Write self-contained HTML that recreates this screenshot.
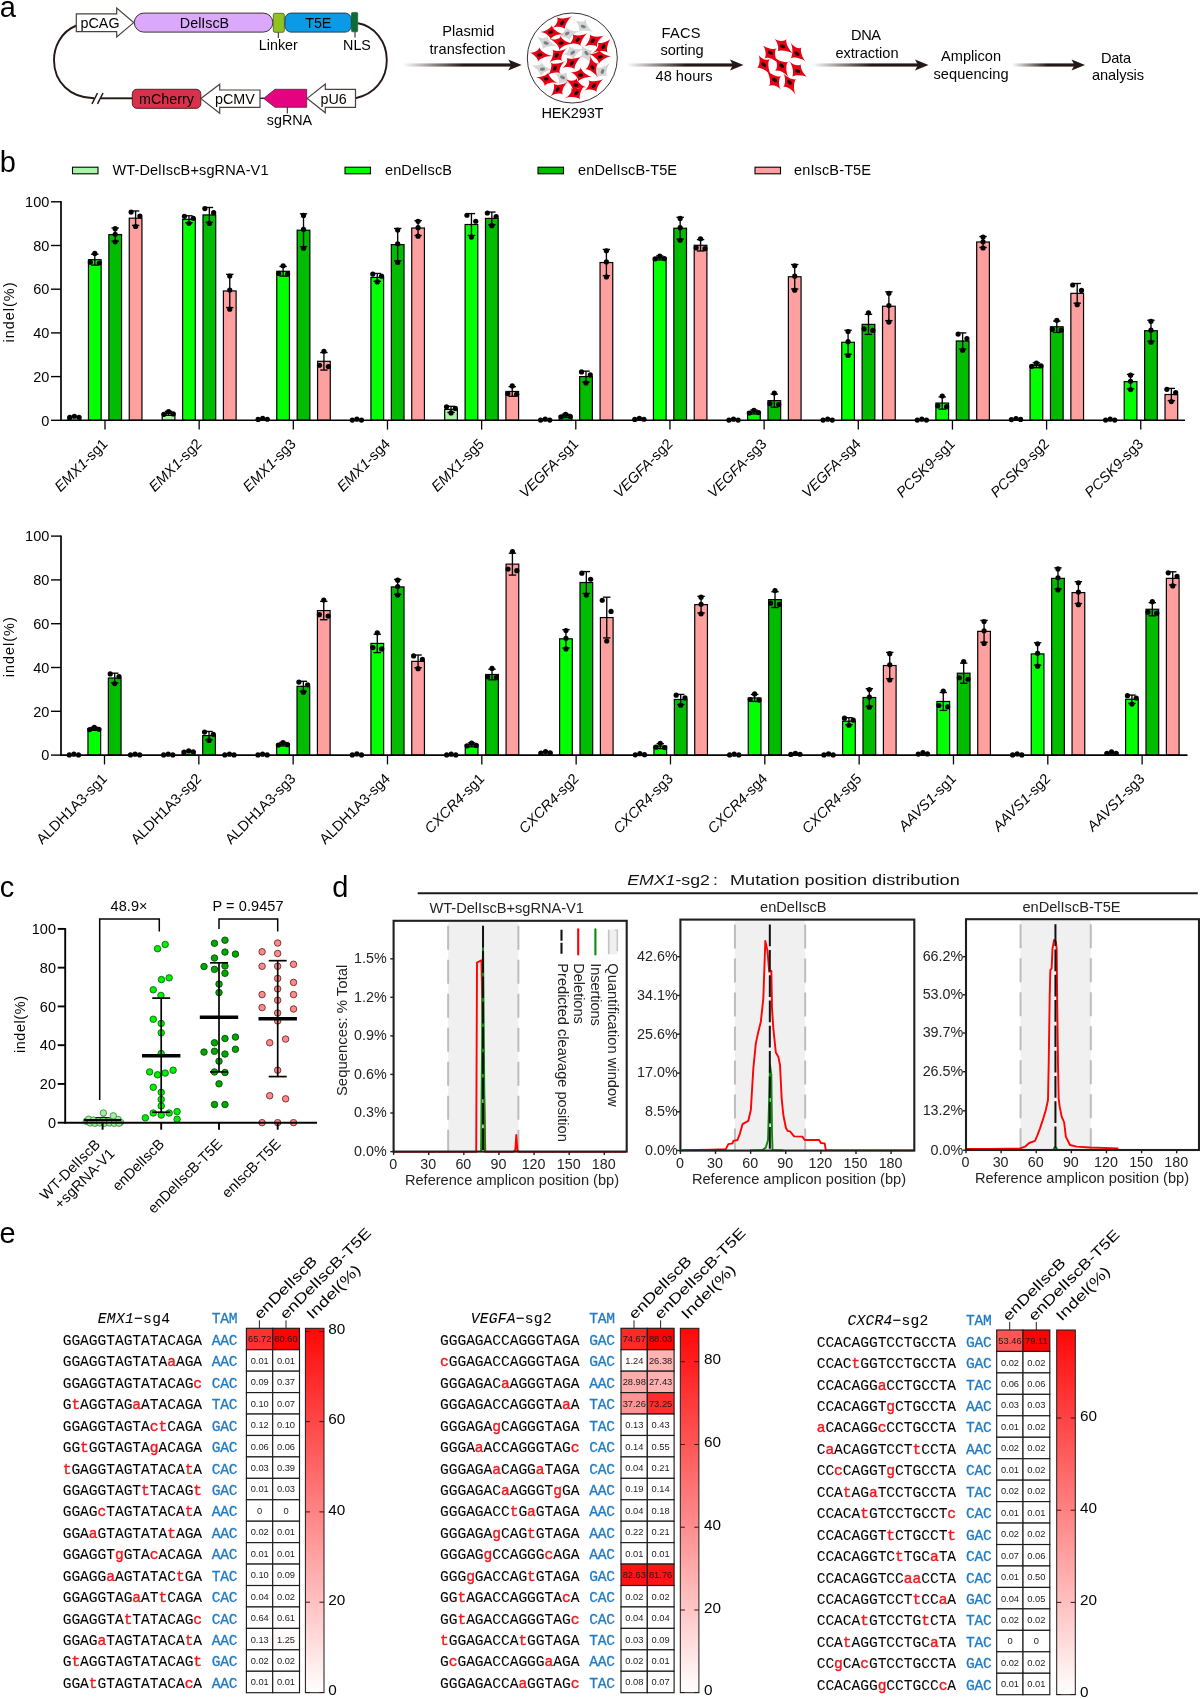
<!DOCTYPE html>
<html><head><meta charset="utf-8"><title>Figure</title>
<style>
html,body{margin:0;padding:0;background:#fff;}
svg{display:block;font-family:"Liberation Sans", sans-serif;}
</style></head><body>
<svg width="1200" height="1699" viewBox="0 0 1200 1699">
<defs>
<linearGradient id="ag" x1="0" y1="0" x2="1" y2="0"><stop offset="0" stop-color="#fff"/><stop offset="0.55" stop-color="#231815"/><stop offset="1" stop-color="#231815"/></linearGradient>
<linearGradient id="cb" x1="0" y1="0" x2="0" y2="1"><stop offset="0" stop-color="#ff0606"/><stop offset="1" stop-color="#ffffff"/></linearGradient>
</defs>
<rect x="0" y="0" width="1200" height="1699" fill="#fff"/>
<g opacity="0.996">
<text x="-0.20" y="16.80" font-size="29">a</text>
<path d="M76.5,25.5 C60,32 54,48 54,60 C54,82 70,98 94,98.3" fill="none" stroke="#231815" stroke-width="1.9" />
<path d="M358,23.3 C374,26 386.8,41 386.8,60 C386.8,80 374,94.5 355.5,98.2" fill="none" stroke="#231815" stroke-width="1.9" />
<line x1="101.00" y1="98.30" x2="132.50" y2="98.30" stroke="#231815" stroke-width="1.9" />
<line x1="92.00" y1="103.80" x2="97.50" y2="93.00" stroke="#231815" stroke-width="1.5" />
<line x1="97.50" y1="103.80" x2="103.00" y2="93.00" stroke="#231815" stroke-width="1.5" />
<line x1="260.00" y1="98.30" x2="264.00" y2="98.30" stroke="#231815" stroke-width="1.4" />
<path d="M76.3,13.8 L116.7,13.8 L116.7,8 L133.7,22.6 L116.7,37 L116.7,31.6 L76.3,31.6 Z" fill="#fff" stroke="#4a3f3c" stroke-width="1.2" />
<text x="80.60" y="27.80" font-size="14.3">pCAG</text>
<rect x="134.30" y="13.10" width="138.50" height="19.00" fill="#dca8fb" stroke="#3a2f2c" stroke-width="1" rx="9.5" />
<text x="204.50" y="27.90" font-size="14.3" text-anchor="middle">DelIscB</text>
<rect x="273.30" y="13.30" width="11.00" height="19.00" fill="#8fc31f" stroke="#4a5a1c" stroke-width="0.8" rx="1.5" />
<rect x="285.00" y="13.10" width="66.30" height="19.00" fill="#0a9be6" stroke="#1c3f5c" stroke-width="1" rx="6" />
<text x="318.30" y="27.90" font-size="14.3" text-anchor="middle">T5E</text>
<rect x="351.50" y="12.40" width="6.20" height="19.40" fill="#0b6a35" stroke="#0b4f29" stroke-width="0.6" rx="1" />
<line x1="278.30" y1="32.40" x2="278.30" y2="38.00" stroke="#231815" stroke-width="1" />
<text x="278.30" y="50.00" font-size="14.3" text-anchor="middle">Linker</text>
<line x1="355.00" y1="31.80" x2="355.00" y2="37.50" stroke="#231815" stroke-width="1" />
<text x="357.00" y="50.00" font-size="14.3" text-anchor="middle">NLS</text>
<rect x="132.30" y="89.30" width="68.50" height="19.00" fill="#d9304a" stroke="#5a1c24" stroke-width="1" rx="4.5" />
<text x="166.50" y="103.50" font-size="14.3" text-anchor="middle">mCherry</text>
<path d="M200.9,98.6 L219.7,84.2 L219.7,90 L260,90 L260,107.3 L219.7,107.3 L219.7,113.2 Z" fill="#fff" stroke="#4a3f3c" stroke-width="1.2" />
<text x="215.00" y="103.50" font-size="14.3">pCMV</text>
<path d="M263.6,98.4 L275,89.3 L306.7,89.3 L306.7,107.3 L275,107.3 Z" fill="#e4007f" stroke="#5a1c3c" stroke-width="0.8" />
<line x1="287.30" y1="107.30" x2="287.30" y2="113.50" stroke="#231815" stroke-width="1" />
<text x="289.50" y="124.80" font-size="14.3" text-anchor="middle">sgRNA</text>
<path d="M307.2,98.4 L325.3,84 L325.3,89.3 L355.5,89.3 L355.5,107.3 L325.3,107.3 L325.3,112.8 Z" fill="#fff" stroke="#4a3f3c" stroke-width="1.2" />
<text x="320.60" y="103.50" font-size="14.3">pU6</text>
<rect x="403" y="63.4" width="109.70000000000005" height="3.2" fill="url(#ag)"/>
<path d="M521.7,65 L508.20000000000005,59.4 L511.20000000000005,65 L508.20000000000005,70.6 Z" fill="#231815" stroke="none" stroke-width="0" />
<rect x="627" y="63.4" width="107.5" height="3.2" fill="url(#ag)"/>
<path d="M743.5,65 L730.0,59.4 L733.0,65 L730.0,70.6 Z" fill="#231815" stroke="none" stroke-width="0" />
<rect x="812" y="63.4" width="107.5" height="3.2" fill="url(#ag)"/>
<path d="M928.5,65 L915.0,59.4 L918.0,65 L915.0,70.6 Z" fill="#231815" stroke="none" stroke-width="0" />
<rect x="1012" y="63.4" width="64" height="3.2" fill="url(#ag)"/>
<path d="M1085,65 L1071.5,59.4 L1074.5,65 L1071.5,70.6 Z" fill="#231815" stroke="none" stroke-width="0" />
<text x="468.30" y="36.10" font-size="14.6" text-anchor="middle" textLength="52.0" lengthAdjust="spacing">Plasmid</text>
<text x="467.50" y="54.20" font-size="14.6" text-anchor="middle" textLength="76.0" lengthAdjust="spacing">transfection</text>
<text x="681.00" y="38.00" font-size="14.6" text-anchor="middle" textLength="39.0" lengthAdjust="spacing">FACS</text>
<text x="682.00" y="54.60" font-size="14.6" text-anchor="middle" textLength="43.0" lengthAdjust="spacing">sorting</text>
<text x="684.00" y="81.30" font-size="14.6" text-anchor="middle" textLength="57.0" lengthAdjust="spacing">48 hours</text>
<text x="866.00" y="39.50" font-size="14.6" text-anchor="middle" textLength="30.0" lengthAdjust="spacing">DNA</text>
<text x="867.00" y="57.50" font-size="14.6" text-anchor="middle" textLength="63.0" lengthAdjust="spacing">extraction</text>
<text x="971.00" y="61.30" font-size="14.6" text-anchor="middle" textLength="60.0" lengthAdjust="spacing">Amplicon</text>
<text x="971.00" y="78.60" font-size="14.6" text-anchor="middle" textLength="75.0" lengthAdjust="spacing">sequencing</text>
<text x="1116.00" y="63.00" font-size="14.6" text-anchor="middle" textLength="30.0" lengthAdjust="spacing">Data</text>
<text x="1118.00" y="80.30" font-size="14.6" text-anchor="middle" textLength="52.0" lengthAdjust="spacing">analysis</text>
<text x="572.50" y="117.50" font-size="14.6" text-anchor="middle" textLength="62.0" lengthAdjust="spacing">HEK293T</text>
<circle cx="572.30" cy="58.00" r="45" fill="#fff" stroke="#3a2f2c" stroke-width="1"/>
<g transform="translate(583.25 26.54) rotate(30)"><path d="M12.48,0.00 C7.24,0.00 -0.71,4.04 -1.23,6.96 C-0.71,4.04 -6.27,-0.88 -10.81,-1.52 C-6.27,-0.88 -0.64,-4.54 -1.10,-7.83 C-0.64,-4.54 7.24,0.00 12.48,0.00 Z" fill="#d3d5d6"/><ellipse cx="0" cy="0" rx="2.60" ry="1.61" fill="#7d7d7d" transform="rotate(-15)"/></g>
<g transform="translate(567.21 33.42) rotate(-15)"><path d="M12.95,1.13 C7.51,0.66 0.39,4.51 0.68,7.77 C0.39,4.51 -6.01,0.53 -10.36,0.91 C-6.01,0.53 0.36,-4.09 0.62,-7.05 C0.36,-4.09 7.51,0.66 12.95,1.13 Z" fill="#d3d5d6"/><ellipse cx="0" cy="0" rx="2.60" ry="1.61" fill="#7d7d7d" transform="rotate(-15)"/></g>
<g transform="translate(546.13 43.04) rotate(25)"><path d="M11.33,-1.59 C6.57,-0.92 -0.38,4.33 -0.65,7.46 C-0.38,4.33 -7.13,-1.26 -12.29,-2.17 C-7.13,-1.26 -1.09,-4.08 -1.88,-7.03 C-1.09,-4.08 6.57,-0.92 11.33,-1.59 Z" fill="#d3d5d6"/><ellipse cx="0" cy="0" rx="2.60" ry="1.61" fill="#7d7d7d" transform="rotate(-15)"/></g>
<g transform="translate(572.71 52.67) rotate(-20)"><path d="M12.48,0.00 C7.24,0.00 -0.71,4.04 -1.23,6.96 C-0.71,4.04 -6.27,-0.88 -10.81,-1.52 C-6.27,-0.88 -0.64,-4.54 -1.10,-7.83 C-0.64,-4.54 7.24,0.00 12.48,0.00 Z" fill="#d3d5d6"/><ellipse cx="0" cy="0" rx="2.60" ry="1.61" fill="#7d7d7d" transform="rotate(-15)"/></g>
<g transform="translate(586.46 53.13) rotate(60)"><path d="M12.95,1.13 C7.51,0.66 0.39,4.51 0.68,7.77 C0.39,4.51 -6.01,0.53 -10.36,0.91 C-6.01,0.53 0.36,-4.09 0.62,-7.05 C0.36,-4.09 7.51,0.66 12.95,1.13 Z" fill="#d3d5d6"/><ellipse cx="0" cy="0" rx="2.60" ry="1.61" fill="#7d7d7d" transform="rotate(-15)"/></g>
<g transform="translate(542.46 69.17) rotate(10)"><path d="M11.33,-1.59 C6.57,-0.92 -0.38,4.33 -0.65,7.46 C-0.38,4.33 -7.13,-1.26 -12.29,-2.17 C-7.13,-1.26 -1.09,-4.08 -1.88,-7.03 C-1.09,-4.08 6.57,-0.92 11.33,-1.59 Z" fill="#d3d5d6"/><ellipse cx="0" cy="0" rx="2.60" ry="1.61" fill="#7d7d7d" transform="rotate(-15)"/></g>
<g transform="translate(602.50 71.46) rotate(-50)"><path d="M12.48,0.00 C7.24,0.00 -0.71,4.04 -1.23,6.96 C-0.71,4.04 -6.27,-0.88 -10.81,-1.52 C-6.27,-0.88 -0.64,-4.54 -1.10,-7.83 C-0.64,-4.54 7.24,0.00 12.48,0.00 Z" fill="#d3d5d6"/><ellipse cx="0" cy="0" rx="2.60" ry="1.61" fill="#7d7d7d" transform="rotate(-15)"/></g>
<g transform="translate(562.63 77.42) rotate(35)"><path d="M12.95,1.13 C7.51,0.66 0.39,4.51 0.68,7.77 C0.39,4.51 -6.01,0.53 -10.36,0.91 C-6.01,0.53 0.36,-4.09 0.62,-7.05 C0.36,-4.09 7.51,0.66 12.95,1.13 Z" fill="#d3d5d6"/><ellipse cx="0" cy="0" rx="2.60" ry="1.61" fill="#7d7d7d" transform="rotate(-15)"/></g>
<g transform="translate(562.17 22.88) rotate(-35)"><path d="M12.48,0.00 C7.24,0.00 -0.71,4.04 -1.23,6.96 C-0.71,4.04 -6.27,-0.88 -10.81,-1.52 C-6.27,-0.88 -0.64,-4.54 -1.10,-7.83 C-0.64,-4.54 7.24,0.00 12.48,0.00 Z" fill="#e60012"/><ellipse cx="0" cy="0" rx="2.60" ry="1.61" fill="#1a0a0a" transform="rotate(-15)"/></g>
<g transform="translate(550.71 32.04) rotate(5)"><path d="M12.95,1.13 C7.51,0.66 0.39,4.51 0.68,7.77 C0.39,4.51 -6.01,0.53 -10.36,0.91 C-6.01,0.53 0.36,-4.09 0.62,-7.05 C0.36,-4.09 7.51,0.66 12.95,1.13 Z" fill="#e60012"/><ellipse cx="0" cy="0" rx="2.60" ry="1.61" fill="#1a0a0a" transform="rotate(-15)"/></g>
<g transform="translate(561.25 43.04) rotate(10)"><path d="M11.33,-1.59 C6.57,-0.92 -0.38,4.33 -0.65,7.46 C-0.38,4.33 -7.13,-1.26 -12.29,-2.17 C-7.13,-1.26 -1.09,-4.08 -1.88,-7.03 C-1.09,-4.08 6.57,-0.92 11.33,-1.59 Z" fill="#e60012"/><ellipse cx="0" cy="0" rx="2.60" ry="1.61" fill="#1a0a0a" transform="rotate(-15)"/></g>
<g transform="translate(577.75 39.83) rotate(-35)"><path d="M12.48,0.00 C7.24,0.00 -0.71,4.04 -1.23,6.96 C-0.71,4.04 -6.27,-0.88 -10.81,-1.52 C-6.27,-0.88 -0.64,-4.54 -1.10,-7.83 C-0.64,-4.54 7.24,0.00 12.48,0.00 Z" fill="#e60012"/><ellipse cx="0" cy="0" rx="2.60" ry="1.61" fill="#1a0a0a" transform="rotate(-15)"/></g>
<g transform="translate(592.88 40.75) rotate(-30)"><path d="M12.95,1.13 C7.51,0.66 0.39,4.51 0.68,7.77 C0.39,4.51 -6.01,0.53 -10.36,0.91 C-6.01,0.53 0.36,-4.09 0.62,-7.05 C0.36,-4.09 7.51,0.66 12.95,1.13 Z" fill="#e60012"/><ellipse cx="0" cy="0" rx="2.60" ry="1.61" fill="#1a0a0a" transform="rotate(-15)"/></g>
<g transform="translate(603.42 46.71) rotate(-40)"><path d="M11.33,-1.59 C6.57,-0.92 -0.38,4.33 -0.65,7.46 C-0.38,4.33 -7.13,-1.26 -12.29,-2.17 C-7.13,-1.26 -1.09,-4.08 -1.88,-7.03 C-1.09,-4.08 6.57,-0.92 11.33,-1.59 Z" fill="#e60012"/><ellipse cx="0" cy="0" rx="2.60" ry="1.61" fill="#1a0a0a" transform="rotate(-15)"/></g>
<g transform="translate(539.71 54.96) rotate(5)"><path d="M12.48,0.00 C7.24,0.00 -0.71,4.04 -1.23,6.96 C-0.71,4.04 -6.27,-0.88 -10.81,-1.52 C-6.27,-0.88 -0.64,-4.54 -1.10,-7.83 C-0.64,-4.54 7.24,0.00 12.48,0.00 Z" fill="#e60012"/><ellipse cx="0" cy="0" rx="2.60" ry="1.61" fill="#1a0a0a" transform="rotate(-15)"/></g>
<g transform="translate(556.67 55.42) rotate(-40)"><path d="M12.95,1.13 C7.51,0.66 0.39,4.51 0.68,7.77 C0.39,4.51 -6.01,0.53 -10.36,0.91 C-6.01,0.53 0.36,-4.09 0.62,-7.05 C0.36,-4.09 7.51,0.66 12.95,1.13 Z" fill="#e60012"/><ellipse cx="0" cy="0" rx="2.60" ry="1.61" fill="#1a0a0a" transform="rotate(-15)"/></g>
<g transform="translate(600.21 56.79) rotate(5)"><path d="M11.33,-1.59 C6.57,-0.92 -0.38,4.33 -0.65,7.46 C-0.38,4.33 -7.13,-1.26 -12.29,-2.17 C-7.13,-1.26 -1.09,-4.08 -1.88,-7.03 C-1.09,-4.08 6.57,-0.92 11.33,-1.59 Z" fill="#e60012"/><ellipse cx="0" cy="0" rx="2.60" ry="1.61" fill="#1a0a0a" transform="rotate(-15)"/></g>
<g transform="translate(571.79 63.21) rotate(-35)"><path d="M12.48,0.00 C7.24,0.00 -0.71,4.04 -1.23,6.96 C-0.71,4.04 -6.27,-0.88 -10.81,-1.52 C-6.27,-0.88 -0.64,-4.54 -1.10,-7.83 C-0.64,-4.54 7.24,0.00 12.48,0.00 Z" fill="#e60012"/><ellipse cx="0" cy="0" rx="2.60" ry="1.61" fill="#1a0a0a" transform="rotate(-15)"/></g>
<g transform="translate(554.83 68.25) rotate(-40)"><path d="M12.95,1.13 C7.51,0.66 0.39,4.51 0.68,7.77 C0.39,4.51 -6.01,0.53 -10.36,0.91 C-6.01,0.53 0.36,-4.09 0.62,-7.05 C0.36,-4.09 7.51,0.66 12.95,1.13 Z" fill="#e60012"/><ellipse cx="0" cy="0" rx="2.60" ry="1.61" fill="#1a0a0a" transform="rotate(-15)"/></g>
<g transform="translate(592.42 67.33) rotate(70)"><path d="M11.33,-1.59 C6.57,-0.92 -0.38,4.33 -0.65,7.46 C-0.38,4.33 -7.13,-1.26 -12.29,-2.17 C-7.13,-1.26 -1.09,-4.08 -1.88,-7.03 C-1.09,-4.08 6.57,-0.92 11.33,-1.59 Z" fill="#e60012"/><ellipse cx="0" cy="0" rx="2.60" ry="1.61" fill="#1a0a0a" transform="rotate(-15)"/></g>
<g transform="translate(580.50 75.13) rotate(10)"><path d="M12.48,0.00 C7.24,0.00 -0.71,4.04 -1.23,6.96 C-0.71,4.04 -6.27,-0.88 -10.81,-1.52 C-6.27,-0.88 -0.64,-4.54 -1.10,-7.83 C-0.64,-4.54 7.24,0.00 12.48,0.00 Z" fill="#e60012"/><ellipse cx="0" cy="0" rx="2.60" ry="1.61" fill="#1a0a0a" transform="rotate(-15)"/></g>
<g transform="translate(546.13 78.79) rotate(15)"><path d="M12.95,1.13 C7.51,0.66 0.39,4.51 0.68,7.77 C0.39,4.51 -6.01,0.53 -10.36,0.91 C-6.01,0.53 0.36,-4.09 0.62,-7.05 C0.36,-4.09 7.51,0.66 12.95,1.13 Z" fill="#e60012"/><ellipse cx="0" cy="0" rx="2.60" ry="1.61" fill="#1a0a0a" transform="rotate(-15)"/></g>
<g transform="translate(575.92 85.21) rotate(20)"><path d="M11.33,-1.59 C6.57,-0.92 -0.38,4.33 -0.65,7.46 C-0.38,4.33 -7.13,-1.26 -12.29,-2.17 C-7.13,-1.26 -1.09,-4.08 -1.88,-7.03 C-1.09,-4.08 6.57,-0.92 11.33,-1.59 Z" fill="#e60012"/><ellipse cx="0" cy="0" rx="2.60" ry="1.61" fill="#1a0a0a" transform="rotate(-15)"/></g>
<g transform="translate(593.79 85.67) rotate(-35)"><path d="M12.48,0.00 C7.24,0.00 -0.71,4.04 -1.23,6.96 C-0.71,4.04 -6.27,-0.88 -10.81,-1.52 C-6.27,-0.88 -0.64,-4.54 -1.10,-7.83 C-0.64,-4.54 7.24,0.00 12.48,0.00 Z" fill="#e60012"/><ellipse cx="0" cy="0" rx="2.60" ry="1.61" fill="#1a0a0a" transform="rotate(-15)"/></g>
<g transform="translate(557.58 89.33) rotate(-40)"><path d="M12.95,1.13 C7.51,0.66 0.39,4.51 0.68,7.77 C0.39,4.51 -6.01,0.53 -10.36,0.91 C-6.01,0.53 0.36,-4.09 0.62,-7.05 C0.36,-4.09 7.51,0.66 12.95,1.13 Z" fill="#e60012"/><ellipse cx="0" cy="0" rx="2.60" ry="1.61" fill="#1a0a0a" transform="rotate(-15)"/></g>
<g transform="translate(576.38 93.00) rotate(-35)"><path d="M11.33,-1.59 C6.57,-0.92 -0.38,4.33 -0.65,7.46 C-0.38,4.33 -7.13,-1.26 -12.29,-2.17 C-7.13,-1.26 -1.09,-4.08 -1.88,-7.03 C-1.09,-4.08 6.57,-0.92 11.33,-1.59 Z" fill="#e60012"/><ellipse cx="0" cy="0" rx="2.60" ry="1.61" fill="#1a0a0a" transform="rotate(-15)"/></g>
<g transform="translate(782.67 46.33) rotate(35)"><path d="M13.44,0.00 C7.80,0.00 -0.77,4.35 -1.32,7.50 C-0.77,4.35 -6.75,-0.95 -11.65,-1.64 C-6.75,-0.95 -0.69,-4.89 -1.18,-8.43 C-0.69,-4.89 7.80,0.00 13.44,0.00 Z" fill="#e60012"/><ellipse cx="0" cy="0" rx="2.80" ry="1.74" fill="#1a0a0a" transform="rotate(-15)"/></g>
<g transform="translate(770.33 52.67) rotate(50)"><path d="M13.95,1.22 C8.09,0.71 0.42,4.85 0.73,8.37 C0.42,4.85 -6.47,0.57 -11.16,0.98 C-6.47,0.57 0.38,-4.40 0.66,-7.59 C0.38,-4.40 8.09,0.71 13.95,1.22 Z" fill="#e60012"/><ellipse cx="0" cy="0" rx="2.80" ry="1.74" fill="#1a0a0a" transform="rotate(-15)"/></g>
<g transform="translate(797.00 53.67) rotate(50)"><path d="M12.20,-1.71 C7.08,-0.99 -0.41,4.66 -0.70,8.03 C-0.41,4.66 -7.68,-1.35 -13.24,-2.33 C-7.68,-1.35 -1.18,-4.39 -2.03,-7.57 C-1.18,-4.39 7.08,-0.99 12.20,-1.71 Z" fill="#e60012"/><ellipse cx="0" cy="0" rx="2.80" ry="1.74" fill="#1a0a0a" transform="rotate(-15)"/></g>
<g transform="translate(763.67 64.67) rotate(55)"><path d="M13.44,0.00 C7.80,0.00 -0.77,4.35 -1.32,7.50 C-0.77,4.35 -6.75,-0.95 -11.65,-1.64 C-6.75,-0.95 -0.69,-4.89 -1.18,-8.43 C-0.69,-4.89 7.80,0.00 13.44,0.00 Z" fill="#e60012"/><ellipse cx="0" cy="0" rx="2.80" ry="1.74" fill="#1a0a0a" transform="rotate(-15)"/></g>
<g transform="translate(781.67 65.67) rotate(55)"><path d="M13.95,1.22 C8.09,0.71 0.42,4.85 0.73,8.37 C0.42,4.85 -6.47,0.57 -11.16,0.98 C-6.47,0.57 0.38,-4.40 0.66,-7.59 C0.38,-4.40 8.09,0.71 13.95,1.22 Z" fill="#e60012"/><ellipse cx="0" cy="0" rx="2.80" ry="1.74" fill="#1a0a0a" transform="rotate(-15)"/></g>
<g transform="translate(797.67 71.00) rotate(40)"><path d="M12.20,-1.71 C7.08,-0.99 -0.41,4.66 -0.70,8.03 C-0.41,4.66 -7.68,-1.35 -13.24,-2.33 C-7.68,-1.35 -1.18,-4.39 -2.03,-7.57 C-1.18,-4.39 7.08,-0.99 12.20,-1.71 Z" fill="#e60012"/><ellipse cx="0" cy="0" rx="2.80" ry="1.74" fill="#1a0a0a" transform="rotate(-15)"/></g>
<g transform="translate(774.67 80.00) rotate(230)"><path d="M13.44,0.00 C7.80,0.00 -0.77,4.35 -1.32,7.50 C-0.77,4.35 -6.75,-0.95 -11.65,-1.64 C-6.75,-0.95 -0.69,-4.89 -1.18,-8.43 C-0.69,-4.89 7.80,0.00 13.44,0.00 Z" fill="#e60012"/><ellipse cx="0" cy="0" rx="2.80" ry="1.74" fill="#1a0a0a" transform="rotate(-15)"/></g>
<g transform="translate(789.67 82.33) rotate(60)"><path d="M13.95,1.22 C8.09,0.71 0.42,4.85 0.73,8.37 C0.42,4.85 -6.47,0.57 -11.16,0.98 C-6.47,0.57 0.38,-4.40 0.66,-7.59 C0.38,-4.40 8.09,0.71 13.95,1.22 Z" fill="#e60012"/><ellipse cx="0" cy="0" rx="2.80" ry="1.74" fill="#1a0a0a" transform="rotate(-15)"/></g>
<text x="-0.20" y="171.50" font-size="29">b</text>
<rect x="72.50" y="167.20" width="25.50" height="6.60" fill="#a8f5a8" stroke="#000" stroke-width="1.1" />
<text x="112.50" y="175.30" font-size="14.5" textLength="156.0" lengthAdjust="spacing">WT-DelIscB+sgRNA-V1</text>
<rect x="345.00" y="167.20" width="25.50" height="6.60" fill="#00ff00" stroke="#000" stroke-width="1.1" />
<text x="385.00" y="175.30" font-size="14.5" textLength="67.0" lengthAdjust="spacing">enDelIscB</text>
<rect x="538.00" y="167.20" width="25.50" height="6.60" fill="#00bc00" stroke="#000" stroke-width="1.1" />
<text x="578.00" y="175.30" font-size="14.5" textLength="99.0" lengthAdjust="spacing">enDelIscB-T5E</text>
<rect x="755.00" y="167.20" width="25.50" height="6.60" fill="#ffa0a0" stroke="#000" stroke-width="1.1" />
<text x="794.00" y="175.30" font-size="14.5" textLength="77.0" lengthAdjust="spacing">enIscB-T5E</text>
<rect x="68.05" y="417.02" width="12.70" height="3.28" fill="#a8f5a8" stroke="#000" stroke-width="1.2" />
<circle cx="69.80" cy="417.46" r="2.6" fill="#000" stroke="none" stroke-width="1"/>
<circle cx="74.40" cy="416.24" r="2.6" fill="#000" stroke="none" stroke-width="1"/>
<circle cx="79.00" cy="417.28" r="2.6" fill="#000" stroke="none" stroke-width="1"/>
<rect x="88.45" y="259.70" width="12.70" height="160.60" fill="#00ff00" stroke="#000" stroke-width="1.2" />
<line x1="94.80" y1="254.24" x2="94.80" y2="265.16" stroke="#000" stroke-width="1.35" />
<line x1="91.10" y1="254.24" x2="98.50" y2="254.24" stroke="#000" stroke-width="1.35" />
<line x1="91.10" y1="265.16" x2="98.50" y2="265.16" stroke="#000" stroke-width="1.35" />
<circle cx="94.80" cy="253.42" r="2.6" fill="#000" stroke="none" stroke-width="1"/>
<circle cx="90.40" cy="262.16" r="2.6" fill="#000" stroke="none" stroke-width="1"/>
<circle cx="99.20" cy="262.98" r="2.6" fill="#000" stroke="none" stroke-width="1"/>
<rect x="108.85" y="234.58" width="12.70" height="185.72" fill="#00bc00" stroke="#000" stroke-width="1.2" />
<line x1="115.20" y1="228.02" x2="115.20" y2="241.13" stroke="#000" stroke-width="1.35" />
<line x1="111.50" y1="228.02" x2="118.90" y2="228.02" stroke="#000" stroke-width="1.35" />
<line x1="111.50" y1="241.13" x2="118.90" y2="241.13" stroke="#000" stroke-width="1.35" />
<circle cx="115.20" cy="228.68" r="2.6" fill="#000" stroke="none" stroke-width="1"/>
<circle cx="115.20" cy="234.25" r="2.6" fill="#000" stroke="none" stroke-width="1"/>
<circle cx="115.20" cy="241.79" r="2.6" fill="#000" stroke="none" stroke-width="1"/>
<rect x="129.25" y="218.19" width="12.70" height="202.11" fill="#ffa0a0" stroke="#000" stroke-width="1.2" />
<line x1="135.60" y1="210.98" x2="135.60" y2="225.40" stroke="#000" stroke-width="1.35" />
<line x1="131.90" y1="210.98" x2="139.30" y2="210.98" stroke="#000" stroke-width="1.35" />
<line x1="131.90" y1="225.40" x2="139.30" y2="225.40" stroke="#000" stroke-width="1.35" />
<circle cx="131.10" cy="212.06" r="2.6" fill="#000" stroke="none" stroke-width="1"/>
<circle cx="139.90" cy="216.02" r="2.6" fill="#000" stroke="none" stroke-width="1"/>
<circle cx="135.60" cy="226.48" r="2.6" fill="#000" stroke="none" stroke-width="1"/>
<rect x="162.21" y="413.31" width="12.70" height="6.99" fill="#a8f5a8" stroke="#000" stroke-width="1.2" />
<line x1="168.56" y1="411.34" x2="168.56" y2="415.27" stroke="#000" stroke-width="1.35" />
<line x1="164.86" y1="411.34" x2="172.26" y2="411.34" stroke="#000" stroke-width="1.35" />
<line x1="164.86" y1="415.27" x2="172.26" y2="415.27" stroke="#000" stroke-width="1.35" />
<circle cx="163.96" cy="414.29" r="2.6" fill="#000" stroke="none" stroke-width="1"/>
<circle cx="168.56" cy="411.54" r="2.6" fill="#000" stroke="none" stroke-width="1"/>
<circle cx="173.16" cy="413.90" r="2.6" fill="#000" stroke="none" stroke-width="1"/>
<rect x="182.61" y="219.28" width="12.70" height="201.02" fill="#00ff00" stroke="#000" stroke-width="1.2" />
<line x1="188.96" y1="215.78" x2="188.96" y2="222.78" stroke="#000" stroke-width="1.35" />
<line x1="185.26" y1="215.78" x2="192.66" y2="215.78" stroke="#000" stroke-width="1.35" />
<line x1="185.26" y1="222.78" x2="192.66" y2="222.78" stroke="#000" stroke-width="1.35" />
<circle cx="184.46" cy="216.31" r="2.6" fill="#000" stroke="none" stroke-width="1"/>
<circle cx="193.26" cy="218.23" r="2.6" fill="#000" stroke="none" stroke-width="1"/>
<circle cx="188.96" cy="223.30" r="2.6" fill="#000" stroke="none" stroke-width="1"/>
<rect x="203.01" y="214.91" width="12.70" height="205.39" fill="#00bc00" stroke="#000" stroke-width="1.2" />
<line x1="209.36" y1="207.48" x2="209.36" y2="222.34" stroke="#000" stroke-width="1.35" />
<line x1="205.66" y1="207.48" x2="213.06" y2="207.48" stroke="#000" stroke-width="1.35" />
<line x1="205.66" y1="222.34" x2="213.06" y2="222.34" stroke="#000" stroke-width="1.35" />
<circle cx="204.86" cy="208.60" r="2.6" fill="#000" stroke="none" stroke-width="1"/>
<circle cx="213.66" cy="212.68" r="2.6" fill="#000" stroke="none" stroke-width="1"/>
<circle cx="209.36" cy="223.45" r="2.6" fill="#000" stroke="none" stroke-width="1"/>
<rect x="223.41" y="290.95" width="12.70" height="129.35" fill="#ffa0a0" stroke="#000" stroke-width="1.2" />
<line x1="229.76" y1="274.34" x2="229.76" y2="307.55" stroke="#000" stroke-width="1.35" />
<line x1="226.06" y1="274.34" x2="233.46" y2="274.34" stroke="#000" stroke-width="1.35" />
<line x1="226.06" y1="307.55" x2="233.46" y2="307.55" stroke="#000" stroke-width="1.35" />
<circle cx="229.76" cy="276.00" r="2.6" fill="#000" stroke="none" stroke-width="1"/>
<circle cx="229.76" cy="290.12" r="2.6" fill="#000" stroke="none" stroke-width="1"/>
<circle cx="229.76" cy="309.21" r="2.6" fill="#000" stroke="none" stroke-width="1"/>
<circle cx="258.12" cy="419.39" r="2.6" fill="#000" stroke="none" stroke-width="1"/>
<circle cx="262.72" cy="418.27" r="2.6" fill="#000" stroke="none" stroke-width="1"/>
<circle cx="267.32" cy="419.23" r="2.6" fill="#000" stroke="none" stroke-width="1"/>
<rect x="276.77" y="271.28" width="12.70" height="149.02" fill="#00ff00" stroke="#000" stroke-width="1.2" />
<line x1="283.12" y1="266.48" x2="283.12" y2="276.09" stroke="#000" stroke-width="1.35" />
<line x1="279.42" y1="266.48" x2="286.82" y2="266.48" stroke="#000" stroke-width="1.35" />
<line x1="279.42" y1="276.09" x2="286.82" y2="276.09" stroke="#000" stroke-width="1.35" />
<circle cx="283.12" cy="265.75" r="2.6" fill="#000" stroke="none" stroke-width="1"/>
<circle cx="278.72" cy="273.45" r="2.6" fill="#000" stroke="none" stroke-width="1"/>
<circle cx="287.52" cy="274.17" r="2.6" fill="#000" stroke="none" stroke-width="1"/>
<rect x="297.17" y="230.21" width="12.70" height="190.09" fill="#00bc00" stroke="#000" stroke-width="1.2" />
<line x1="303.52" y1="213.82" x2="303.52" y2="246.59" stroke="#000" stroke-width="1.35" />
<line x1="299.82" y1="213.82" x2="307.22" y2="213.82" stroke="#000" stroke-width="1.35" />
<line x1="299.82" y1="246.59" x2="307.22" y2="246.59" stroke="#000" stroke-width="1.35" />
<circle cx="303.52" cy="215.46" r="2.6" fill="#000" stroke="none" stroke-width="1"/>
<circle cx="303.52" cy="229.39" r="2.6" fill="#000" stroke="none" stroke-width="1"/>
<circle cx="303.52" cy="248.23" r="2.6" fill="#000" stroke="none" stroke-width="1"/>
<rect x="317.57" y="361.31" width="12.70" height="59.00" fill="#ffa0a0" stroke="#000" stroke-width="1.2" />
<line x1="323.92" y1="352.56" x2="323.92" y2="370.05" stroke="#000" stroke-width="1.35" />
<line x1="320.22" y1="352.56" x2="327.62" y2="352.56" stroke="#000" stroke-width="1.35" />
<line x1="320.22" y1="370.05" x2="327.62" y2="370.05" stroke="#000" stroke-width="1.35" />
<circle cx="323.92" cy="351.25" r="2.6" fill="#000" stroke="none" stroke-width="1"/>
<circle cx="319.52" cy="365.24" r="2.6" fill="#000" stroke="none" stroke-width="1"/>
<circle cx="328.32" cy="366.55" r="2.6" fill="#000" stroke="none" stroke-width="1"/>
<circle cx="352.28" cy="420.10" r="2.6" fill="#000" stroke="none" stroke-width="1"/>
<circle cx="356.88" cy="419.14" r="2.6" fill="#000" stroke="none" stroke-width="1"/>
<circle cx="361.48" cy="420.10" r="2.6" fill="#000" stroke="none" stroke-width="1"/>
<rect x="370.93" y="277.40" width="12.70" height="142.90" fill="#00ff00" stroke="#000" stroke-width="1.2" />
<line x1="377.28" y1="273.47" x2="377.28" y2="281.33" stroke="#000" stroke-width="1.35" />
<line x1="373.58" y1="273.47" x2="380.98" y2="273.47" stroke="#000" stroke-width="1.35" />
<line x1="373.58" y1="281.33" x2="380.98" y2="281.33" stroke="#000" stroke-width="1.35" />
<circle cx="372.78" cy="274.06" r="2.6" fill="#000" stroke="none" stroke-width="1"/>
<circle cx="381.58" cy="276.22" r="2.6" fill="#000" stroke="none" stroke-width="1"/>
<circle cx="377.28" cy="281.92" r="2.6" fill="#000" stroke="none" stroke-width="1"/>
<rect x="391.33" y="244.63" width="12.70" height="175.67" fill="#00bc00" stroke="#000" stroke-width="1.2" />
<line x1="397.68" y1="228.46" x2="397.68" y2="260.80" stroke="#000" stroke-width="1.35" />
<line x1="393.98" y1="228.46" x2="401.38" y2="228.46" stroke="#000" stroke-width="1.35" />
<line x1="393.98" y1="260.80" x2="401.38" y2="260.80" stroke="#000" stroke-width="1.35" />
<circle cx="397.68" cy="230.07" r="2.6" fill="#000" stroke="none" stroke-width="1"/>
<circle cx="397.68" cy="243.82" r="2.6" fill="#000" stroke="none" stroke-width="1"/>
<circle cx="397.68" cy="262.41" r="2.6" fill="#000" stroke="none" stroke-width="1"/>
<rect x="411.73" y="228.02" width="12.70" height="192.28" fill="#ffa0a0" stroke="#000" stroke-width="1.2" />
<line x1="418.08" y1="220.59" x2="418.08" y2="235.45" stroke="#000" stroke-width="1.35" />
<line x1="414.38" y1="220.59" x2="421.78" y2="220.59" stroke="#000" stroke-width="1.35" />
<line x1="414.38" y1="235.45" x2="421.78" y2="235.45" stroke="#000" stroke-width="1.35" />
<circle cx="418.08" cy="221.33" r="2.6" fill="#000" stroke="none" stroke-width="1"/>
<circle cx="418.08" cy="227.65" r="2.6" fill="#000" stroke="none" stroke-width="1"/>
<circle cx="418.08" cy="236.19" r="2.6" fill="#000" stroke="none" stroke-width="1"/>
<rect x="444.69" y="409.38" width="12.70" height="10.93" fill="#a8f5a8" stroke="#000" stroke-width="1.2" />
<line x1="451.04" y1="406.32" x2="451.04" y2="412.43" stroke="#000" stroke-width="1.35" />
<line x1="447.34" y1="406.32" x2="454.74" y2="406.32" stroke="#000" stroke-width="1.35" />
<line x1="447.34" y1="412.43" x2="454.74" y2="412.43" stroke="#000" stroke-width="1.35" />
<circle cx="446.54" cy="406.77" r="2.6" fill="#000" stroke="none" stroke-width="1"/>
<circle cx="455.34" cy="408.46" r="2.6" fill="#000" stroke="none" stroke-width="1"/>
<circle cx="451.04" cy="412.89" r="2.6" fill="#000" stroke="none" stroke-width="1"/>
<rect x="465.09" y="224.52" width="12.70" height="195.78" fill="#00ff00" stroke="#000" stroke-width="1.2" />
<line x1="471.44" y1="213.60" x2="471.44" y2="235.45" stroke="#000" stroke-width="1.35" />
<line x1="467.74" y1="213.60" x2="475.14" y2="213.60" stroke="#000" stroke-width="1.35" />
<line x1="467.74" y1="235.45" x2="475.14" y2="235.45" stroke="#000" stroke-width="1.35" />
<circle cx="466.94" cy="215.24" r="2.6" fill="#000" stroke="none" stroke-width="1"/>
<circle cx="475.74" cy="221.25" r="2.6" fill="#000" stroke="none" stroke-width="1"/>
<circle cx="471.44" cy="237.09" r="2.6" fill="#000" stroke="none" stroke-width="1"/>
<rect x="485.49" y="218.41" width="12.70" height="201.89" fill="#00bc00" stroke="#000" stroke-width="1.2" />
<line x1="491.84" y1="212.07" x2="491.84" y2="224.74" stroke="#000" stroke-width="1.35" />
<line x1="488.14" y1="212.07" x2="495.54" y2="212.07" stroke="#000" stroke-width="1.35" />
<line x1="488.14" y1="224.74" x2="495.54" y2="224.74" stroke="#000" stroke-width="1.35" />
<circle cx="487.34" cy="213.02" r="2.6" fill="#000" stroke="none" stroke-width="1"/>
<circle cx="496.14" cy="216.51" r="2.6" fill="#000" stroke="none" stroke-width="1"/>
<circle cx="491.84" cy="225.69" r="2.6" fill="#000" stroke="none" stroke-width="1"/>
<rect x="505.89" y="391.46" width="12.70" height="28.84" fill="#ffa0a0" stroke="#000" stroke-width="1.2" />
<line x1="512.24" y1="386.65" x2="512.24" y2="396.27" stroke="#000" stroke-width="1.35" />
<line x1="508.54" y1="386.65" x2="515.94" y2="386.65" stroke="#000" stroke-width="1.35" />
<line x1="508.54" y1="396.27" x2="515.94" y2="396.27" stroke="#000" stroke-width="1.35" />
<circle cx="512.24" cy="385.93" r="2.6" fill="#000" stroke="none" stroke-width="1"/>
<circle cx="507.84" cy="393.62" r="2.6" fill="#000" stroke="none" stroke-width="1"/>
<circle cx="516.64" cy="394.34" r="2.6" fill="#000" stroke="none" stroke-width="1"/>
<circle cx="540.60" cy="420.10" r="2.6" fill="#000" stroke="none" stroke-width="1"/>
<circle cx="545.20" cy="419.14" r="2.6" fill="#000" stroke="none" stroke-width="1"/>
<circle cx="549.80" cy="420.10" r="2.6" fill="#000" stroke="none" stroke-width="1"/>
<rect x="559.25" y="415.93" width="12.70" height="4.37" fill="#00ff00" stroke="#000" stroke-width="1.2" />
<line x1="565.60" y1="414.18" x2="565.60" y2="417.68" stroke="#000" stroke-width="1.35" />
<line x1="561.90" y1="414.18" x2="569.30" y2="414.18" stroke="#000" stroke-width="1.35" />
<line x1="561.90" y1="417.68" x2="569.30" y2="417.68" stroke="#000" stroke-width="1.35" />
<circle cx="561.00" cy="416.80" r="2.6" fill="#000" stroke="none" stroke-width="1"/>
<circle cx="565.60" cy="414.36" r="2.6" fill="#000" stroke="none" stroke-width="1"/>
<circle cx="570.20" cy="416.45" r="2.6" fill="#000" stroke="none" stroke-width="1"/>
<rect x="579.65" y="376.60" width="12.70" height="43.70" fill="#00bc00" stroke="#000" stroke-width="1.2" />
<line x1="586.00" y1="371.14" x2="586.00" y2="382.06" stroke="#000" stroke-width="1.35" />
<line x1="582.30" y1="371.14" x2="589.70" y2="371.14" stroke="#000" stroke-width="1.35" />
<line x1="582.30" y1="382.06" x2="589.70" y2="382.06" stroke="#000" stroke-width="1.35" />
<circle cx="581.50" cy="371.96" r="2.6" fill="#000" stroke="none" stroke-width="1"/>
<circle cx="590.30" cy="374.96" r="2.6" fill="#000" stroke="none" stroke-width="1"/>
<circle cx="586.00" cy="382.88" r="2.6" fill="#000" stroke="none" stroke-width="1"/>
<rect x="600.05" y="262.54" width="12.70" height="157.76" fill="#ffa0a0" stroke="#000" stroke-width="1.2" />
<line x1="606.40" y1="249.43" x2="606.40" y2="275.65" stroke="#000" stroke-width="1.35" />
<line x1="602.70" y1="249.43" x2="610.10" y2="249.43" stroke="#000" stroke-width="1.35" />
<line x1="602.70" y1="275.65" x2="610.10" y2="275.65" stroke="#000" stroke-width="1.35" />
<circle cx="606.40" cy="250.74" r="2.6" fill="#000" stroke="none" stroke-width="1"/>
<circle cx="606.40" cy="261.89" r="2.6" fill="#000" stroke="none" stroke-width="1"/>
<circle cx="606.40" cy="276.96" r="2.6" fill="#000" stroke="none" stroke-width="1"/>
<circle cx="634.76" cy="419.39" r="2.6" fill="#000" stroke="none" stroke-width="1"/>
<circle cx="639.36" cy="418.27" r="2.6" fill="#000" stroke="none" stroke-width="1"/>
<circle cx="643.96" cy="419.23" r="2.6" fill="#000" stroke="none" stroke-width="1"/>
<rect x="653.41" y="257.95" width="12.70" height="162.35" fill="#00ff00" stroke="#000" stroke-width="1.2" />
<line x1="659.76" y1="255.99" x2="659.76" y2="259.92" stroke="#000" stroke-width="1.35" />
<line x1="656.06" y1="255.99" x2="663.46" y2="255.99" stroke="#000" stroke-width="1.35" />
<line x1="656.06" y1="259.92" x2="663.46" y2="259.92" stroke="#000" stroke-width="1.35" />
<circle cx="655.16" cy="258.94" r="2.6" fill="#000" stroke="none" stroke-width="1"/>
<circle cx="659.76" cy="256.18" r="2.6" fill="#000" stroke="none" stroke-width="1"/>
<circle cx="664.36" cy="258.54" r="2.6" fill="#000" stroke="none" stroke-width="1"/>
<rect x="673.81" y="228.24" width="12.70" height="192.06" fill="#00bc00" stroke="#000" stroke-width="1.2" />
<line x1="680.16" y1="217.31" x2="680.16" y2="239.16" stroke="#000" stroke-width="1.35" />
<line x1="676.46" y1="217.31" x2="683.86" y2="217.31" stroke="#000" stroke-width="1.35" />
<line x1="676.46" y1="239.16" x2="683.86" y2="239.16" stroke="#000" stroke-width="1.35" />
<circle cx="680.16" cy="218.41" r="2.6" fill="#000" stroke="none" stroke-width="1"/>
<circle cx="680.16" cy="227.69" r="2.6" fill="#000" stroke="none" stroke-width="1"/>
<circle cx="680.16" cy="240.26" r="2.6" fill="#000" stroke="none" stroke-width="1"/>
<rect x="694.21" y="245.28" width="12.70" height="175.02" fill="#ffa0a0" stroke="#000" stroke-width="1.2" />
<line x1="700.56" y1="239.60" x2="700.56" y2="250.96" stroke="#000" stroke-width="1.35" />
<line x1="696.86" y1="239.60" x2="704.26" y2="239.60" stroke="#000" stroke-width="1.35" />
<line x1="696.86" y1="250.96" x2="704.26" y2="250.96" stroke="#000" stroke-width="1.35" />
<circle cx="700.56" cy="238.75" r="2.6" fill="#000" stroke="none" stroke-width="1"/>
<circle cx="696.16" cy="247.84" r="2.6" fill="#000" stroke="none" stroke-width="1"/>
<circle cx="704.96" cy="248.69" r="2.6" fill="#000" stroke="none" stroke-width="1"/>
<circle cx="728.92" cy="420.10" r="2.6" fill="#000" stroke="none" stroke-width="1"/>
<circle cx="733.52" cy="419.14" r="2.6" fill="#000" stroke="none" stroke-width="1"/>
<circle cx="738.12" cy="420.10" r="2.6" fill="#000" stroke="none" stroke-width="1"/>
<rect x="747.57" y="412.00" width="12.70" height="8.30" fill="#00ff00" stroke="#000" stroke-width="1.2" />
<line x1="753.92" y1="410.03" x2="753.92" y2="413.96" stroke="#000" stroke-width="1.35" />
<line x1="750.22" y1="410.03" x2="757.62" y2="410.03" stroke="#000" stroke-width="1.35" />
<line x1="750.22" y1="413.96" x2="757.62" y2="413.96" stroke="#000" stroke-width="1.35" />
<circle cx="749.32" cy="412.98" r="2.6" fill="#000" stroke="none" stroke-width="1"/>
<circle cx="753.92" cy="410.23" r="2.6" fill="#000" stroke="none" stroke-width="1"/>
<circle cx="758.52" cy="412.59" r="2.6" fill="#000" stroke="none" stroke-width="1"/>
<rect x="767.97" y="400.63" width="12.70" height="19.66" fill="#00bc00" stroke="#000" stroke-width="1.2" />
<line x1="774.32" y1="394.08" x2="774.32" y2="407.19" stroke="#000" stroke-width="1.35" />
<line x1="770.62" y1="394.08" x2="778.02" y2="394.08" stroke="#000" stroke-width="1.35" />
<line x1="770.62" y1="407.19" x2="778.02" y2="407.19" stroke="#000" stroke-width="1.35" />
<circle cx="774.32" cy="393.10" r="2.6" fill="#000" stroke="none" stroke-width="1"/>
<circle cx="769.92" cy="403.58" r="2.6" fill="#000" stroke="none" stroke-width="1"/>
<circle cx="778.72" cy="404.57" r="2.6" fill="#000" stroke="none" stroke-width="1"/>
<rect x="788.37" y="276.75" width="12.70" height="143.55" fill="#ffa0a0" stroke="#000" stroke-width="1.2" />
<line x1="794.72" y1="264.51" x2="794.72" y2="288.98" stroke="#000" stroke-width="1.35" />
<line x1="791.02" y1="264.51" x2="798.42" y2="264.51" stroke="#000" stroke-width="1.35" />
<line x1="791.02" y1="288.98" x2="798.42" y2="288.98" stroke="#000" stroke-width="1.35" />
<circle cx="794.72" cy="265.73" r="2.6" fill="#000" stroke="none" stroke-width="1"/>
<circle cx="794.72" cy="276.13" r="2.6" fill="#000" stroke="none" stroke-width="1"/>
<circle cx="794.72" cy="290.21" r="2.6" fill="#000" stroke="none" stroke-width="1"/>
<circle cx="823.08" cy="420.10" r="2.6" fill="#000" stroke="none" stroke-width="1"/>
<circle cx="827.68" cy="419.14" r="2.6" fill="#000" stroke="none" stroke-width="1"/>
<circle cx="832.28" cy="420.10" r="2.6" fill="#000" stroke="none" stroke-width="1"/>
<rect x="841.73" y="342.30" width="12.70" height="78.00" fill="#00ff00" stroke="#000" stroke-width="1.2" />
<line x1="848.08" y1="330.28" x2="848.08" y2="354.31" stroke="#000" stroke-width="1.35" />
<line x1="844.38" y1="330.28" x2="851.78" y2="330.28" stroke="#000" stroke-width="1.35" />
<line x1="844.38" y1="354.31" x2="851.78" y2="354.31" stroke="#000" stroke-width="1.35" />
<circle cx="848.08" cy="331.48" r="2.6" fill="#000" stroke="none" stroke-width="1"/>
<circle cx="848.08" cy="341.69" r="2.6" fill="#000" stroke="none" stroke-width="1"/>
<circle cx="848.08" cy="355.51" r="2.6" fill="#000" stroke="none" stroke-width="1"/>
<rect x="862.13" y="324.38" width="12.70" height="95.92" fill="#00bc00" stroke="#000" stroke-width="1.2" />
<line x1="868.48" y1="314.33" x2="868.48" y2="334.43" stroke="#000" stroke-width="1.35" />
<line x1="864.78" y1="314.33" x2="872.18" y2="314.33" stroke="#000" stroke-width="1.35" />
<line x1="864.78" y1="334.43" x2="872.18" y2="334.43" stroke="#000" stroke-width="1.35" />
<circle cx="868.48" cy="312.82" r="2.6" fill="#000" stroke="none" stroke-width="1"/>
<circle cx="864.08" cy="328.90" r="2.6" fill="#000" stroke="none" stroke-width="1"/>
<circle cx="872.88" cy="330.41" r="2.6" fill="#000" stroke="none" stroke-width="1"/>
<rect x="882.53" y="306.24" width="12.70" height="114.06" fill="#ffa0a0" stroke="#000" stroke-width="1.2" />
<line x1="888.88" y1="291.82" x2="888.88" y2="320.66" stroke="#000" stroke-width="1.35" />
<line x1="885.18" y1="291.82" x2="892.58" y2="291.82" stroke="#000" stroke-width="1.35" />
<line x1="885.18" y1="320.66" x2="892.58" y2="320.66" stroke="#000" stroke-width="1.35" />
<circle cx="888.88" cy="293.26" r="2.6" fill="#000" stroke="none" stroke-width="1"/>
<circle cx="888.88" cy="305.52" r="2.6" fill="#000" stroke="none" stroke-width="1"/>
<circle cx="888.88" cy="322.11" r="2.6" fill="#000" stroke="none" stroke-width="1"/>
<circle cx="917.24" cy="420.10" r="2.6" fill="#000" stroke="none" stroke-width="1"/>
<circle cx="921.84" cy="419.14" r="2.6" fill="#000" stroke="none" stroke-width="1"/>
<circle cx="926.44" cy="420.10" r="2.6" fill="#000" stroke="none" stroke-width="1"/>
<rect x="935.89" y="403.04" width="12.70" height="17.26" fill="#00ff00" stroke="#000" stroke-width="1.2" />
<line x1="942.24" y1="396.92" x2="942.24" y2="409.16" stroke="#000" stroke-width="1.35" />
<line x1="938.54" y1="396.92" x2="945.94" y2="396.92" stroke="#000" stroke-width="1.35" />
<line x1="938.54" y1="409.16" x2="945.94" y2="409.16" stroke="#000" stroke-width="1.35" />
<circle cx="942.24" cy="396.00" r="2.6" fill="#000" stroke="none" stroke-width="1"/>
<circle cx="937.84" cy="405.79" r="2.6" fill="#000" stroke="none" stroke-width="1"/>
<circle cx="946.64" cy="406.71" r="2.6" fill="#000" stroke="none" stroke-width="1"/>
<rect x="956.29" y="340.98" width="12.70" height="79.32" fill="#00bc00" stroke="#000" stroke-width="1.2" />
<line x1="962.64" y1="332.90" x2="962.64" y2="349.07" stroke="#000" stroke-width="1.35" />
<line x1="958.94" y1="332.90" x2="966.34" y2="332.90" stroke="#000" stroke-width="1.35" />
<line x1="958.94" y1="349.07" x2="966.34" y2="349.07" stroke="#000" stroke-width="1.35" />
<circle cx="958.14" cy="334.11" r="2.6" fill="#000" stroke="none" stroke-width="1"/>
<circle cx="966.94" cy="338.56" r="2.6" fill="#000" stroke="none" stroke-width="1"/>
<circle cx="962.64" cy="350.28" r="2.6" fill="#000" stroke="none" stroke-width="1"/>
<rect x="976.69" y="242.00" width="12.70" height="178.30" fill="#ffa0a0" stroke="#000" stroke-width="1.2" />
<line x1="983.04" y1="236.54" x2="983.04" y2="247.47" stroke="#000" stroke-width="1.35" />
<line x1="979.34" y1="236.54" x2="986.74" y2="236.54" stroke="#000" stroke-width="1.35" />
<line x1="979.34" y1="247.47" x2="986.74" y2="247.47" stroke="#000" stroke-width="1.35" />
<circle cx="983.04" cy="237.09" r="2.6" fill="#000" stroke="none" stroke-width="1"/>
<circle cx="983.04" cy="241.73" r="2.6" fill="#000" stroke="none" stroke-width="1"/>
<circle cx="983.04" cy="248.01" r="2.6" fill="#000" stroke="none" stroke-width="1"/>
<circle cx="1011.40" cy="419.61" r="2.6" fill="#000" stroke="none" stroke-width="1"/>
<circle cx="1016.00" cy="418.49" r="2.6" fill="#000" stroke="none" stroke-width="1"/>
<circle cx="1020.60" cy="419.45" r="2.6" fill="#000" stroke="none" stroke-width="1"/>
<rect x="1030.05" y="365.24" width="12.70" height="55.06" fill="#00ff00" stroke="#000" stroke-width="1.2" />
<line x1="1036.40" y1="362.83" x2="1036.40" y2="367.64" stroke="#000" stroke-width="1.35" />
<line x1="1032.70" y1="362.83" x2="1040.10" y2="362.83" stroke="#000" stroke-width="1.35" />
<line x1="1032.70" y1="367.64" x2="1040.10" y2="367.64" stroke="#000" stroke-width="1.35" />
<circle cx="1031.80" cy="366.44" r="2.6" fill="#000" stroke="none" stroke-width="1"/>
<circle cx="1036.40" cy="363.07" r="2.6" fill="#000" stroke="none" stroke-width="1"/>
<circle cx="1041.00" cy="365.96" r="2.6" fill="#000" stroke="none" stroke-width="1"/>
<rect x="1050.45" y="326.78" width="12.70" height="93.52" fill="#00bc00" stroke="#000" stroke-width="1.2" />
<line x1="1056.80" y1="321.10" x2="1056.80" y2="332.46" stroke="#000" stroke-width="1.35" />
<line x1="1053.10" y1="321.10" x2="1060.50" y2="321.10" stroke="#000" stroke-width="1.35" />
<line x1="1053.10" y1="332.46" x2="1060.50" y2="332.46" stroke="#000" stroke-width="1.35" />
<circle cx="1056.80" cy="320.25" r="2.6" fill="#000" stroke="none" stroke-width="1"/>
<circle cx="1052.40" cy="329.34" r="2.6" fill="#000" stroke="none" stroke-width="1"/>
<circle cx="1061.20" cy="330.19" r="2.6" fill="#000" stroke="none" stroke-width="1"/>
<rect x="1070.85" y="293.35" width="12.70" height="126.95" fill="#ffa0a0" stroke="#000" stroke-width="1.2" />
<line x1="1077.20" y1="283.52" x2="1077.20" y2="303.18" stroke="#000" stroke-width="1.35" />
<line x1="1073.50" y1="283.52" x2="1080.90" y2="283.52" stroke="#000" stroke-width="1.35" />
<line x1="1073.50" y1="303.18" x2="1080.90" y2="303.18" stroke="#000" stroke-width="1.35" />
<circle cx="1072.70" cy="284.99" r="2.6" fill="#000" stroke="none" stroke-width="1"/>
<circle cx="1081.50" cy="290.40" r="2.6" fill="#000" stroke="none" stroke-width="1"/>
<circle cx="1077.20" cy="304.66" r="2.6" fill="#000" stroke="none" stroke-width="1"/>
<circle cx="1105.56" cy="420.10" r="2.6" fill="#000" stroke="none" stroke-width="1"/>
<circle cx="1110.16" cy="419.14" r="2.6" fill="#000" stroke="none" stroke-width="1"/>
<circle cx="1114.76" cy="420.10" r="2.6" fill="#000" stroke="none" stroke-width="1"/>
<rect x="1124.21" y="381.63" width="12.70" height="38.67" fill="#00ff00" stroke="#000" stroke-width="1.2" />
<line x1="1130.56" y1="374.41" x2="1130.56" y2="388.84" stroke="#000" stroke-width="1.35" />
<line x1="1126.86" y1="374.41" x2="1134.26" y2="374.41" stroke="#000" stroke-width="1.35" />
<line x1="1126.86" y1="388.84" x2="1134.26" y2="388.84" stroke="#000" stroke-width="1.35" />
<circle cx="1130.56" cy="375.14" r="2.6" fill="#000" stroke="none" stroke-width="1"/>
<circle cx="1130.56" cy="381.26" r="2.6" fill="#000" stroke="none" stroke-width="1"/>
<circle cx="1130.56" cy="389.56" r="2.6" fill="#000" stroke="none" stroke-width="1"/>
<rect x="1144.61" y="330.72" width="12.70" height="89.59" fill="#00bc00" stroke="#000" stroke-width="1.2" />
<line x1="1150.96" y1="320.23" x2="1150.96" y2="341.20" stroke="#000" stroke-width="1.35" />
<line x1="1147.26" y1="320.23" x2="1154.66" y2="320.23" stroke="#000" stroke-width="1.35" />
<line x1="1147.26" y1="341.20" x2="1154.66" y2="341.20" stroke="#000" stroke-width="1.35" />
<circle cx="1150.96" cy="321.28" r="2.6" fill="#000" stroke="none" stroke-width="1"/>
<circle cx="1150.96" cy="330.19" r="2.6" fill="#000" stroke="none" stroke-width="1"/>
<circle cx="1150.96" cy="342.25" r="2.6" fill="#000" stroke="none" stroke-width="1"/>
<rect x="1165.01" y="394.52" width="12.70" height="25.78" fill="#ffa0a0" stroke="#000" stroke-width="1.2" />
<line x1="1171.36" y1="388.40" x2="1171.36" y2="400.63" stroke="#000" stroke-width="1.35" />
<line x1="1167.66" y1="388.40" x2="1175.06" y2="388.40" stroke="#000" stroke-width="1.35" />
<line x1="1167.66" y1="400.63" x2="1175.06" y2="400.63" stroke="#000" stroke-width="1.35" />
<circle cx="1166.86" cy="389.32" r="2.6" fill="#000" stroke="none" stroke-width="1"/>
<circle cx="1175.66" cy="392.68" r="2.6" fill="#000" stroke="none" stroke-width="1"/>
<circle cx="1171.36" cy="401.55" r="2.6" fill="#000" stroke="none" stroke-width="1"/>
<line x1="61.00" y1="201.10" x2="61.00" y2="421.10" stroke="#000" stroke-width="1.7" />
<line x1="60.20" y1="420.30" x2="1185.00" y2="420.30" stroke="#000" stroke-width="1.6" />
<line x1="51.00" y1="420.30" x2="61.00" y2="420.30" stroke="#000" stroke-width="1.4" />
<text x="49.30" y="425.50" font-size="14.5" text-anchor="end">0</text>
<line x1="51.00" y1="376.60" x2="61.00" y2="376.60" stroke="#000" stroke-width="1.4" />
<text x="49.30" y="381.80" font-size="14.5" text-anchor="end">20</text>
<line x1="51.00" y1="332.90" x2="61.00" y2="332.90" stroke="#000" stroke-width="1.4" />
<text x="49.30" y="338.10" font-size="14.5" text-anchor="end">40</text>
<line x1="51.00" y1="289.20" x2="61.00" y2="289.20" stroke="#000" stroke-width="1.4" />
<text x="49.30" y="294.40" font-size="14.5" text-anchor="end">60</text>
<line x1="51.00" y1="245.50" x2="61.00" y2="245.50" stroke="#000" stroke-width="1.4" />
<text x="49.30" y="250.70" font-size="14.5" text-anchor="end">80</text>
<line x1="51.00" y1="201.80" x2="61.00" y2="201.80" stroke="#000" stroke-width="1.4" />
<text x="49.30" y="207.00" font-size="14.5" text-anchor="end">100</text>
<line x1="105.00" y1="420.30" x2="105.00" y2="429.60" stroke="#000" stroke-width="1.3" />
<text x="108.40" y="444.70" font-size="14.5" text-anchor="end" transform="rotate(-45 108.40 444.70)"><tspan font-style="italic">EMX1</tspan>-sg1</text>
<line x1="199.16" y1="420.30" x2="199.16" y2="429.60" stroke="#000" stroke-width="1.3" />
<text x="202.56" y="444.70" font-size="14.5" text-anchor="end" transform="rotate(-45 202.56 444.70)"><tspan font-style="italic">EMX1</tspan>-sg2</text>
<line x1="293.32" y1="420.30" x2="293.32" y2="429.60" stroke="#000" stroke-width="1.3" />
<text x="296.72" y="444.70" font-size="14.5" text-anchor="end" transform="rotate(-45 296.72 444.70)"><tspan font-style="italic">EMX1</tspan>-sg3</text>
<line x1="387.48" y1="420.30" x2="387.48" y2="429.60" stroke="#000" stroke-width="1.3" />
<text x="390.88" y="444.70" font-size="14.5" text-anchor="end" transform="rotate(-45 390.88 444.70)"><tspan font-style="italic">EMX1</tspan>-sg4</text>
<line x1="481.64" y1="420.30" x2="481.64" y2="429.60" stroke="#000" stroke-width="1.3" />
<text x="485.04" y="444.70" font-size="14.5" text-anchor="end" transform="rotate(-45 485.04 444.70)"><tspan font-style="italic">EMX1</tspan>-sg5</text>
<line x1="575.80" y1="420.30" x2="575.80" y2="429.60" stroke="#000" stroke-width="1.3" />
<text x="579.20" y="444.70" font-size="14.5" text-anchor="end" transform="rotate(-45 579.20 444.70)"><tspan font-style="italic">VEGFA</tspan>-sg1</text>
<line x1="669.96" y1="420.30" x2="669.96" y2="429.60" stroke="#000" stroke-width="1.3" />
<text x="673.36" y="444.70" font-size="14.5" text-anchor="end" transform="rotate(-45 673.36 444.70)"><tspan font-style="italic">VEGFA</tspan>-sg2</text>
<line x1="764.12" y1="420.30" x2="764.12" y2="429.60" stroke="#000" stroke-width="1.3" />
<text x="767.52" y="444.70" font-size="14.5" text-anchor="end" transform="rotate(-45 767.52 444.70)"><tspan font-style="italic">VEGFA</tspan>-sg3</text>
<line x1="858.28" y1="420.30" x2="858.28" y2="429.60" stroke="#000" stroke-width="1.3" />
<text x="861.68" y="444.70" font-size="14.5" text-anchor="end" transform="rotate(-45 861.68 444.70)"><tspan font-style="italic">VEGFA</tspan>-sg4</text>
<line x1="952.44" y1="420.30" x2="952.44" y2="429.60" stroke="#000" stroke-width="1.3" />
<text x="955.84" y="444.70" font-size="14.5" text-anchor="end" transform="rotate(-45 955.84 444.70)"><tspan font-style="italic">PCSK9</tspan>-sg1</text>
<line x1="1046.60" y1="420.30" x2="1046.60" y2="429.60" stroke="#000" stroke-width="1.3" />
<text x="1050.00" y="444.70" font-size="14.5" text-anchor="end" transform="rotate(-45 1050.00 444.70)"><tspan font-style="italic">PCSK9</tspan>-sg2</text>
<line x1="1140.76" y1="420.30" x2="1140.76" y2="429.60" stroke="#000" stroke-width="1.3" />
<text x="1144.16" y="444.70" font-size="14.5" text-anchor="end" transform="rotate(-45 1144.16 444.70)"><tspan font-style="italic">PCSK9</tspan>-sg3</text>
<text x="14.30" y="312.50" font-size="14.5" text-anchor="middle" transform="rotate(-90 14.30 312.50)" textLength="60.0" lengthAdjust="spacing">indel(%)</text>
<circle cx="69.30" cy="754.90" r="2.6" fill="#000" stroke="none" stroke-width="1"/>
<circle cx="73.90" cy="754.16" r="2.6" fill="#000" stroke="none" stroke-width="1"/>
<circle cx="78.50" cy="754.90" r="2.6" fill="#000" stroke="none" stroke-width="1"/>
<rect x="87.95" y="728.82" width="12.70" height="26.28" fill="#00ff00" stroke="#000" stroke-width="1.2" />
<line x1="94.30" y1="727.29" x2="94.30" y2="730.35" stroke="#000" stroke-width="1.35" />
<line x1="90.60" y1="727.29" x2="98.00" y2="727.29" stroke="#000" stroke-width="1.35" />
<line x1="90.60" y1="730.35" x2="98.00" y2="730.35" stroke="#000" stroke-width="1.35" />
<circle cx="89.70" cy="729.59" r="2.6" fill="#000" stroke="none" stroke-width="1"/>
<circle cx="94.30" cy="727.44" r="2.6" fill="#000" stroke="none" stroke-width="1"/>
<circle cx="98.90" cy="729.28" r="2.6" fill="#000" stroke="none" stroke-width="1"/>
<rect x="108.35" y="678.01" width="12.70" height="77.09" fill="#00bc00" stroke="#000" stroke-width="1.2" />
<line x1="114.70" y1="673.19" x2="114.70" y2="682.83" stroke="#000" stroke-width="1.35" />
<line x1="111.00" y1="673.19" x2="118.40" y2="673.19" stroke="#000" stroke-width="1.35" />
<line x1="111.00" y1="682.83" x2="118.40" y2="682.83" stroke="#000" stroke-width="1.35" />
<circle cx="110.20" cy="673.92" r="2.6" fill="#000" stroke="none" stroke-width="1"/>
<circle cx="119.00" cy="676.57" r="2.6" fill="#000" stroke="none" stroke-width="1"/>
<circle cx="114.70" cy="683.55" r="2.6" fill="#000" stroke="none" stroke-width="1"/>
<circle cx="130.50" cy="754.90" r="2.6" fill="#000" stroke="none" stroke-width="1"/>
<circle cx="135.10" cy="754.16" r="2.6" fill="#000" stroke="none" stroke-width="1"/>
<circle cx="139.70" cy="754.90" r="2.6" fill="#000" stroke="none" stroke-width="1"/>
<circle cx="163.63" cy="754.90" r="2.6" fill="#000" stroke="none" stroke-width="1"/>
<circle cx="168.23" cy="754.16" r="2.6" fill="#000" stroke="none" stroke-width="1"/>
<circle cx="172.83" cy="754.90" r="2.6" fill="#000" stroke="none" stroke-width="1"/>
<rect x="182.28" y="751.60" width="12.70" height="3.50" fill="#00ff00" stroke="#000" stroke-width="1.2" />
<circle cx="184.03" cy="752.03" r="2.6" fill="#000" stroke="none" stroke-width="1"/>
<circle cx="188.63" cy="750.81" r="2.6" fill="#000" stroke="none" stroke-width="1"/>
<circle cx="193.23" cy="751.86" r="2.6" fill="#000" stroke="none" stroke-width="1"/>
<rect x="202.68" y="735.61" width="12.70" height="19.49" fill="#00bc00" stroke="#000" stroke-width="1.2" />
<line x1="209.03" y1="731.45" x2="209.03" y2="739.77" stroke="#000" stroke-width="1.35" />
<line x1="205.33" y1="731.45" x2="212.73" y2="731.45" stroke="#000" stroke-width="1.35" />
<line x1="205.33" y1="739.77" x2="212.73" y2="739.77" stroke="#000" stroke-width="1.35" />
<circle cx="204.53" cy="732.07" r="2.6" fill="#000" stroke="none" stroke-width="1"/>
<circle cx="213.33" cy="734.36" r="2.6" fill="#000" stroke="none" stroke-width="1"/>
<circle cx="209.03" cy="740.39" r="2.6" fill="#000" stroke="none" stroke-width="1"/>
<circle cx="224.83" cy="754.90" r="2.6" fill="#000" stroke="none" stroke-width="1"/>
<circle cx="229.43" cy="754.16" r="2.6" fill="#000" stroke="none" stroke-width="1"/>
<circle cx="234.03" cy="754.90" r="2.6" fill="#000" stroke="none" stroke-width="1"/>
<circle cx="257.96" cy="754.90" r="2.6" fill="#000" stroke="none" stroke-width="1"/>
<circle cx="262.56" cy="754.16" r="2.6" fill="#000" stroke="none" stroke-width="1"/>
<circle cx="267.16" cy="754.90" r="2.6" fill="#000" stroke="none" stroke-width="1"/>
<rect x="276.61" y="744.15" width="12.70" height="10.95" fill="#00ff00" stroke="#000" stroke-width="1.2" />
<line x1="282.96" y1="742.40" x2="282.96" y2="745.90" stroke="#000" stroke-width="1.35" />
<line x1="279.26" y1="742.40" x2="286.66" y2="742.40" stroke="#000" stroke-width="1.35" />
<line x1="279.26" y1="745.90" x2="286.66" y2="745.90" stroke="#000" stroke-width="1.35" />
<circle cx="278.36" cy="745.03" r="2.6" fill="#000" stroke="none" stroke-width="1"/>
<circle cx="282.96" cy="742.57" r="2.6" fill="#000" stroke="none" stroke-width="1"/>
<circle cx="287.56" cy="744.68" r="2.6" fill="#000" stroke="none" stroke-width="1"/>
<rect x="297.01" y="686.33" width="12.70" height="68.77" fill="#00bc00" stroke="#000" stroke-width="1.2" />
<line x1="303.36" y1="681.30" x2="303.36" y2="691.37" stroke="#000" stroke-width="1.35" />
<line x1="299.66" y1="681.30" x2="307.06" y2="681.30" stroke="#000" stroke-width="1.35" />
<line x1="299.66" y1="691.37" x2="307.06" y2="691.37" stroke="#000" stroke-width="1.35" />
<circle cx="298.86" cy="682.05" r="2.6" fill="#000" stroke="none" stroke-width="1"/>
<circle cx="307.66" cy="684.82" r="2.6" fill="#000" stroke="none" stroke-width="1"/>
<circle cx="303.36" cy="692.13" r="2.6" fill="#000" stroke="none" stroke-width="1"/>
<rect x="317.41" y="610.56" width="12.70" height="144.54" fill="#ffa0a0" stroke="#000" stroke-width="1.2" />
<line x1="323.76" y1="601.36" x2="323.76" y2="619.76" stroke="#000" stroke-width="1.35" />
<line x1="320.06" y1="601.36" x2="327.46" y2="601.36" stroke="#000" stroke-width="1.35" />
<line x1="320.06" y1="619.76" x2="327.46" y2="619.76" stroke="#000" stroke-width="1.35" />
<circle cx="323.76" cy="599.98" r="2.6" fill="#000" stroke="none" stroke-width="1"/>
<circle cx="319.36" cy="614.70" r="2.6" fill="#000" stroke="none" stroke-width="1"/>
<circle cx="328.16" cy="616.08" r="2.6" fill="#000" stroke="none" stroke-width="1"/>
<circle cx="352.29" cy="754.90" r="2.6" fill="#000" stroke="none" stroke-width="1"/>
<circle cx="356.89" cy="753.94" r="2.6" fill="#000" stroke="none" stroke-width="1"/>
<circle cx="361.49" cy="754.90" r="2.6" fill="#000" stroke="none" stroke-width="1"/>
<rect x="370.94" y="643.41" width="12.70" height="111.69" fill="#00ff00" stroke="#000" stroke-width="1.2" />
<line x1="377.29" y1="634.21" x2="377.29" y2="652.61" stroke="#000" stroke-width="1.35" />
<line x1="373.59" y1="634.21" x2="380.99" y2="634.21" stroke="#000" stroke-width="1.35" />
<line x1="373.59" y1="652.61" x2="380.99" y2="652.61" stroke="#000" stroke-width="1.35" />
<circle cx="377.29" cy="632.83" r="2.6" fill="#000" stroke="none" stroke-width="1"/>
<circle cx="372.89" cy="647.55" r="2.6" fill="#000" stroke="none" stroke-width="1"/>
<circle cx="381.69" cy="648.93" r="2.6" fill="#000" stroke="none" stroke-width="1"/>
<rect x="391.34" y="586.91" width="12.70" height="168.19" fill="#00bc00" stroke="#000" stroke-width="1.2" />
<line x1="397.69" y1="579.46" x2="397.69" y2="594.35" stroke="#000" stroke-width="1.35" />
<line x1="393.99" y1="579.46" x2="401.39" y2="579.46" stroke="#000" stroke-width="1.35" />
<line x1="393.99" y1="594.35" x2="401.39" y2="594.35" stroke="#000" stroke-width="1.35" />
<circle cx="397.69" cy="580.21" r="2.6" fill="#000" stroke="none" stroke-width="1"/>
<circle cx="397.69" cy="586.54" r="2.6" fill="#000" stroke="none" stroke-width="1"/>
<circle cx="397.69" cy="595.10" r="2.6" fill="#000" stroke="none" stroke-width="1"/>
<rect x="411.74" y="661.37" width="12.70" height="93.73" fill="#ffa0a0" stroke="#000" stroke-width="1.2" />
<line x1="418.09" y1="655.02" x2="418.09" y2="667.72" stroke="#000" stroke-width="1.35" />
<line x1="414.39" y1="655.02" x2="421.79" y2="655.02" stroke="#000" stroke-width="1.35" />
<line x1="414.39" y1="667.72" x2="421.79" y2="667.72" stroke="#000" stroke-width="1.35" />
<circle cx="413.59" cy="655.97" r="2.6" fill="#000" stroke="none" stroke-width="1"/>
<circle cx="422.39" cy="659.46" r="2.6" fill="#000" stroke="none" stroke-width="1"/>
<circle cx="418.09" cy="668.67" r="2.6" fill="#000" stroke="none" stroke-width="1"/>
<circle cx="446.62" cy="754.90" r="2.6" fill="#000" stroke="none" stroke-width="1"/>
<circle cx="451.22" cy="754.16" r="2.6" fill="#000" stroke="none" stroke-width="1"/>
<circle cx="455.82" cy="754.90" r="2.6" fill="#000" stroke="none" stroke-width="1"/>
<rect x="465.27" y="744.81" width="12.70" height="10.29" fill="#00ff00" stroke="#000" stroke-width="1.2" />
<line x1="471.62" y1="742.84" x2="471.62" y2="746.78" stroke="#000" stroke-width="1.35" />
<line x1="467.92" y1="742.84" x2="475.32" y2="742.84" stroke="#000" stroke-width="1.35" />
<line x1="467.92" y1="746.78" x2="475.32" y2="746.78" stroke="#000" stroke-width="1.35" />
<circle cx="467.02" cy="745.79" r="2.6" fill="#000" stroke="none" stroke-width="1"/>
<circle cx="471.62" cy="743.03" r="2.6" fill="#000" stroke="none" stroke-width="1"/>
<circle cx="476.22" cy="745.40" r="2.6" fill="#000" stroke="none" stroke-width="1"/>
<rect x="485.67" y="674.51" width="12.70" height="80.59" fill="#00bc00" stroke="#000" stroke-width="1.2" />
<line x1="492.02" y1="669.25" x2="492.02" y2="679.76" stroke="#000" stroke-width="1.35" />
<line x1="488.32" y1="669.25" x2="495.72" y2="669.25" stroke="#000" stroke-width="1.35" />
<line x1="488.32" y1="679.76" x2="495.72" y2="679.76" stroke="#000" stroke-width="1.35" />
<circle cx="492.02" cy="668.46" r="2.6" fill="#000" stroke="none" stroke-width="1"/>
<circle cx="487.62" cy="676.87" r="2.6" fill="#000" stroke="none" stroke-width="1"/>
<circle cx="496.42" cy="677.66" r="2.6" fill="#000" stroke="none" stroke-width="1"/>
<rect x="506.07" y="564.13" width="12.70" height="190.97" fill="#ffa0a0" stroke="#000" stroke-width="1.2" />
<line x1="512.42" y1="553.18" x2="512.42" y2="575.08" stroke="#000" stroke-width="1.35" />
<line x1="508.72" y1="553.18" x2="516.12" y2="553.18" stroke="#000" stroke-width="1.35" />
<line x1="508.72" y1="575.08" x2="516.12" y2="575.08" stroke="#000" stroke-width="1.35" />
<circle cx="512.42" cy="551.54" r="2.6" fill="#000" stroke="none" stroke-width="1"/>
<circle cx="508.02" cy="569.06" r="2.6" fill="#000" stroke="none" stroke-width="1"/>
<circle cx="516.82" cy="570.70" r="2.6" fill="#000" stroke="none" stroke-width="1"/>
<rect x="539.20" y="752.47" width="12.70" height="2.63" fill="#a8f5a8" stroke="#000" stroke-width="1.2" />
<circle cx="540.95" cy="753.02" r="2.6" fill="#000" stroke="none" stroke-width="1"/>
<circle cx="545.55" cy="751.49" r="2.6" fill="#000" stroke="none" stroke-width="1"/>
<circle cx="550.15" cy="752.80" r="2.6" fill="#000" stroke="none" stroke-width="1"/>
<rect x="559.60" y="638.81" width="12.70" height="116.29" fill="#00ff00" stroke="#000" stroke-width="1.2" />
<line x1="565.95" y1="629.61" x2="565.95" y2="648.01" stroke="#000" stroke-width="1.35" />
<line x1="562.25" y1="629.61" x2="569.65" y2="629.61" stroke="#000" stroke-width="1.35" />
<line x1="562.25" y1="648.01" x2="569.65" y2="648.01" stroke="#000" stroke-width="1.35" />
<circle cx="565.95" cy="630.53" r="2.6" fill="#000" stroke="none" stroke-width="1"/>
<circle cx="565.95" cy="638.35" r="2.6" fill="#000" stroke="none" stroke-width="1"/>
<circle cx="565.95" cy="648.93" r="2.6" fill="#000" stroke="none" stroke-width="1"/>
<rect x="580.00" y="582.53" width="12.70" height="172.57" fill="#00bc00" stroke="#000" stroke-width="1.2" />
<line x1="586.35" y1="571.58" x2="586.35" y2="593.48" stroke="#000" stroke-width="1.35" />
<line x1="582.65" y1="571.58" x2="590.05" y2="571.58" stroke="#000" stroke-width="1.35" />
<line x1="582.65" y1="593.48" x2="590.05" y2="593.48" stroke="#000" stroke-width="1.35" />
<circle cx="581.85" cy="573.22" r="2.6" fill="#000" stroke="none" stroke-width="1"/>
<circle cx="590.65" cy="579.24" r="2.6" fill="#000" stroke="none" stroke-width="1"/>
<circle cx="586.35" cy="595.12" r="2.6" fill="#000" stroke="none" stroke-width="1"/>
<rect x="600.40" y="617.57" width="12.70" height="137.53" fill="#ffa0a0" stroke="#000" stroke-width="1.2" />
<line x1="606.75" y1="597.20" x2="606.75" y2="637.93" stroke="#000" stroke-width="1.35" />
<line x1="603.05" y1="597.20" x2="610.45" y2="597.20" stroke="#000" stroke-width="1.35" />
<line x1="603.05" y1="637.93" x2="610.45" y2="637.93" stroke="#000" stroke-width="1.35" />
<circle cx="602.25" cy="600.26" r="2.6" fill="#000" stroke="none" stroke-width="1"/>
<circle cx="611.05" cy="611.46" r="2.6" fill="#000" stroke="none" stroke-width="1"/>
<circle cx="606.75" cy="640.99" r="2.6" fill="#000" stroke="none" stroke-width="1"/>
<circle cx="635.28" cy="754.84" r="2.6" fill="#000" stroke="none" stroke-width="1"/>
<circle cx="639.88" cy="753.72" r="2.6" fill="#000" stroke="none" stroke-width="1"/>
<circle cx="644.48" cy="754.68" r="2.6" fill="#000" stroke="none" stroke-width="1"/>
<rect x="653.93" y="746.12" width="12.70" height="8.98" fill="#00ff00" stroke="#000" stroke-width="1.2" />
<line x1="660.28" y1="743.71" x2="660.28" y2="748.53" stroke="#000" stroke-width="1.35" />
<line x1="656.58" y1="743.71" x2="663.98" y2="743.71" stroke="#000" stroke-width="1.35" />
<line x1="656.58" y1="748.53" x2="663.98" y2="748.53" stroke="#000" stroke-width="1.35" />
<circle cx="660.28" cy="743.35" r="2.6" fill="#000" stroke="none" stroke-width="1"/>
<circle cx="655.88" cy="747.21" r="2.6" fill="#000" stroke="none" stroke-width="1"/>
<circle cx="664.68" cy="747.57" r="2.6" fill="#000" stroke="none" stroke-width="1"/>
<rect x="674.33" y="699.47" width="12.70" height="55.63" fill="#00bc00" stroke="#000" stroke-width="1.2" />
<line x1="680.68" y1="694.44" x2="680.68" y2="704.51" stroke="#000" stroke-width="1.35" />
<line x1="676.98" y1="694.44" x2="684.38" y2="694.44" stroke="#000" stroke-width="1.35" />
<line x1="676.98" y1="704.51" x2="684.38" y2="704.51" stroke="#000" stroke-width="1.35" />
<circle cx="676.18" cy="695.19" r="2.6" fill="#000" stroke="none" stroke-width="1"/>
<circle cx="684.98" cy="697.96" r="2.6" fill="#000" stroke="none" stroke-width="1"/>
<circle cx="680.68" cy="705.27" r="2.6" fill="#000" stroke="none" stroke-width="1"/>
<rect x="694.73" y="604.65" width="12.70" height="150.45" fill="#ffa0a0" stroke="#000" stroke-width="1.2" />
<line x1="701.08" y1="596.33" x2="701.08" y2="612.97" stroke="#000" stroke-width="1.35" />
<line x1="697.38" y1="596.33" x2="704.78" y2="596.33" stroke="#000" stroke-width="1.35" />
<line x1="697.38" y1="612.97" x2="704.78" y2="612.97" stroke="#000" stroke-width="1.35" />
<circle cx="701.08" cy="597.16" r="2.6" fill="#000" stroke="none" stroke-width="1"/>
<circle cx="701.08" cy="604.23" r="2.6" fill="#000" stroke="none" stroke-width="1"/>
<circle cx="701.08" cy="613.80" r="2.6" fill="#000" stroke="none" stroke-width="1"/>
<circle cx="729.61" cy="754.90" r="2.6" fill="#000" stroke="none" stroke-width="1"/>
<circle cx="734.21" cy="754.16" r="2.6" fill="#000" stroke="none" stroke-width="1"/>
<circle cx="738.81" cy="754.90" r="2.6" fill="#000" stroke="none" stroke-width="1"/>
<rect x="748.26" y="697.94" width="12.70" height="57.16" fill="#00ff00" stroke="#000" stroke-width="1.2" />
<line x1="754.61" y1="694.44" x2="754.61" y2="701.45" stroke="#000" stroke-width="1.35" />
<line x1="750.91" y1="694.44" x2="758.31" y2="694.44" stroke="#000" stroke-width="1.35" />
<line x1="750.91" y1="701.45" x2="758.31" y2="701.45" stroke="#000" stroke-width="1.35" />
<circle cx="754.61" cy="693.91" r="2.6" fill="#000" stroke="none" stroke-width="1"/>
<circle cx="750.21" cy="699.52" r="2.6" fill="#000" stroke="none" stroke-width="1"/>
<circle cx="759.01" cy="700.04" r="2.6" fill="#000" stroke="none" stroke-width="1"/>
<rect x="768.66" y="599.61" width="12.70" height="155.49" fill="#00bc00" stroke="#000" stroke-width="1.2" />
<line x1="775.01" y1="591.73" x2="775.01" y2="607.49" stroke="#000" stroke-width="1.35" />
<line x1="771.31" y1="591.73" x2="778.71" y2="591.73" stroke="#000" stroke-width="1.35" />
<line x1="771.31" y1="607.49" x2="778.71" y2="607.49" stroke="#000" stroke-width="1.35" />
<circle cx="775.01" cy="590.54" r="2.6" fill="#000" stroke="none" stroke-width="1"/>
<circle cx="770.61" cy="603.16" r="2.6" fill="#000" stroke="none" stroke-width="1"/>
<circle cx="779.41" cy="604.34" r="2.6" fill="#000" stroke="none" stroke-width="1"/>
<circle cx="790.81" cy="754.40" r="2.6" fill="#000" stroke="none" stroke-width="1"/>
<circle cx="795.41" cy="753.28" r="2.6" fill="#000" stroke="none" stroke-width="1"/>
<circle cx="800.01" cy="754.25" r="2.6" fill="#000" stroke="none" stroke-width="1"/>
<circle cx="823.94" cy="754.90" r="2.6" fill="#000" stroke="none" stroke-width="1"/>
<circle cx="828.54" cy="753.94" r="2.6" fill="#000" stroke="none" stroke-width="1"/>
<circle cx="833.14" cy="754.90" r="2.6" fill="#000" stroke="none" stroke-width="1"/>
<rect x="842.59" y="721.15" width="12.70" height="33.95" fill="#00ff00" stroke="#000" stroke-width="1.2" />
<line x1="848.94" y1="717.65" x2="848.94" y2="724.66" stroke="#000" stroke-width="1.35" />
<line x1="845.24" y1="717.65" x2="852.64" y2="717.65" stroke="#000" stroke-width="1.35" />
<line x1="845.24" y1="724.66" x2="852.64" y2="724.66" stroke="#000" stroke-width="1.35" />
<circle cx="844.44" cy="718.18" r="2.6" fill="#000" stroke="none" stroke-width="1"/>
<circle cx="853.24" cy="720.10" r="2.6" fill="#000" stroke="none" stroke-width="1"/>
<circle cx="848.94" cy="725.18" r="2.6" fill="#000" stroke="none" stroke-width="1"/>
<rect x="862.99" y="697.50" width="12.70" height="57.60" fill="#00bc00" stroke="#000" stroke-width="1.2" />
<line x1="869.34" y1="688.74" x2="869.34" y2="706.26" stroke="#000" stroke-width="1.35" />
<line x1="865.64" y1="688.74" x2="873.04" y2="688.74" stroke="#000" stroke-width="1.35" />
<line x1="865.64" y1="706.26" x2="873.04" y2="706.26" stroke="#000" stroke-width="1.35" />
<circle cx="869.34" cy="689.62" r="2.6" fill="#000" stroke="none" stroke-width="1"/>
<circle cx="869.34" cy="697.07" r="2.6" fill="#000" stroke="none" stroke-width="1"/>
<circle cx="869.34" cy="707.14" r="2.6" fill="#000" stroke="none" stroke-width="1"/>
<rect x="883.39" y="665.53" width="12.70" height="89.57" fill="#ffa0a0" stroke="#000" stroke-width="1.2" />
<line x1="889.74" y1="652.39" x2="889.74" y2="678.67" stroke="#000" stroke-width="1.35" />
<line x1="886.04" y1="652.39" x2="893.44" y2="652.39" stroke="#000" stroke-width="1.35" />
<line x1="886.04" y1="678.67" x2="893.44" y2="678.67" stroke="#000" stroke-width="1.35" />
<circle cx="889.74" cy="653.70" r="2.6" fill="#000" stroke="none" stroke-width="1"/>
<circle cx="889.74" cy="664.87" r="2.6" fill="#000" stroke="none" stroke-width="1"/>
<circle cx="889.74" cy="679.98" r="2.6" fill="#000" stroke="none" stroke-width="1"/>
<circle cx="918.27" cy="754.11" r="2.6" fill="#000" stroke="none" stroke-width="1"/>
<circle cx="922.87" cy="752.58" r="2.6" fill="#000" stroke="none" stroke-width="1"/>
<circle cx="927.47" cy="753.90" r="2.6" fill="#000" stroke="none" stroke-width="1"/>
<rect x="936.92" y="701.45" width="12.70" height="53.66" fill="#00ff00" stroke="#000" stroke-width="1.2" />
<line x1="943.27" y1="692.47" x2="943.27" y2="710.42" stroke="#000" stroke-width="1.35" />
<line x1="939.57" y1="692.47" x2="946.97" y2="692.47" stroke="#000" stroke-width="1.35" />
<line x1="939.57" y1="710.42" x2="946.97" y2="710.42" stroke="#000" stroke-width="1.35" />
<circle cx="943.27" cy="691.12" r="2.6" fill="#000" stroke="none" stroke-width="1"/>
<circle cx="938.87" cy="705.49" r="2.6" fill="#000" stroke="none" stroke-width="1"/>
<circle cx="947.67" cy="706.83" r="2.6" fill="#000" stroke="none" stroke-width="1"/>
<rect x="957.32" y="673.19" width="12.70" height="81.91" fill="#00bc00" stroke="#000" stroke-width="1.2" />
<line x1="963.67" y1="663.12" x2="963.67" y2="683.27" stroke="#000" stroke-width="1.35" />
<line x1="959.97" y1="663.12" x2="967.37" y2="663.12" stroke="#000" stroke-width="1.35" />
<line x1="959.97" y1="683.27" x2="967.37" y2="683.27" stroke="#000" stroke-width="1.35" />
<circle cx="963.67" cy="661.61" r="2.6" fill="#000" stroke="none" stroke-width="1"/>
<circle cx="959.27" cy="677.73" r="2.6" fill="#000" stroke="none" stroke-width="1"/>
<circle cx="968.07" cy="679.24" r="2.6" fill="#000" stroke="none" stroke-width="1"/>
<rect x="977.72" y="631.37" width="12.70" height="123.73" fill="#ffa0a0" stroke="#000" stroke-width="1.2" />
<line x1="984.07" y1="620.41" x2="984.07" y2="642.32" stroke="#000" stroke-width="1.35" />
<line x1="980.37" y1="620.41" x2="987.77" y2="620.41" stroke="#000" stroke-width="1.35" />
<line x1="980.37" y1="642.32" x2="987.77" y2="642.32" stroke="#000" stroke-width="1.35" />
<circle cx="984.07" cy="621.51" r="2.6" fill="#000" stroke="none" stroke-width="1"/>
<circle cx="984.07" cy="630.82" r="2.6" fill="#000" stroke="none" stroke-width="1"/>
<circle cx="984.07" cy="643.41" r="2.6" fill="#000" stroke="none" stroke-width="1"/>
<circle cx="1012.60" cy="754.90" r="2.6" fill="#000" stroke="none" stroke-width="1"/>
<circle cx="1017.20" cy="753.94" r="2.6" fill="#000" stroke="none" stroke-width="1"/>
<circle cx="1021.80" cy="754.90" r="2.6" fill="#000" stroke="none" stroke-width="1"/>
<rect x="1031.25" y="653.92" width="12.70" height="101.18" fill="#00ff00" stroke="#000" stroke-width="1.2" />
<line x1="1037.60" y1="642.75" x2="1037.60" y2="665.09" stroke="#000" stroke-width="1.35" />
<line x1="1033.90" y1="642.75" x2="1041.30" y2="642.75" stroke="#000" stroke-width="1.35" />
<line x1="1033.90" y1="665.09" x2="1041.30" y2="665.09" stroke="#000" stroke-width="1.35" />
<circle cx="1037.60" cy="643.87" r="2.6" fill="#000" stroke="none" stroke-width="1"/>
<circle cx="1037.60" cy="653.36" r="2.6" fill="#000" stroke="none" stroke-width="1"/>
<circle cx="1037.60" cy="666.21" r="2.6" fill="#000" stroke="none" stroke-width="1"/>
<rect x="1051.65" y="578.37" width="12.70" height="176.73" fill="#00bc00" stroke="#000" stroke-width="1.2" />
<line x1="1058.00" y1="567.86" x2="1058.00" y2="588.88" stroke="#000" stroke-width="1.35" />
<line x1="1054.30" y1="567.86" x2="1061.70" y2="567.86" stroke="#000" stroke-width="1.35" />
<line x1="1054.30" y1="588.88" x2="1061.70" y2="588.88" stroke="#000" stroke-width="1.35" />
<circle cx="1058.00" cy="568.91" r="2.6" fill="#000" stroke="none" stroke-width="1"/>
<circle cx="1058.00" cy="577.84" r="2.6" fill="#000" stroke="none" stroke-width="1"/>
<circle cx="1058.00" cy="589.93" r="2.6" fill="#000" stroke="none" stroke-width="1"/>
<rect x="1072.05" y="592.60" width="12.70" height="162.50" fill="#ffa0a0" stroke="#000" stroke-width="1.2" />
<line x1="1078.40" y1="581.65" x2="1078.40" y2="603.55" stroke="#000" stroke-width="1.35" />
<line x1="1074.70" y1="581.65" x2="1082.10" y2="581.65" stroke="#000" stroke-width="1.35" />
<line x1="1074.70" y1="603.55" x2="1082.10" y2="603.55" stroke="#000" stroke-width="1.35" />
<circle cx="1078.40" cy="582.75" r="2.6" fill="#000" stroke="none" stroke-width="1"/>
<circle cx="1078.40" cy="592.05" r="2.6" fill="#000" stroke="none" stroke-width="1"/>
<circle cx="1078.40" cy="604.65" r="2.6" fill="#000" stroke="none" stroke-width="1"/>
<rect x="1105.18" y="752.91" width="12.70" height="2.19" fill="#a8f5a8" stroke="#000" stroke-width="1.2" />
<circle cx="1106.93" cy="753.46" r="2.6" fill="#000" stroke="none" stroke-width="1"/>
<circle cx="1111.53" cy="751.92" r="2.6" fill="#000" stroke="none" stroke-width="1"/>
<circle cx="1116.13" cy="753.24" r="2.6" fill="#000" stroke="none" stroke-width="1"/>
<rect x="1125.58" y="699.25" width="12.70" height="55.84" fill="#00ff00" stroke="#000" stroke-width="1.2" />
<line x1="1131.93" y1="695.09" x2="1131.93" y2="703.42" stroke="#000" stroke-width="1.35" />
<line x1="1128.23" y1="695.09" x2="1135.63" y2="695.09" stroke="#000" stroke-width="1.35" />
<line x1="1128.23" y1="703.42" x2="1135.63" y2="703.42" stroke="#000" stroke-width="1.35" />
<circle cx="1127.43" cy="695.72" r="2.6" fill="#000" stroke="none" stroke-width="1"/>
<circle cx="1136.23" cy="698.01" r="2.6" fill="#000" stroke="none" stroke-width="1"/>
<circle cx="1131.93" cy="704.04" r="2.6" fill="#000" stroke="none" stroke-width="1"/>
<rect x="1145.98" y="609.25" width="12.70" height="145.85" fill="#00bc00" stroke="#000" stroke-width="1.2" />
<line x1="1152.33" y1="602.68" x2="1152.33" y2="615.82" stroke="#000" stroke-width="1.35" />
<line x1="1148.63" y1="602.68" x2="1156.03" y2="602.68" stroke="#000" stroke-width="1.35" />
<line x1="1148.63" y1="615.82" x2="1156.03" y2="615.82" stroke="#000" stroke-width="1.35" />
<circle cx="1152.33" cy="601.69" r="2.6" fill="#000" stroke="none" stroke-width="1"/>
<circle cx="1147.93" cy="612.20" r="2.6" fill="#000" stroke="none" stroke-width="1"/>
<circle cx="1156.73" cy="613.19" r="2.6" fill="#000" stroke="none" stroke-width="1"/>
<rect x="1166.38" y="578.37" width="12.70" height="176.73" fill="#ffa0a0" stroke="#000" stroke-width="1.2" />
<line x1="1172.73" y1="571.80" x2="1172.73" y2="584.94" stroke="#000" stroke-width="1.35" />
<line x1="1169.03" y1="571.80" x2="1176.43" y2="571.80" stroke="#000" stroke-width="1.35" />
<line x1="1169.03" y1="584.94" x2="1176.43" y2="584.94" stroke="#000" stroke-width="1.35" />
<circle cx="1168.23" cy="572.78" r="2.6" fill="#000" stroke="none" stroke-width="1"/>
<circle cx="1177.03" cy="576.40" r="2.6" fill="#000" stroke="none" stroke-width="1"/>
<circle cx="1172.73" cy="585.92" r="2.6" fill="#000" stroke="none" stroke-width="1"/>
<line x1="61.00" y1="535.40" x2="61.00" y2="755.90" stroke="#000" stroke-width="1.7" />
<line x1="60.20" y1="755.10" x2="1187.50" y2="755.10" stroke="#000" stroke-width="1.6" />
<line x1="51.00" y1="755.10" x2="61.00" y2="755.10" stroke="#000" stroke-width="1.4" />
<text x="49.30" y="760.30" font-size="14.5" text-anchor="end">0</text>
<line x1="51.00" y1="711.30" x2="61.00" y2="711.30" stroke="#000" stroke-width="1.4" />
<text x="49.30" y="716.50" font-size="14.5" text-anchor="end">20</text>
<line x1="51.00" y1="667.50" x2="61.00" y2="667.50" stroke="#000" stroke-width="1.4" />
<text x="49.30" y="672.70" font-size="14.5" text-anchor="end">40</text>
<line x1="51.00" y1="623.70" x2="61.00" y2="623.70" stroke="#000" stroke-width="1.4" />
<text x="49.30" y="628.90" font-size="14.5" text-anchor="end">60</text>
<line x1="51.00" y1="579.90" x2="61.00" y2="579.90" stroke="#000" stroke-width="1.4" />
<text x="49.30" y="585.10" font-size="14.5" text-anchor="end">80</text>
<line x1="51.00" y1="536.10" x2="61.00" y2="536.10" stroke="#000" stroke-width="1.4" />
<text x="49.30" y="541.30" font-size="14.5" text-anchor="end">100</text>
<line x1="104.50" y1="755.10" x2="104.50" y2="764.40" stroke="#000" stroke-width="1.3" />
<text x="107.90" y="779.50" font-size="14.5" text-anchor="end" transform="rotate(-45 107.90 779.50)">ALDH1A3-sg1</text>
<line x1="198.83" y1="755.10" x2="198.83" y2="764.40" stroke="#000" stroke-width="1.3" />
<text x="202.23" y="779.50" font-size="14.5" text-anchor="end" transform="rotate(-45 202.23 779.50)">ALDH1A3-sg2</text>
<line x1="293.16" y1="755.10" x2="293.16" y2="764.40" stroke="#000" stroke-width="1.3" />
<text x="296.56" y="779.50" font-size="14.5" text-anchor="end" transform="rotate(-45 296.56 779.50)">ALDH1A3-sg3</text>
<line x1="387.49" y1="755.10" x2="387.49" y2="764.40" stroke="#000" stroke-width="1.3" />
<text x="390.89" y="779.50" font-size="14.5" text-anchor="end" transform="rotate(-45 390.89 779.50)">ALDH1A3-sg4</text>
<line x1="481.82" y1="755.10" x2="481.82" y2="764.40" stroke="#000" stroke-width="1.3" />
<text x="485.22" y="779.50" font-size="14.5" text-anchor="end" transform="rotate(-45 485.22 779.50)"><tspan font-style="italic">CXCR4</tspan>-sg1</text>
<line x1="576.15" y1="755.10" x2="576.15" y2="764.40" stroke="#000" stroke-width="1.3" />
<text x="579.55" y="779.50" font-size="14.5" text-anchor="end" transform="rotate(-45 579.55 779.50)"><tspan font-style="italic">CXCR4</tspan>-sg2</text>
<line x1="670.48" y1="755.10" x2="670.48" y2="764.40" stroke="#000" stroke-width="1.3" />
<text x="673.88" y="779.50" font-size="14.5" text-anchor="end" transform="rotate(-45 673.88 779.50)"><tspan font-style="italic">CXCR4</tspan>-sg3</text>
<line x1="764.81" y1="755.10" x2="764.81" y2="764.40" stroke="#000" stroke-width="1.3" />
<text x="768.21" y="779.50" font-size="14.5" text-anchor="end" transform="rotate(-45 768.21 779.50)"><tspan font-style="italic">CXCR4</tspan>-sg4</text>
<line x1="859.14" y1="755.10" x2="859.14" y2="764.40" stroke="#000" stroke-width="1.3" />
<text x="862.54" y="779.50" font-size="14.5" text-anchor="end" transform="rotate(-45 862.54 779.50)"><tspan font-style="italic">CXCR4</tspan>-sg5</text>
<line x1="953.47" y1="755.10" x2="953.47" y2="764.40" stroke="#000" stroke-width="1.3" />
<text x="956.87" y="779.50" font-size="14.5" text-anchor="end" transform="rotate(-45 956.87 779.50)"><tspan font-style="italic">AAVS1</tspan>-sg1</text>
<line x1="1047.80" y1="755.10" x2="1047.80" y2="764.40" stroke="#000" stroke-width="1.3" />
<text x="1051.20" y="779.50" font-size="14.5" text-anchor="end" transform="rotate(-45 1051.20 779.50)"><tspan font-style="italic">AAVS1</tspan>-sg2</text>
<line x1="1142.13" y1="755.10" x2="1142.13" y2="764.40" stroke="#000" stroke-width="1.3" />
<text x="1145.53" y="779.50" font-size="14.5" text-anchor="end" transform="rotate(-45 1145.53 779.50)"><tspan font-style="italic">AAVS1</tspan>-sg3</text>
<text x="14.30" y="647.20" font-size="14.5" text-anchor="middle" transform="rotate(-90 14.30 647.20)" textLength="60.0" lengthAdjust="spacing">indel(%)</text>
<text x="-0.20" y="897.20" font-size="29">c</text>
<path d="M99.7,1100 L99.7,919 L159.3,919 L159.3,931.5" fill="none" stroke="#000" stroke-width="1.5" />
<path d="M219,929 L219,919 L277.7,919 L277.7,931.5" fill="none" stroke="#000" stroke-width="1.5" />
<text x="129.00" y="910.60" font-size="14.5" text-anchor="middle" textLength="37.0" lengthAdjust="spacing">48.9×</text>
<text x="248.00" y="910.60" font-size="14.5" text-anchor="middle" textLength="71.0" lengthAdjust="spacing">P = 0.9457</text>
<circle cx="86.42" cy="1121.23" r="3.25" fill="#a0f0a0" stroke="#3c8c3c" stroke-width="0.9"/>
<circle cx="88.68" cy="1119.25" r="3.25" fill="#a0f0a0" stroke="#3c8c3c" stroke-width="0.9"/>
<circle cx="91.23" cy="1122.37" r="3.25" fill="#a0f0a0" stroke="#3c8c3c" stroke-width="0.9"/>
<circle cx="93.50" cy="1120.10" r="3.25" fill="#a0f0a0" stroke="#3c8c3c" stroke-width="0.9"/>
<circle cx="96.05" cy="1122.65" r="3.25" fill="#a0f0a0" stroke="#3c8c3c" stroke-width="0.9"/>
<circle cx="98.32" cy="1120.67" r="3.25" fill="#a0f0a0" stroke="#3c8c3c" stroke-width="0.9"/>
<circle cx="100.87" cy="1122.08" r="3.25" fill="#a0f0a0" stroke="#3c8c3c" stroke-width="0.9"/>
<circle cx="103.42" cy="1119.82" r="3.25" fill="#a0f0a0" stroke="#3c8c3c" stroke-width="0.9"/>
<circle cx="105.68" cy="1122.37" r="3.25" fill="#a0f0a0" stroke="#3c8c3c" stroke-width="0.9"/>
<circle cx="108.23" cy="1120.95" r="3.25" fill="#a0f0a0" stroke="#3c8c3c" stroke-width="0.9"/>
<circle cx="110.78" cy="1122.65" r="3.25" fill="#a0f0a0" stroke="#3c8c3c" stroke-width="0.9"/>
<circle cx="113.05" cy="1120.38" r="3.25" fill="#a0f0a0" stroke="#3c8c3c" stroke-width="0.9"/>
<circle cx="115.60" cy="1122.08" r="3.25" fill="#a0f0a0" stroke="#3c8c3c" stroke-width="0.9"/>
<circle cx="118.15" cy="1119.53" r="3.25" fill="#a0f0a0" stroke="#3c8c3c" stroke-width="0.9"/>
<circle cx="120.42" cy="1122.37" r="3.25" fill="#a0f0a0" stroke="#3c8c3c" stroke-width="0.9"/>
<circle cx="90.10" cy="1122.93" r="3.25" fill="#a0f0a0" stroke="#3c8c3c" stroke-width="0.9"/>
<circle cx="94.92" cy="1123.22" r="3.25" fill="#a0f0a0" stroke="#3c8c3c" stroke-width="0.9"/>
<circle cx="99.73" cy="1122.93" r="3.25" fill="#a0f0a0" stroke="#3c8c3c" stroke-width="0.9"/>
<circle cx="104.55" cy="1123.22" r="3.25" fill="#a0f0a0" stroke="#3c8c3c" stroke-width="0.9"/>
<circle cx="109.37" cy="1122.93" r="3.25" fill="#a0f0a0" stroke="#3c8c3c" stroke-width="0.9"/>
<circle cx="114.18" cy="1123.22" r="3.25" fill="#a0f0a0" stroke="#3c8c3c" stroke-width="0.9"/>
<circle cx="119.00" cy="1123.22" r="3.25" fill="#a0f0a0" stroke="#3c8c3c" stroke-width="0.9"/>
<circle cx="103.42" cy="1113.02" r="3.25" fill="#a0f0a0" stroke="#3c8c3c" stroke-width="0.9"/>
<circle cx="113.33" cy="1115.85" r="3.25" fill="#a0f0a0" stroke="#3c8c3c" stroke-width="0.9"/>
<circle cx="165.18" cy="944.43" r="3.25" fill="#00f000" stroke="#0a6a0a" stroke-width="0.9"/>
<circle cx="157.53" cy="948.68" r="3.25" fill="#00f000" stroke="#0a6a0a" stroke-width="0.9"/>
<circle cx="169.15" cy="977.87" r="3.25" fill="#00f000" stroke="#0a6a0a" stroke-width="0.9"/>
<circle cx="161.50" cy="979.57" r="3.25" fill="#00f000" stroke="#0a6a0a" stroke-width="0.9"/>
<circle cx="153.28" cy="989.77" r="3.25" fill="#00f000" stroke="#0a6a0a" stroke-width="0.9"/>
<circle cx="160.93" cy="995.43" r="3.25" fill="#00f000" stroke="#0a6a0a" stroke-width="0.9"/>
<circle cx="153.28" cy="1019.23" r="3.25" fill="#00f000" stroke="#0a6a0a" stroke-width="0.9"/>
<circle cx="161.22" cy="1023.48" r="3.25" fill="#00f000" stroke="#0a6a0a" stroke-width="0.9"/>
<circle cx="161.22" cy="1032.83" r="3.25" fill="#00f000" stroke="#0a6a0a" stroke-width="0.9"/>
<circle cx="161.22" cy="1053.52" r="3.25" fill="#00f000" stroke="#0a6a0a" stroke-width="0.9"/>
<circle cx="149.60" cy="1071.93" r="3.25" fill="#00f000" stroke="#0a6a0a" stroke-width="0.9"/>
<circle cx="157.53" cy="1074.77" r="3.25" fill="#00f000" stroke="#0a6a0a" stroke-width="0.9"/>
<circle cx="165.18" cy="1073.07" r="3.25" fill="#00f000" stroke="#0a6a0a" stroke-width="0.9"/>
<circle cx="173.12" cy="1070.23" r="3.25" fill="#00f000" stroke="#0a6a0a" stroke-width="0.9"/>
<circle cx="153.28" cy="1087.23" r="3.25" fill="#00f000" stroke="#0a6a0a" stroke-width="0.9"/>
<circle cx="161.22" cy="1092.33" r="3.25" fill="#00f000" stroke="#0a6a0a" stroke-width="0.9"/>
<circle cx="161.22" cy="1099.42" r="3.25" fill="#00f000" stroke="#0a6a0a" stroke-width="0.9"/>
<circle cx="161.22" cy="1105.93" r="3.25" fill="#00f000" stroke="#0a6a0a" stroke-width="0.9"/>
<circle cx="145.35" cy="1117.83" r="3.25" fill="#00f000" stroke="#0a6a0a" stroke-width="0.9"/>
<circle cx="153.28" cy="1113.02" r="3.25" fill="#00f000" stroke="#0a6a0a" stroke-width="0.9"/>
<circle cx="161.22" cy="1115.00" r="3.25" fill="#00f000" stroke="#0a6a0a" stroke-width="0.9"/>
<circle cx="169.15" cy="1113.02" r="3.25" fill="#00f000" stroke="#0a6a0a" stroke-width="0.9"/>
<circle cx="177.08" cy="1111.60" r="3.25" fill="#00f000" stroke="#0a6a0a" stroke-width="0.9"/>
<circle cx="177.08" cy="1119.25" r="3.25" fill="#00f000" stroke="#0a6a0a" stroke-width="0.9"/>
<circle cx="224.97" cy="940.18" r="3.25" fill="#00a800" stroke="#064a06" stroke-width="0.9"/>
<circle cx="214.48" cy="943.30" r="3.25" fill="#00a800" stroke="#064a06" stroke-width="0.9"/>
<circle cx="224.97" cy="952.08" r="3.25" fill="#00a800" stroke="#064a06" stroke-width="0.9"/>
<circle cx="235.45" cy="954.07" r="3.25" fill="#00a800" stroke="#064a06" stroke-width="0.9"/>
<circle cx="214.48" cy="958.03" r="3.25" fill="#00a800" stroke="#064a06" stroke-width="0.9"/>
<circle cx="204.00" cy="966.53" r="3.25" fill="#00a800" stroke="#064a06" stroke-width="0.9"/>
<circle cx="214.48" cy="969.37" r="3.25" fill="#00a800" stroke="#064a06" stroke-width="0.9"/>
<circle cx="224.97" cy="965.97" r="3.25" fill="#00a800" stroke="#064a06" stroke-width="0.9"/>
<circle cx="224.97" cy="973.33" r="3.25" fill="#00a800" stroke="#064a06" stroke-width="0.9"/>
<circle cx="219.02" cy="984.10" r="3.25" fill="#00a800" stroke="#064a06" stroke-width="0.9"/>
<circle cx="219.02" cy="992.60" r="3.25" fill="#00a800" stroke="#064a06" stroke-width="0.9"/>
<circle cx="224.97" cy="1038.50" r="3.25" fill="#00a800" stroke="#064a06" stroke-width="0.9"/>
<circle cx="235.45" cy="1037.08" r="3.25" fill="#00a800" stroke="#064a06" stroke-width="0.9"/>
<circle cx="214.48" cy="1042.75" r="3.25" fill="#00a800" stroke="#064a06" stroke-width="0.9"/>
<circle cx="235.45" cy="1049.27" r="3.25" fill="#00a800" stroke="#064a06" stroke-width="0.9"/>
<circle cx="204.00" cy="1052.10" r="3.25" fill="#00a800" stroke="#064a06" stroke-width="0.9"/>
<circle cx="214.48" cy="1051.25" r="3.25" fill="#00a800" stroke="#064a06" stroke-width="0.9"/>
<circle cx="224.97" cy="1054.08" r="3.25" fill="#00a800" stroke="#064a06" stroke-width="0.9"/>
<circle cx="219.02" cy="1061.17" r="3.25" fill="#00a800" stroke="#064a06" stroke-width="0.9"/>
<circle cx="214.48" cy="1071.93" r="3.25" fill="#00a800" stroke="#064a06" stroke-width="0.9"/>
<circle cx="224.97" cy="1072.50" r="3.25" fill="#00a800" stroke="#064a06" stroke-width="0.9"/>
<circle cx="219.02" cy="1083.83" r="3.25" fill="#00a800" stroke="#064a06" stroke-width="0.9"/>
<circle cx="214.48" cy="1104.52" r="3.25" fill="#00a800" stroke="#064a06" stroke-width="0.9"/>
<circle cx="224.97" cy="1104.52" r="3.25" fill="#00a800" stroke="#064a06" stroke-width="0.9"/>
<circle cx="277.67" cy="943.02" r="3.25" fill="#ff8a8a" stroke="#6a2a2a" stroke-width="0.9"/>
<circle cx="262.08" cy="951.80" r="3.25" fill="#ff8a8a" stroke="#6a2a2a" stroke-width="0.9"/>
<circle cx="277.67" cy="953.50" r="3.25" fill="#ff8a8a" stroke="#6a2a2a" stroke-width="0.9"/>
<circle cx="262.08" cy="966.25" r="3.25" fill="#ff8a8a" stroke="#6a2a2a" stroke-width="0.9"/>
<circle cx="277.67" cy="966.25" r="3.25" fill="#ff8a8a" stroke="#6a2a2a" stroke-width="0.9"/>
<circle cx="293.53" cy="964.27" r="3.25" fill="#ff8a8a" stroke="#6a2a2a" stroke-width="0.9"/>
<circle cx="277.67" cy="978.43" r="3.25" fill="#ff8a8a" stroke="#6a2a2a" stroke-width="0.9"/>
<circle cx="293.53" cy="982.40" r="3.25" fill="#ff8a8a" stroke="#6a2a2a" stroke-width="0.9"/>
<circle cx="277.67" cy="988.92" r="3.25" fill="#ff8a8a" stroke="#6a2a2a" stroke-width="0.9"/>
<circle cx="262.08" cy="994.58" r="3.25" fill="#ff8a8a" stroke="#6a2a2a" stroke-width="0.9"/>
<circle cx="293.53" cy="994.58" r="3.25" fill="#ff8a8a" stroke="#6a2a2a" stroke-width="0.9"/>
<circle cx="277.67" cy="1000.25" r="3.25" fill="#ff8a8a" stroke="#6a2a2a" stroke-width="0.9"/>
<circle cx="262.08" cy="1007.62" r="3.25" fill="#ff8a8a" stroke="#6a2a2a" stroke-width="0.9"/>
<circle cx="293.53" cy="1009.03" r="3.25" fill="#ff8a8a" stroke="#6a2a2a" stroke-width="0.9"/>
<circle cx="277.67" cy="1013.00" r="3.25" fill="#ff8a8a" stroke="#6a2a2a" stroke-width="0.9"/>
<circle cx="277.67" cy="1020.93" r="3.25" fill="#ff8a8a" stroke="#6a2a2a" stroke-width="0.9"/>
<circle cx="269.73" cy="1042.75" r="3.25" fill="#ff8a8a" stroke="#6a2a2a" stroke-width="0.9"/>
<circle cx="285.60" cy="1039.07" r="3.25" fill="#ff8a8a" stroke="#6a2a2a" stroke-width="0.9"/>
<circle cx="277.67" cy="1070.23" r="3.25" fill="#ff8a8a" stroke="#6a2a2a" stroke-width="0.9"/>
<circle cx="269.73" cy="1095.73" r="3.25" fill="#ff8a8a" stroke="#6a2a2a" stroke-width="0.9"/>
<circle cx="285.60" cy="1098.85" r="3.25" fill="#ff8a8a" stroke="#6a2a2a" stroke-width="0.9"/>
<circle cx="262.08" cy="1122.65" r="3.25" fill="#ff8a8a" stroke="#6a2a2a" stroke-width="0.9"/>
<circle cx="277.67" cy="1122.65" r="3.25" fill="#ff8a8a" stroke="#6a2a2a" stroke-width="0.9"/>
<circle cx="293.53" cy="1122.65" r="3.25" fill="#ff8a8a" stroke="#6a2a2a" stroke-width="0.9"/>
<line x1="84.10" y1="1120.18" x2="121.10" y2="1120.18" stroke="#000" stroke-width="2.2" />
<line x1="95.60" y1="1117.66" x2="109.60" y2="1117.66" stroke="#000" stroke-width="1.0" />
<line x1="161.20" y1="998.09" x2="161.20" y2="1112.23" stroke="#000" stroke-width="1.7" />
<line x1="152.20" y1="998.09" x2="170.20" y2="998.09" stroke="#000" stroke-width="1.7" />
<line x1="152.20" y1="1112.23" x2="170.20" y2="1112.23" stroke="#000" stroke-width="1.7" />
<line x1="142.00" y1="1055.65" x2="180.40" y2="1055.65" stroke="#000" stroke-width="3.5" />
<line x1="219.00" y1="962.82" x2="219.00" y2="1071.92" stroke="#000" stroke-width="1.7" />
<line x1="210.00" y1="962.82" x2="228.00" y2="962.82" stroke="#000" stroke-width="1.7" />
<line x1="210.00" y1="1071.92" x2="228.00" y2="1071.92" stroke="#000" stroke-width="1.7" />
<line x1="199.80" y1="1017.27" x2="238.20" y2="1017.27" stroke="#000" stroke-width="3.5" />
<line x1="277.70" y1="960.68" x2="277.70" y2="1076.58" stroke="#000" stroke-width="1.7" />
<line x1="268.70" y1="960.68" x2="286.70" y2="960.68" stroke="#000" stroke-width="1.7" />
<line x1="268.70" y1="1076.58" x2="286.70" y2="1076.58" stroke="#000" stroke-width="1.7" />
<line x1="258.50" y1="1018.63" x2="296.90" y2="1018.63" stroke="#000" stroke-width="3.5" />
<line x1="65.20" y1="928.10" x2="65.20" y2="1123.50" stroke="#000" stroke-width="1.9" />
<line x1="64.40" y1="1122.70" x2="317.00" y2="1122.70" stroke="#000" stroke-width="1.9" />
<line x1="57.70" y1="1122.70" x2="65.20" y2="1122.70" stroke="#000" stroke-width="1.9" />
<text x="56.00" y="1127.90" font-size="14.5" text-anchor="end">0</text>
<line x1="57.70" y1="1083.94" x2="65.20" y2="1083.94" stroke="#000" stroke-width="1.9" />
<text x="56.00" y="1089.14" font-size="14.5" text-anchor="end">20</text>
<line x1="57.70" y1="1045.18" x2="65.20" y2="1045.18" stroke="#000" stroke-width="1.9" />
<text x="56.00" y="1050.38" font-size="14.5" text-anchor="end">40</text>
<line x1="57.70" y1="1006.42" x2="65.20" y2="1006.42" stroke="#000" stroke-width="1.9" />
<text x="56.00" y="1011.62" font-size="14.5" text-anchor="end">60</text>
<line x1="57.70" y1="967.66" x2="65.20" y2="967.66" stroke="#000" stroke-width="1.9" />
<text x="56.00" y="972.86" font-size="14.5" text-anchor="end">80</text>
<line x1="57.70" y1="928.90" x2="65.20" y2="928.90" stroke="#000" stroke-width="1.9" />
<text x="56.00" y="934.10" font-size="14.5" text-anchor="end">100</text>
<line x1="102.60" y1="1122.70" x2="102.60" y2="1129.70" stroke="#000" stroke-width="1.9" />
<line x1="161.20" y1="1122.70" x2="161.20" y2="1129.70" stroke="#000" stroke-width="1.9" />
<line x1="219.00" y1="1122.70" x2="219.00" y2="1129.70" stroke="#000" stroke-width="1.9" />
<line x1="277.70" y1="1122.70" x2="277.70" y2="1129.70" stroke="#000" stroke-width="1.9" />
<text x="24.50" y="1024.50" font-size="14.5" text-anchor="middle" transform="rotate(-90 24.50 1024.50)" textLength="57.0" lengthAdjust="spacing">indel(%)</text>
<text x="101.00" y="1145.50" font-size="14.5" text-anchor="end" transform="rotate(-45 101.00 1145.50)" textLength="78.0" lengthAdjust="spacing">WT-DelIscB</text>
<text x="115.50" y="1154.50" font-size="14.5" text-anchor="end" transform="rotate(-45 115.50 1154.50)" textLength="78.0" lengthAdjust="spacing">+sgRNA-V1</text>
<text x="165.00" y="1145.00" font-size="14.5" text-anchor="end" transform="rotate(-45 165.00 1145.00)" textLength="66.0" lengthAdjust="spacing">enDelIscB</text>
<text x="223.00" y="1145.00" font-size="14.5" text-anchor="end" transform="rotate(-45 223.00 1145.00)" textLength="98.0" lengthAdjust="spacing">enDelIscB-T5E</text>
<text x="281.50" y="1145.00" font-size="14.5" text-anchor="end" transform="rotate(-45 281.50 1145.00)" textLength="76.0" lengthAdjust="spacing">enIscB-T5E</text>
<text x="332.30" y="897.30" font-size="29">d</text>
<line x1="417.70" y1="893.20" x2="1197.80" y2="893.20" stroke="#1a1a1a" stroke-width="1.9" />
<text transform="translate(627.30 885.00) scale(1.22 1)" font-size="14.5" fill="#111"><tspan font-style="italic">EMX1</tspan>-sg2</text>
<text transform="translate(713.00 885.00) scale(1.22 1)" font-size="14.5" fill="#111">:</text>
<text transform="translate(730.00 885.00) scale(1.252 1)" font-size="14.5" fill="#111">Mutation position distribution</text>
<rect x="448.15" y="921.80" width="70.23" height="229.30" fill="#f0f0f0" stroke="none" stroke-width="1" />
<line x1="448.15" y1="925.80" x2="448.15" y2="1151.60" stroke="#bdbdbd" stroke-width="2" stroke-dasharray="24 10"/>
<line x1="518.38" y1="925.80" x2="518.38" y2="1151.60" stroke="#bdbdbd" stroke-width="2" stroke-dasharray="24 10"/>
<path d="M393.60,1151.90 L476.20,1151.90 L477.00,962.60 L479.00,961.50 L481.40,960.30 L483.20,1050.00 L485.30,1151.90 L513.40,1151.90 L515.30,1150.00 L516.30,1135.00 L517.40,1150.00 L518.60,1151.90 L626.00,1151.90" fill="none" stroke="#ff0000" stroke-width="1.9" stroke-linejoin="round"/>
<path d="M481.10,1151.60 L483.00,942.50 L484.80,1151.60" fill="none" stroke="#0a8a0a" stroke-width="1.9" stroke-linejoin="round"/>
<line x1="483.03" y1="925.80" x2="483.03" y2="1151.60" stroke="#111" stroke-width="2" stroke-dasharray="21.7 3.6"/>
<rect x="393.60" y="920.80" width="233.10" height="230.80" fill="none" stroke="#1e1e1e" stroke-width="2.1" />
<line x1="393.60" y1="1151.60" x2="393.60" y2="1154.90" stroke="#1e1e1e" stroke-width="1.4" />
<text transform="translate(393.10 1168.60) scale(1.0 1)" font-size="14.3" fill="#222" text-anchor="middle">0</text>
<line x1="428.72" y1="1151.60" x2="428.72" y2="1154.90" stroke="#1e1e1e" stroke-width="1.4" />
<text transform="translate(428.22 1168.60) scale(1.0 1)" font-size="14.3" fill="#222" text-anchor="middle">30</text>
<line x1="463.83" y1="1151.60" x2="463.83" y2="1154.90" stroke="#1e1e1e" stroke-width="1.4" />
<text transform="translate(463.33 1168.60) scale(1.0 1)" font-size="14.3" fill="#222" text-anchor="middle">60</text>
<line x1="498.95" y1="1151.60" x2="498.95" y2="1154.90" stroke="#1e1e1e" stroke-width="1.4" />
<text transform="translate(498.45 1168.60) scale(1.0 1)" font-size="14.3" fill="#222" text-anchor="middle">90</text>
<line x1="534.06" y1="1151.60" x2="534.06" y2="1154.90" stroke="#1e1e1e" stroke-width="1.4" />
<text transform="translate(533.56 1168.60) scale(1.0 1)" font-size="14.3" fill="#222" text-anchor="middle">120</text>
<line x1="569.18" y1="1151.60" x2="569.18" y2="1154.90" stroke="#1e1e1e" stroke-width="1.4" />
<text transform="translate(568.68 1168.60) scale(1.0 1)" font-size="14.3" fill="#222" text-anchor="middle">150</text>
<line x1="604.29" y1="1151.60" x2="604.29" y2="1154.90" stroke="#1e1e1e" stroke-width="1.4" />
<text transform="translate(603.79 1168.60) scale(1.0 1)" font-size="14.3" fill="#222" text-anchor="middle">180</text>
<line x1="390.30" y1="1151.60" x2="393.60" y2="1151.60" stroke="#1e1e1e" stroke-width="1.4" />
<text transform="translate(386.60 1155.90) scale(1.0 1)" font-size="14.3" fill="#222" text-anchor="end">0.0%</text>
<line x1="390.30" y1="1113.00" x2="393.60" y2="1113.00" stroke="#1e1e1e" stroke-width="1.4" />
<text transform="translate(386.60 1117.30) scale(1.0 1)" font-size="14.3" fill="#222" text-anchor="end">0.3%</text>
<line x1="390.30" y1="1074.40" x2="393.60" y2="1074.40" stroke="#1e1e1e" stroke-width="1.4" />
<text transform="translate(386.60 1078.70) scale(1.0 1)" font-size="14.3" fill="#222" text-anchor="end">0.6%</text>
<line x1="390.30" y1="1035.90" x2="393.60" y2="1035.90" stroke="#1e1e1e" stroke-width="1.4" />
<text transform="translate(386.60 1040.20) scale(1.0 1)" font-size="14.3" fill="#222" text-anchor="end">0.9%</text>
<line x1="390.30" y1="997.30" x2="393.60" y2="997.30" stroke="#1e1e1e" stroke-width="1.4" />
<text transform="translate(386.60 1001.60) scale(1.0 1)" font-size="14.3" fill="#222" text-anchor="end">1.2%</text>
<line x1="390.30" y1="958.80" x2="393.60" y2="958.80" stroke="#1e1e1e" stroke-width="1.4" />
<text transform="translate(386.60 963.10) scale(1.0 1)" font-size="14.3" fill="#222" text-anchor="end">1.5%</text>
<text transform="translate(512.00 1184.90) scale(1.0 1)" font-size="14.6" fill="#222" text-anchor="middle">Reference amplicon position (bp)</text>
<text transform="translate(506.70 913.40) scale(1.0 1)" font-size="14.6" fill="#222" text-anchor="middle">WT-DelIscB+sgRNA-V1</text>
<text transform="translate(347.3 1030.4) rotate(-90) scale(1 1.04)" font-size="14.9" fill="#222" text-anchor="middle">Sequences: % Total</text>
<rect x="608.30" y="929.60" width="9.40" height="24.60" fill="#f0f0f0" stroke="none" stroke-width="1" />
<line x1="608.70" y1="929.60" x2="608.70" y2="954.20" stroke="#c4c4c4" stroke-width="1.7" />
<line x1="617.30" y1="929.60" x2="617.30" y2="951.00" stroke="#c4c4c4" stroke-width="1.5" />
<line x1="614.50" y1="930.00" x2="618.00" y2="930.00" stroke="#c4c4c4" stroke-width="1" />
<line x1="595.40" y1="929.40" x2="595.40" y2="954.50" stroke="#0a8a0a" stroke-width="2.1" stroke-linecap="round"/>
<line x1="578.20" y1="929.40" x2="578.20" y2="954.50" stroke="#ff0000" stroke-width="2.1" stroke-linecap="round"/>
<line x1="561.50" y1="929.80" x2="561.50" y2="953.80" stroke="#111" stroke-width="2.1" stroke-dasharray="11 1.9"/>
<text transform="translate(607.6 963.3) rotate(90) scale(1 1.03)" font-size="14.6" fill="#222" textLength="143.5" lengthAdjust="spacing">Quantification window</text>
<text transform="translate(590.9 963.3) rotate(90) scale(1 1.03)" font-size="14.6" fill="#222" textLength="62.5" lengthAdjust="spacing">Insertions</text>
<text transform="translate(574.3 963.3) rotate(90) scale(1 1.03)" font-size="14.6" fill="#222" textLength="60.5" lengthAdjust="spacing">Deletions</text>
<text transform="translate(557.6 963.3) rotate(90) scale(1 1.03)" font-size="14.6" fill="#222" textLength="178.5" lengthAdjust="spacing">Predicted cleavage position</text>
<rect x="734.95" y="920.60" width="70.23" height="229.50" fill="#f0f0f0" stroke="none" stroke-width="1" />
<line x1="734.95" y1="924.60" x2="734.95" y2="1150.60" stroke="#bdbdbd" stroke-width="2" stroke-dasharray="24 10"/>
<line x1="805.18" y1="924.60" x2="805.18" y2="1150.60" stroke="#bdbdbd" stroke-width="2" stroke-dasharray="24 10"/>
<path d="M681.67,1150.17 L711.67,1149.67 L725.83,1149.17 L728.33,1144.17 L732.50,1143.33 L733.33,1140.83 L737.50,1140.00 L740.00,1133.33 L742.50,1124.17 L748.33,1120.83 L750.83,1110.00 L753.33,1068.33 L755.83,1043.33 L758.33,1031.67 L760.83,1021.67 L763.33,998.33 L765.33,940.83 L767.50,950.83 L769.17,971.67 L771.33,970.83 L772.00,1008.33 L773.33,1028.33 L775.83,1052.50 L778.33,1056.67 L780.00,1065.00 L781.67,1098.33 L783.33,1115.00 L785.83,1127.50 L787.50,1130.83 L790.00,1131.33 L794.17,1136.33 L802.50,1136.67 L804.67,1140.00 L819.17,1140.00 L820.83,1143.00 L824.67,1143.33 L825.83,1150.17 L913.33,1150.33" fill="none" stroke="#ff0000" stroke-width="1.9" stroke-linejoin="round"/>
<path d="M750.00,1150.33 L762.50,1150.00 L765.83,1147.50 L768.00,1140.00 L769.17,1098.33 L770.00,1065.00 L771.33,1075.00 L772.00,1131.67 L772.50,1150.00 L783.33,1150.33" fill="none" stroke="#0a8a0a" stroke-width="1.9" stroke-linejoin="round"/>
<line x1="769.83" y1="924.60" x2="769.83" y2="1150.60" stroke="#111" stroke-width="2" stroke-dasharray="21.7 3.6"/>
<rect x="680.40" y="919.60" width="233.90" height="231.00" fill="none" stroke="#1e1e1e" stroke-width="2.1" />
<line x1="680.40" y1="1150.60" x2="680.40" y2="1153.90" stroke="#1e1e1e" stroke-width="1.4" />
<text transform="translate(679.90 1167.60) scale(1.0 1)" font-size="14.3" fill="#222" text-anchor="middle">0</text>
<line x1="715.51" y1="1150.60" x2="715.51" y2="1153.90" stroke="#1e1e1e" stroke-width="1.4" />
<text transform="translate(715.01 1167.60) scale(1.0 1)" font-size="14.3" fill="#222" text-anchor="middle">30</text>
<line x1="750.63" y1="1150.60" x2="750.63" y2="1153.90" stroke="#1e1e1e" stroke-width="1.4" />
<text transform="translate(750.13 1167.60) scale(1.0 1)" font-size="14.3" fill="#222" text-anchor="middle">60</text>
<line x1="785.75" y1="1150.60" x2="785.75" y2="1153.90" stroke="#1e1e1e" stroke-width="1.4" />
<text transform="translate(785.25 1167.60) scale(1.0 1)" font-size="14.3" fill="#222" text-anchor="middle">90</text>
<line x1="820.86" y1="1150.60" x2="820.86" y2="1153.90" stroke="#1e1e1e" stroke-width="1.4" />
<text transform="translate(820.36 1167.60) scale(1.0 1)" font-size="14.3" fill="#222" text-anchor="middle">120</text>
<line x1="855.98" y1="1150.60" x2="855.98" y2="1153.90" stroke="#1e1e1e" stroke-width="1.4" />
<text transform="translate(855.48 1167.60) scale(1.0 1)" font-size="14.3" fill="#222" text-anchor="middle">150</text>
<line x1="891.09" y1="1150.60" x2="891.09" y2="1153.90" stroke="#1e1e1e" stroke-width="1.4" />
<text transform="translate(890.59 1167.60) scale(1.0 1)" font-size="14.3" fill="#222" text-anchor="middle">180</text>
<line x1="677.10" y1="1150.50" x2="680.40" y2="1150.50" stroke="#1e1e1e" stroke-width="1.4" />
<text transform="translate(677.60 1154.80) scale(1.0 1)" font-size="14.3" fill="#222" text-anchor="end">0.0%</text>
<line x1="677.10" y1="1111.80" x2="680.40" y2="1111.80" stroke="#1e1e1e" stroke-width="1.4" />
<text transform="translate(677.60 1116.10) scale(1.0 1)" font-size="14.3" fill="#222" text-anchor="end">8.5%</text>
<line x1="677.10" y1="1073.10" x2="680.40" y2="1073.10" stroke="#1e1e1e" stroke-width="1.4" />
<text transform="translate(677.60 1077.40) scale(1.0 1)" font-size="14.3" fill="#222" text-anchor="end">17.0%</text>
<line x1="677.10" y1="1034.20" x2="680.40" y2="1034.20" stroke="#1e1e1e" stroke-width="1.4" />
<text transform="translate(677.60 1038.50) scale(1.0 1)" font-size="14.3" fill="#222" text-anchor="end">25.6%</text>
<line x1="677.10" y1="995.40" x2="680.40" y2="995.40" stroke="#1e1e1e" stroke-width="1.4" />
<text transform="translate(677.60 999.70) scale(1.0 1)" font-size="14.3" fill="#222" text-anchor="end">34.1%</text>
<line x1="677.10" y1="956.70" x2="680.40" y2="956.70" stroke="#1e1e1e" stroke-width="1.4" />
<text transform="translate(677.60 961.00) scale(1.0 1)" font-size="14.3" fill="#222" text-anchor="end">42.6%</text>
<text transform="translate(799.00 1183.90) scale(1.0 1)" font-size="14.6" fill="#222" text-anchor="middle">Reference amplicon position (bp)</text>
<text transform="translate(793.30 912.20) scale(1.0 1)" font-size="14.6" fill="#222" text-anchor="middle">enDelIscB</text>
<rect x="1020.55" y="920.20" width="70.23" height="229.30" fill="#f0f0f0" stroke="none" stroke-width="1" />
<line x1="1020.55" y1="924.20" x2="1020.55" y2="1150.00" stroke="#bdbdbd" stroke-width="2" stroke-dasharray="24 10"/>
<line x1="1090.78" y1="924.20" x2="1090.78" y2="1150.00" stroke="#bdbdbd" stroke-width="2" stroke-dasharray="24 10"/>
<path d="M966.67,1149.00 L990.00,1148.83 L1020.00,1148.33 L1025.00,1146.67 L1029.17,1143.00 L1035.00,1140.83 L1037.50,1135.00 L1040.00,1128.33 L1043.33,1118.33 L1045.83,1110.00 L1048.00,1100.00 L1048.67,1065.00 L1049.67,998.33 L1050.33,970.00 L1051.67,968.33 L1052.50,948.33 L1054.17,940.00 L1055.83,941.67 L1056.67,948.33 L1057.17,998.33 L1058.00,1065.00 L1058.67,1098.33 L1059.67,1106.67 L1061.67,1116.67 L1064.17,1122.50 L1065.83,1136.67 L1070.00,1145.00 L1076.67,1146.67 L1090.00,1147.50 L1118.33,1148.33" fill="none" stroke="#ff0000" stroke-width="1.9" stroke-linejoin="round"/>
<path d="M1053.33,1149.00 L1055.33,1147.00 L1057.33,1149.00" fill="none" stroke="#0a8a0a" stroke-width="1.9" stroke-linejoin="round"/>
<line x1="1055.43" y1="924.20" x2="1055.43" y2="1150.00" stroke="#111" stroke-width="2" stroke-dasharray="21.7 3.6"/>
<rect x="966.00" y="919.20" width="233.00" height="230.80" fill="none" stroke="#1e1e1e" stroke-width="2.1" />
<line x1="966.00" y1="1150.00" x2="966.00" y2="1153.30" stroke="#1e1e1e" stroke-width="1.4" />
<text transform="translate(965.50 1167.00) scale(1.0 1)" font-size="14.3" fill="#222" text-anchor="middle">0</text>
<line x1="1001.12" y1="1150.00" x2="1001.12" y2="1153.30" stroke="#1e1e1e" stroke-width="1.4" />
<text transform="translate(1000.62 1167.00) scale(1.0 1)" font-size="14.3" fill="#222" text-anchor="middle">30</text>
<line x1="1036.23" y1="1150.00" x2="1036.23" y2="1153.30" stroke="#1e1e1e" stroke-width="1.4" />
<text transform="translate(1035.73 1167.00) scale(1.0 1)" font-size="14.3" fill="#222" text-anchor="middle">60</text>
<line x1="1071.35" y1="1150.00" x2="1071.35" y2="1153.30" stroke="#1e1e1e" stroke-width="1.4" />
<text transform="translate(1070.85 1167.00) scale(1.0 1)" font-size="14.3" fill="#222" text-anchor="middle">90</text>
<line x1="1106.46" y1="1150.00" x2="1106.46" y2="1153.30" stroke="#1e1e1e" stroke-width="1.4" />
<text transform="translate(1105.96 1167.00) scale(1.0 1)" font-size="14.3" fill="#222" text-anchor="middle">120</text>
<line x1="1141.58" y1="1150.00" x2="1141.58" y2="1153.30" stroke="#1e1e1e" stroke-width="1.4" />
<text transform="translate(1141.08 1167.00) scale(1.0 1)" font-size="14.3" fill="#222" text-anchor="middle">150</text>
<line x1="1176.69" y1="1150.00" x2="1176.69" y2="1153.30" stroke="#1e1e1e" stroke-width="1.4" />
<text transform="translate(1176.19 1167.00) scale(1.0 1)" font-size="14.3" fill="#222" text-anchor="middle">180</text>
<line x1="962.70" y1="1150.20" x2="966.00" y2="1150.20" stroke="#1e1e1e" stroke-width="1.4" />
<text transform="translate(963.20 1154.50) scale(1.0 1)" font-size="14.3" fill="#222" text-anchor="end">0.0%</text>
<line x1="962.70" y1="1110.80" x2="966.00" y2="1110.80" stroke="#1e1e1e" stroke-width="1.4" />
<text transform="translate(963.20 1115.10) scale(1.0 1)" font-size="14.3" fill="#222" text-anchor="end">13.2%</text>
<line x1="962.70" y1="1071.70" x2="966.00" y2="1071.70" stroke="#1e1e1e" stroke-width="1.4" />
<text transform="translate(963.20 1076.00) scale(1.0 1)" font-size="14.3" fill="#222" text-anchor="end">26.5%</text>
<line x1="962.70" y1="1033.00" x2="966.00" y2="1033.00" stroke="#1e1e1e" stroke-width="1.4" />
<text transform="translate(963.20 1037.30) scale(1.0 1)" font-size="14.3" fill="#222" text-anchor="end">39.7%</text>
<line x1="962.70" y1="994.80" x2="966.00" y2="994.80" stroke="#1e1e1e" stroke-width="1.4" />
<text transform="translate(963.20 999.10) scale(1.0 1)" font-size="14.3" fill="#222" text-anchor="end">53.0%</text>
<line x1="962.70" y1="956.70" x2="966.00" y2="956.70" stroke="#1e1e1e" stroke-width="1.4" />
<text transform="translate(963.20 961.00) scale(1.0 1)" font-size="14.3" fill="#222" text-anchor="end">66.2%</text>
<text transform="translate(1082.00 1183.30) scale(1.0 1)" font-size="14.6" fill="#222" text-anchor="middle">Reference amplicon position (bp)</text>
<text transform="translate(1071.50 911.80) scale(1.0 1)" font-size="14.6" fill="#222" text-anchor="middle">enDelIscB-T5E</text>
<text x="-0.50" y="1243.00" font-size="29">e</text>
<text x="133.90" y="1323.00" font-size="14.6" text-anchor="middle" textLength="72.2" lengthAdjust="spacing" font-family='"Liberation Mono", monospace' stroke="#111" stroke-width="0.08"><tspan font-style="italic">EMX1</tspan>−sg4</text>
<text x="211.70" y="1323.00" font-size="14.6" fill="#1f7ac4" textLength="25.7" lengthAdjust="spacing" font-family='"Liberation Mono", monospace' stroke="#1f7ac4" stroke-width="0.32">TAM</text>
<text x="62.70" y="1344.90" font-size="14.6" textLength="139.4" lengthAdjust="spacing" font-family='"Liberation Mono", monospace' stroke="#111" stroke-width="0.08">GGAGGTAGTATACAGA</text>
<text x="211.70" y="1344.90" font-size="14.6" fill="#1f7ac4" textLength="25.7" lengthAdjust="spacing" font-family='"Liberation Mono", monospace' stroke="#1f7ac4" stroke-width="0.32">AAC</text>
<rect x="246.40" y="1328.30" width="26.30" height="21.44" fill="#ff3131" stroke="#1a1a1a" stroke-width="1.15" />
<text x="259.70" y="1342.42" font-size="9.3" text-anchor="middle" fill="#1a1a1a">65.72</text>
<rect x="272.70" y="1328.30" width="26.80" height="21.44" fill="#ff0202" stroke="#1a1a1a" stroke-width="1.15" />
<text x="286.00" y="1342.42" font-size="9.3" text-anchor="middle" fill="#1a1a1a">80.60</text>
<text x="62.70" y="1366.34" font-size="14.6" textLength="139.4" lengthAdjust="spacing" font-family='"Liberation Mono", monospace' stroke="#111" stroke-width="0.08">GGAGGTAGTATA<tspan fill="#f2161e" stroke="#f2161e" stroke-width="0.4">a</tspan>AGA</text>
<text x="211.70" y="1366.34" font-size="14.6" fill="#1f7ac4" textLength="25.7" lengthAdjust="spacing" font-family='"Liberation Mono", monospace' stroke="#1f7ac4" stroke-width="0.32">AAC</text>
<rect x="246.40" y="1349.74" width="26.30" height="21.44" fill="#ffffff" stroke="#1a1a1a" stroke-width="1.15" />
<text x="259.70" y="1363.85" font-size="9.3" text-anchor="middle" fill="#1a1a1a">0.01</text>
<rect x="272.70" y="1349.74" width="26.80" height="21.44" fill="#ffffff" stroke="#1a1a1a" stroke-width="1.15" />
<text x="286.00" y="1363.85" font-size="9.3" text-anchor="middle" fill="#1a1a1a">0.01</text>
<text x="62.70" y="1387.77" font-size="14.6" textLength="139.4" lengthAdjust="spacing" font-family='"Liberation Mono", monospace' stroke="#111" stroke-width="0.08">GGAGGTAGTATACAG<tspan fill="#f2161e" stroke="#f2161e" stroke-width="0.4">c</tspan></text>
<text x="211.70" y="1387.77" font-size="14.6" fill="#1f7ac4" textLength="25.7" lengthAdjust="spacing" font-family='"Liberation Mono", monospace' stroke="#1f7ac4" stroke-width="0.32">CAC</text>
<rect x="246.40" y="1371.17" width="26.30" height="21.44" fill="#ffffff" stroke="#1a1a1a" stroke-width="1.15" />
<text x="259.70" y="1385.29" font-size="9.3" text-anchor="middle" fill="#1a1a1a">0.09</text>
<rect x="272.70" y="1371.17" width="26.80" height="21.44" fill="#fffefe" stroke="#1a1a1a" stroke-width="1.15" />
<text x="286.00" y="1385.29" font-size="9.3" text-anchor="middle" fill="#1a1a1a">0.37</text>
<text x="62.70" y="1409.21" font-size="14.6" textLength="139.4" lengthAdjust="spacing" font-family='"Liberation Mono", monospace' stroke="#111" stroke-width="0.08">G<tspan fill="#f2161e" stroke="#f2161e" stroke-width="0.4">t</tspan>AGGTAG<tspan fill="#f2161e" stroke="#f2161e" stroke-width="0.4">a</tspan>ATACAGA</text>
<text x="211.70" y="1409.21" font-size="14.6" fill="#1f7ac4" textLength="25.7" lengthAdjust="spacing" font-family='"Liberation Mono", monospace' stroke="#1f7ac4" stroke-width="0.32">TAC</text>
<rect x="246.40" y="1392.61" width="26.30" height="21.44" fill="#ffffff" stroke="#1a1a1a" stroke-width="1.15" />
<text x="259.70" y="1406.72" font-size="9.3" text-anchor="middle" fill="#1a1a1a">0.10</text>
<rect x="272.70" y="1392.61" width="26.80" height="21.44" fill="#ffffff" stroke="#1a1a1a" stroke-width="1.15" />
<text x="286.00" y="1406.72" font-size="9.3" text-anchor="middle" fill="#1a1a1a">0.07</text>
<text x="62.70" y="1430.64" font-size="14.6" textLength="139.4" lengthAdjust="spacing" font-family='"Liberation Mono", monospace' stroke="#111" stroke-width="0.08">GGAGGTAGTA<tspan fill="#f2161e" stroke="#f2161e" stroke-width="0.4">c</tspan><tspan fill="#f2161e" stroke="#f2161e" stroke-width="0.4">t</tspan>CAGA</text>
<text x="211.70" y="1430.64" font-size="14.6" fill="#1f7ac4" textLength="25.7" lengthAdjust="spacing" font-family='"Liberation Mono", monospace' stroke="#1f7ac4" stroke-width="0.32">GAC</text>
<rect x="246.40" y="1414.04" width="26.30" height="21.44" fill="#ffffff" stroke="#1a1a1a" stroke-width="1.15" />
<text x="259.70" y="1428.16" font-size="9.3" text-anchor="middle" fill="#1a1a1a">0.12</text>
<rect x="272.70" y="1414.04" width="26.80" height="21.44" fill="#ffffff" stroke="#1a1a1a" stroke-width="1.15" />
<text x="286.00" y="1428.16" font-size="9.3" text-anchor="middle" fill="#1a1a1a">0.10</text>
<text x="62.70" y="1452.08" font-size="14.6" textLength="139.4" lengthAdjust="spacing" font-family='"Liberation Mono", monospace' stroke="#111" stroke-width="0.08">GG<tspan fill="#f2161e" stroke="#f2161e" stroke-width="0.4">t</tspan>GGTAGTA<tspan fill="#f2161e" stroke="#f2161e" stroke-width="0.4">g</tspan>ACAGA</text>
<text x="211.70" y="1452.08" font-size="14.6" fill="#1f7ac4" textLength="25.7" lengthAdjust="spacing" font-family='"Liberation Mono", monospace' stroke="#1f7ac4" stroke-width="0.32">GAC</text>
<rect x="246.40" y="1435.48" width="26.30" height="21.44" fill="#ffffff" stroke="#1a1a1a" stroke-width="1.15" />
<text x="259.70" y="1449.59" font-size="9.3" text-anchor="middle" fill="#1a1a1a">0.06</text>
<rect x="272.70" y="1435.48" width="26.80" height="21.44" fill="#ffffff" stroke="#1a1a1a" stroke-width="1.15" />
<text x="286.00" y="1449.59" font-size="9.3" text-anchor="middle" fill="#1a1a1a">0.06</text>
<text x="62.70" y="1473.51" font-size="14.6" textLength="139.4" lengthAdjust="spacing" font-family='"Liberation Mono", monospace' stroke="#111" stroke-width="0.08"><tspan fill="#f2161e" stroke="#f2161e" stroke-width="0.4">t</tspan>GAGGTAGTATACA<tspan fill="#f2161e" stroke="#f2161e" stroke-width="0.4">t</tspan>A</text>
<text x="211.70" y="1473.51" font-size="14.6" fill="#1f7ac4" textLength="25.7" lengthAdjust="spacing" font-family='"Liberation Mono", monospace' stroke="#1f7ac4" stroke-width="0.32">CAC</text>
<rect x="246.40" y="1456.91" width="26.30" height="21.44" fill="#ffffff" stroke="#1a1a1a" stroke-width="1.15" />
<text x="259.70" y="1471.03" font-size="9.3" text-anchor="middle" fill="#1a1a1a">0.03</text>
<rect x="272.70" y="1456.91" width="26.80" height="21.44" fill="#fffefe" stroke="#1a1a1a" stroke-width="1.15" />
<text x="286.00" y="1471.03" font-size="9.3" text-anchor="middle" fill="#1a1a1a">0.39</text>
<text x="62.70" y="1494.95" font-size="14.6" textLength="139.4" lengthAdjust="spacing" font-family='"Liberation Mono", monospace' stroke="#111" stroke-width="0.08">GGAGGTAGT<tspan fill="#f2161e" stroke="#f2161e" stroke-width="0.4">t</tspan>TACAG<tspan fill="#f2161e" stroke="#f2161e" stroke-width="0.4">t</tspan></text>
<text x="211.70" y="1494.95" font-size="14.6" fill="#1f7ac4" textLength="25.7" lengthAdjust="spacing" font-family='"Liberation Mono", monospace' stroke="#1f7ac4" stroke-width="0.32">GAC</text>
<rect x="246.40" y="1478.35" width="26.30" height="21.44" fill="#ffffff" stroke="#1a1a1a" stroke-width="1.15" />
<text x="259.70" y="1492.46" font-size="9.3" text-anchor="middle" fill="#1a1a1a">0.01</text>
<rect x="272.70" y="1478.35" width="26.80" height="21.44" fill="#ffffff" stroke="#1a1a1a" stroke-width="1.15" />
<text x="286.00" y="1492.46" font-size="9.3" text-anchor="middle" fill="#1a1a1a">0.03</text>
<text x="62.70" y="1516.38" font-size="14.6" textLength="139.4" lengthAdjust="spacing" font-family='"Liberation Mono", monospace' stroke="#111" stroke-width="0.08">GGAG<tspan fill="#f2161e" stroke="#f2161e" stroke-width="0.4">c</tspan>TAGTATACA<tspan fill="#f2161e" stroke="#f2161e" stroke-width="0.4">t</tspan>A</text>
<text x="211.70" y="1516.38" font-size="14.6" fill="#1f7ac4" textLength="25.7" lengthAdjust="spacing" font-family='"Liberation Mono", monospace' stroke="#1f7ac4" stroke-width="0.32">AAC</text>
<rect x="246.40" y="1499.78" width="26.30" height="21.44" fill="#ffffff" stroke="#1a1a1a" stroke-width="1.15" />
<text x="259.70" y="1513.90" font-size="9.3" text-anchor="middle" fill="#1a1a1a">0</text>
<rect x="272.70" y="1499.78" width="26.80" height="21.44" fill="#ffffff" stroke="#1a1a1a" stroke-width="1.15" />
<text x="286.00" y="1513.90" font-size="9.3" text-anchor="middle" fill="#1a1a1a">0</text>
<text x="62.70" y="1537.82" font-size="14.6" textLength="139.4" lengthAdjust="spacing" font-family='"Liberation Mono", monospace' stroke="#111" stroke-width="0.08">GGA<tspan fill="#f2161e" stroke="#f2161e" stroke-width="0.4">a</tspan>GTAGTATA<tspan fill="#f2161e" stroke="#f2161e" stroke-width="0.4">t</tspan>AGA</text>
<text x="211.70" y="1537.82" font-size="14.6" fill="#1f7ac4" textLength="25.7" lengthAdjust="spacing" font-family='"Liberation Mono", monospace' stroke="#1f7ac4" stroke-width="0.32">AAC</text>
<rect x="246.40" y="1521.22" width="26.30" height="21.44" fill="#ffffff" stroke="#1a1a1a" stroke-width="1.15" />
<text x="259.70" y="1535.34" font-size="9.3" text-anchor="middle" fill="#1a1a1a">0.02</text>
<rect x="272.70" y="1521.22" width="26.80" height="21.44" fill="#ffffff" stroke="#1a1a1a" stroke-width="1.15" />
<text x="286.00" y="1535.34" font-size="9.3" text-anchor="middle" fill="#1a1a1a">0.01</text>
<text x="62.70" y="1559.25" font-size="14.6" textLength="139.4" lengthAdjust="spacing" font-family='"Liberation Mono", monospace' stroke="#111" stroke-width="0.08">GGAGGT<tspan fill="#f2161e" stroke="#f2161e" stroke-width="0.4">g</tspan>GTA<tspan fill="#f2161e" stroke="#f2161e" stroke-width="0.4">c</tspan>ACAGA</text>
<text x="211.70" y="1559.25" font-size="14.6" fill="#1f7ac4" textLength="25.7" lengthAdjust="spacing" font-family='"Liberation Mono", monospace' stroke="#1f7ac4" stroke-width="0.32">AAC</text>
<rect x="246.40" y="1542.65" width="26.30" height="21.44" fill="#ffffff" stroke="#1a1a1a" stroke-width="1.15" />
<text x="259.70" y="1556.77" font-size="9.3" text-anchor="middle" fill="#1a1a1a">0.01</text>
<rect x="272.70" y="1542.65" width="26.80" height="21.44" fill="#ffffff" stroke="#1a1a1a" stroke-width="1.15" />
<text x="286.00" y="1556.77" font-size="9.3" text-anchor="middle" fill="#1a1a1a">0.01</text>
<text x="62.70" y="1580.69" font-size="14.6" textLength="139.4" lengthAdjust="spacing" font-family='"Liberation Mono", monospace' stroke="#111" stroke-width="0.08">GGAGG<tspan fill="#f2161e" stroke="#f2161e" stroke-width="0.4">a</tspan>AGTATAC<tspan fill="#f2161e" stroke="#f2161e" stroke-width="0.4">t</tspan>GA</text>
<text x="211.70" y="1580.69" font-size="14.6" fill="#1f7ac4" textLength="25.7" lengthAdjust="spacing" font-family='"Liberation Mono", monospace' stroke="#1f7ac4" stroke-width="0.32">TAC</text>
<rect x="246.40" y="1564.09" width="26.30" height="21.44" fill="#ffffff" stroke="#1a1a1a" stroke-width="1.15" />
<text x="259.70" y="1578.21" font-size="9.3" text-anchor="middle" fill="#1a1a1a">0.10</text>
<rect x="272.70" y="1564.09" width="26.80" height="21.44" fill="#ffffff" stroke="#1a1a1a" stroke-width="1.15" />
<text x="286.00" y="1578.21" font-size="9.3" text-anchor="middle" fill="#1a1a1a">0.09</text>
<text x="62.70" y="1602.12" font-size="14.6" textLength="139.4" lengthAdjust="spacing" font-family='"Liberation Mono", monospace' stroke="#111" stroke-width="0.08">GGAGGTAG<tspan fill="#f2161e" stroke="#f2161e" stroke-width="0.4">a</tspan>AT<tspan fill="#f2161e" stroke="#f2161e" stroke-width="0.4">t</tspan>CAGA</text>
<text x="211.70" y="1602.12" font-size="14.6" fill="#1f7ac4" textLength="25.7" lengthAdjust="spacing" font-family='"Liberation Mono", monospace' stroke="#1f7ac4" stroke-width="0.32">CAC</text>
<rect x="246.40" y="1585.52" width="26.30" height="21.44" fill="#ffffff" stroke="#1a1a1a" stroke-width="1.15" />
<text x="259.70" y="1599.64" font-size="9.3" text-anchor="middle" fill="#1a1a1a">0.04</text>
<rect x="272.70" y="1585.52" width="26.80" height="21.44" fill="#ffffff" stroke="#1a1a1a" stroke-width="1.15" />
<text x="286.00" y="1599.64" font-size="9.3" text-anchor="middle" fill="#1a1a1a">0.02</text>
<text x="62.70" y="1623.56" font-size="14.6" textLength="139.4" lengthAdjust="spacing" font-family='"Liberation Mono", monospace' stroke="#111" stroke-width="0.08">GGAGGTA<tspan fill="#f2161e" stroke="#f2161e" stroke-width="0.4">t</tspan>TATACAG<tspan fill="#f2161e" stroke="#f2161e" stroke-width="0.4">c</tspan></text>
<text x="211.70" y="1623.56" font-size="14.6" fill="#1f7ac4" textLength="25.7" lengthAdjust="spacing" font-family='"Liberation Mono", monospace' stroke="#1f7ac4" stroke-width="0.32">CAC</text>
<rect x="246.40" y="1606.96" width="26.30" height="21.44" fill="#fffdfd" stroke="#1a1a1a" stroke-width="1.15" />
<text x="259.70" y="1621.08" font-size="9.3" text-anchor="middle" fill="#1a1a1a">0.64</text>
<rect x="272.70" y="1606.96" width="26.80" height="21.44" fill="#fffdfd" stroke="#1a1a1a" stroke-width="1.15" />
<text x="286.00" y="1621.08" font-size="9.3" text-anchor="middle" fill="#1a1a1a">0.61</text>
<text x="62.70" y="1644.99" font-size="14.6" textLength="139.4" lengthAdjust="spacing" font-family='"Liberation Mono", monospace' stroke="#111" stroke-width="0.08">GGAG<tspan fill="#f2161e" stroke="#f2161e" stroke-width="0.4">a</tspan>TAGTATACA<tspan fill="#f2161e" stroke="#f2161e" stroke-width="0.4">t</tspan>A</text>
<text x="211.70" y="1644.99" font-size="14.6" fill="#1f7ac4" textLength="25.7" lengthAdjust="spacing" font-family='"Liberation Mono", monospace' stroke="#1f7ac4" stroke-width="0.32">AAC</text>
<rect x="246.40" y="1628.39" width="26.30" height="21.44" fill="#ffffff" stroke="#1a1a1a" stroke-width="1.15" />
<text x="259.70" y="1642.51" font-size="9.3" text-anchor="middle" fill="#1a1a1a">0.13</text>
<rect x="272.70" y="1628.39" width="26.80" height="21.44" fill="#fffbfb" stroke="#1a1a1a" stroke-width="1.15" />
<text x="286.00" y="1642.51" font-size="9.3" text-anchor="middle" fill="#1a1a1a">1.25</text>
<text x="62.70" y="1666.43" font-size="14.6" textLength="139.4" lengthAdjust="spacing" font-family='"Liberation Mono", monospace' stroke="#111" stroke-width="0.08">G<tspan fill="#f2161e" stroke="#f2161e" stroke-width="0.4">t</tspan>AGGTAGTATACAG<tspan fill="#f2161e" stroke="#f2161e" stroke-width="0.4">t</tspan></text>
<text x="211.70" y="1666.43" font-size="14.6" fill="#1f7ac4" textLength="25.7" lengthAdjust="spacing" font-family='"Liberation Mono", monospace' stroke="#1f7ac4" stroke-width="0.32">GAC</text>
<rect x="246.40" y="1649.83" width="26.30" height="21.44" fill="#ffffff" stroke="#1a1a1a" stroke-width="1.15" />
<text x="259.70" y="1663.95" font-size="9.3" text-anchor="middle" fill="#1a1a1a">0.02</text>
<rect x="272.70" y="1649.83" width="26.80" height="21.44" fill="#ffffff" stroke="#1a1a1a" stroke-width="1.15" />
<text x="286.00" y="1663.95" font-size="9.3" text-anchor="middle" fill="#1a1a1a">0.02</text>
<text x="62.70" y="1687.86" font-size="14.6" textLength="139.4" lengthAdjust="spacing" font-family='"Liberation Mono", monospace' stroke="#111" stroke-width="0.08">GGA<tspan fill="#f2161e" stroke="#f2161e" stroke-width="0.4">t</tspan>GTAGTATACA<tspan fill="#f2161e" stroke="#f2161e" stroke-width="0.4">c</tspan>A</text>
<text x="211.70" y="1687.86" font-size="14.6" fill="#1f7ac4" textLength="25.7" lengthAdjust="spacing" font-family='"Liberation Mono", monospace' stroke="#1f7ac4" stroke-width="0.32">AAC</text>
<rect x="246.40" y="1671.26" width="26.30" height="21.44" fill="#ffffff" stroke="#1a1a1a" stroke-width="1.15" />
<text x="259.70" y="1685.38" font-size="9.3" text-anchor="middle" fill="#1a1a1a">0.01</text>
<rect x="272.70" y="1671.26" width="26.80" height="21.44" fill="#ffffff" stroke="#1a1a1a" stroke-width="1.15" />
<text x="286.00" y="1685.38" font-size="9.3" text-anchor="middle" fill="#1a1a1a">0.01</text>
<line x1="259.40" y1="1320.30" x2="259.40" y2="1328.30" stroke="#222" stroke-width="1" />
<line x1="286.00" y1="1320.30" x2="286.00" y2="1328.30" stroke="#222" stroke-width="1" />
<text x="260.00" y="1320.00" font-size="14.5" transform="rotate(-45 260.00 1320.00)" textLength="82.0" lengthAdjust="spacingAndGlyphs">enDelIscB</text>
<text x="285.70" y="1320.00" font-size="14.5" transform="rotate(-45 285.70 1320.00)" textLength="122.0" lengthAdjust="spacingAndGlyphs">enDelIscB-T5E</text>
<text x="312.20" y="1320.00" font-size="14.5" transform="rotate(-45 312.20 1320.00)" textLength="70.0" lengthAdjust="spacingAndGlyphs">Indel(%)</text>
<rect x="305.40" y="1328.30" width="18.60" height="364.40" fill="url(#cb)" stroke="#1a1a1a" stroke-width="1" />
<line x1="305.40" y1="1331.50" x2="310.00" y2="1331.50" stroke="#401010" stroke-width="1" />
<line x1="319.40" y1="1331.50" x2="324.00" y2="1331.50" stroke="#401010" stroke-width="1" />
<text x="328.30" y="1334.10" font-size="15.3">80</text>
<line x1="305.40" y1="1421.60" x2="310.00" y2="1421.60" stroke="#401010" stroke-width="1" />
<line x1="319.40" y1="1421.60" x2="324.00" y2="1421.60" stroke="#401010" stroke-width="1" />
<text x="328.30" y="1424.20" font-size="15.3">60</text>
<line x1="305.40" y1="1511.90" x2="310.00" y2="1511.90" stroke="#401010" stroke-width="1" />
<line x1="319.40" y1="1511.90" x2="324.00" y2="1511.90" stroke="#401010" stroke-width="1" />
<text x="328.30" y="1514.50" font-size="15.3">40</text>
<line x1="305.40" y1="1602.20" x2="310.00" y2="1602.20" stroke="#401010" stroke-width="1" />
<line x1="319.40" y1="1602.20" x2="324.00" y2="1602.20" stroke="#401010" stroke-width="1" />
<text x="328.30" y="1604.80" font-size="15.3">20</text>
<line x1="305.40" y1="1692.50" x2="310.00" y2="1692.50" stroke="#401010" stroke-width="1" />
<line x1="319.40" y1="1692.50" x2="324.00" y2="1692.50" stroke="#401010" stroke-width="1" />
<text x="328.30" y="1695.10" font-size="15.3">0</text>
<text x="511.20" y="1323.00" font-size="14.6" text-anchor="middle" textLength="80.9" lengthAdjust="spacing" font-family='"Liberation Mono", monospace' stroke="#111" stroke-width="0.08"><tspan font-style="italic">VEGFA</tspan>−sg2</text>
<text x="589.30" y="1323.00" font-size="14.6" fill="#1f7ac4" textLength="25.7" lengthAdjust="spacing" font-family='"Liberation Mono", monospace' stroke="#1f7ac4" stroke-width="0.32">TAM</text>
<text x="440.00" y="1344.90" font-size="14.6" textLength="139.4" lengthAdjust="spacing" font-family='"Liberation Mono", monospace' stroke="#111" stroke-width="0.08">GGGAGACCAGGGTAGA</text>
<text x="589.30" y="1344.90" font-size="14.6" fill="#1f7ac4" textLength="25.7" lengthAdjust="spacing" font-family='"Liberation Mono", monospace' stroke="#1f7ac4" stroke-width="0.32">GAC</text>
<rect x="621.00" y="1328.30" width="26.30" height="21.44" fill="#ff2828" stroke="#1a1a1a" stroke-width="1.15" />
<text x="634.30" y="1342.42" font-size="9.3" text-anchor="middle" fill="#1a1a1a">74.67</text>
<rect x="647.30" y="1328.30" width="26.80" height="21.44" fill="#ff0202" stroke="#1a1a1a" stroke-width="1.15" />
<text x="660.60" y="1342.42" font-size="9.3" text-anchor="middle" fill="#1a1a1a">88.03</text>
<text x="440.00" y="1366.34" font-size="14.6" textLength="139.4" lengthAdjust="spacing" font-family='"Liberation Mono", monospace' stroke="#111" stroke-width="0.08"><tspan fill="#f2161e" stroke="#f2161e" stroke-width="0.4">c</tspan>GGAGACCAGGGTAGA</text>
<text x="589.30" y="1366.34" font-size="14.6" fill="#1f7ac4" textLength="25.7" lengthAdjust="spacing" font-family='"Liberation Mono", monospace' stroke="#1f7ac4" stroke-width="0.32">GAC</text>
<rect x="621.00" y="1349.74" width="26.30" height="21.44" fill="#fffbfb" stroke="#1a1a1a" stroke-width="1.15" />
<text x="634.30" y="1363.85" font-size="9.3" text-anchor="middle" fill="#1a1a1a">1.24</text>
<rect x="647.30" y="1349.74" width="26.80" height="21.44" fill="#ffb3b3" stroke="#1a1a1a" stroke-width="1.15" />
<text x="660.60" y="1363.85" font-size="9.3" text-anchor="middle" fill="#1a1a1a">26.38</text>
<text x="440.00" y="1387.77" font-size="14.6" textLength="139.4" lengthAdjust="spacing" font-family='"Liberation Mono", monospace' stroke="#111" stroke-width="0.08">GGGAGAC<tspan fill="#f2161e" stroke="#f2161e" stroke-width="0.4">a</tspan>AGGGTAGA</text>
<text x="589.30" y="1387.77" font-size="14.6" fill="#1f7ac4" textLength="25.7" lengthAdjust="spacing" font-family='"Liberation Mono", monospace' stroke="#1f7ac4" stroke-width="0.32">AAC</text>
<rect x="621.00" y="1371.17" width="26.30" height="21.44" fill="#ffacac" stroke="#1a1a1a" stroke-width="1.15" />
<text x="634.30" y="1385.29" font-size="9.3" text-anchor="middle" fill="#1a1a1a">28.98</text>
<rect x="647.30" y="1371.17" width="26.80" height="21.44" fill="#ffb0b0" stroke="#1a1a1a" stroke-width="1.15" />
<text x="660.60" y="1385.29" font-size="9.3" text-anchor="middle" fill="#1a1a1a">27.43</text>
<text x="440.00" y="1409.21" font-size="14.6" textLength="139.4" lengthAdjust="spacing" font-family='"Liberation Mono", monospace' stroke="#111" stroke-width="0.08">GGGAGACCAGGGTA<tspan fill="#f2161e" stroke="#f2161e" stroke-width="0.4">a</tspan>A</text>
<text x="589.30" y="1409.21" font-size="14.6" fill="#1f7ac4" textLength="25.7" lengthAdjust="spacing" font-family='"Liberation Mono", monospace' stroke="#1f7ac4" stroke-width="0.32">TAC</text>
<rect x="621.00" y="1392.61" width="26.30" height="21.44" fill="#ff9494" stroke="#1a1a1a" stroke-width="1.15" />
<text x="634.30" y="1406.72" font-size="9.3" text-anchor="middle" fill="#1a1a1a">37.26</text>
<rect x="647.30" y="1392.61" width="26.80" height="21.44" fill="#ff2d2d" stroke="#1a1a1a" stroke-width="1.15" />
<text x="660.60" y="1406.72" font-size="9.3" text-anchor="middle" fill="#1a1a1a">73.25</text>
<text x="440.00" y="1430.64" font-size="14.6" textLength="139.4" lengthAdjust="spacing" font-family='"Liberation Mono", monospace' stroke="#111" stroke-width="0.08">GGGAGA<tspan fill="#f2161e" stroke="#f2161e" stroke-width="0.4">g</tspan>CAGGGTAGA</text>
<text x="589.30" y="1430.64" font-size="14.6" fill="#1f7ac4" textLength="25.7" lengthAdjust="spacing" font-family='"Liberation Mono", monospace' stroke="#1f7ac4" stroke-width="0.32">TAC</text>
<rect x="621.00" y="1414.04" width="26.30" height="21.44" fill="#ffffff" stroke="#1a1a1a" stroke-width="1.15" />
<text x="634.30" y="1428.16" font-size="9.3" text-anchor="middle" fill="#1a1a1a">0.13</text>
<rect x="647.30" y="1414.04" width="26.80" height="21.44" fill="#fffefe" stroke="#1a1a1a" stroke-width="1.15" />
<text x="660.60" y="1428.16" font-size="9.3" text-anchor="middle" fill="#1a1a1a">0.43</text>
<text x="440.00" y="1452.08" font-size="14.6" textLength="139.4" lengthAdjust="spacing" font-family='"Liberation Mono", monospace' stroke="#111" stroke-width="0.08">GGGA<tspan fill="#f2161e" stroke="#f2161e" stroke-width="0.4">a</tspan>ACCAGGGTAG<tspan fill="#f2161e" stroke="#f2161e" stroke-width="0.4">c</tspan></text>
<text x="589.30" y="1452.08" font-size="14.6" fill="#1f7ac4" textLength="25.7" lengthAdjust="spacing" font-family='"Liberation Mono", monospace' stroke="#1f7ac4" stroke-width="0.32">CAC</text>
<rect x="621.00" y="1435.48" width="26.30" height="21.44" fill="#ffffff" stroke="#1a1a1a" stroke-width="1.15" />
<text x="634.30" y="1449.59" font-size="9.3" text-anchor="middle" fill="#1a1a1a">0.14</text>
<rect x="647.30" y="1435.48" width="26.80" height="21.44" fill="#fffdfd" stroke="#1a1a1a" stroke-width="1.15" />
<text x="660.60" y="1449.59" font-size="9.3" text-anchor="middle" fill="#1a1a1a">0.55</text>
<text x="440.00" y="1473.51" font-size="14.6" textLength="139.4" lengthAdjust="spacing" font-family='"Liberation Mono", monospace' stroke="#111" stroke-width="0.08">GGGAGA<tspan fill="#f2161e" stroke="#f2161e" stroke-width="0.4">a</tspan>CAGG<tspan fill="#f2161e" stroke="#f2161e" stroke-width="0.4">a</tspan>TAGA</text>
<text x="589.30" y="1473.51" font-size="14.6" fill="#1f7ac4" textLength="25.7" lengthAdjust="spacing" font-family='"Liberation Mono", monospace' stroke="#1f7ac4" stroke-width="0.32">CAC</text>
<rect x="621.00" y="1456.91" width="26.30" height="21.44" fill="#ffffff" stroke="#1a1a1a" stroke-width="1.15" />
<text x="634.30" y="1471.03" font-size="9.3" text-anchor="middle" fill="#1a1a1a">0.04</text>
<rect x="647.30" y="1456.91" width="26.80" height="21.44" fill="#fffefe" stroke="#1a1a1a" stroke-width="1.15" />
<text x="660.60" y="1471.03" font-size="9.3" text-anchor="middle" fill="#1a1a1a">0.21</text>
<text x="440.00" y="1494.95" font-size="14.6" textLength="139.4" lengthAdjust="spacing" font-family='"Liberation Mono", monospace' stroke="#111" stroke-width="0.08">GGGAGAC<tspan fill="#f2161e" stroke="#f2161e" stroke-width="0.4">a</tspan>AGGGT<tspan fill="#f2161e" stroke="#f2161e" stroke-width="0.4">g</tspan>GA</text>
<text x="589.30" y="1494.95" font-size="14.6" fill="#1f7ac4" textLength="25.7" lengthAdjust="spacing" font-family='"Liberation Mono", monospace' stroke="#1f7ac4" stroke-width="0.32">AAC</text>
<rect x="621.00" y="1478.35" width="26.30" height="21.44" fill="#fffefe" stroke="#1a1a1a" stroke-width="1.15" />
<text x="634.30" y="1492.46" font-size="9.3" text-anchor="middle" fill="#1a1a1a">0.19</text>
<rect x="647.30" y="1478.35" width="26.80" height="21.44" fill="#ffffff" stroke="#1a1a1a" stroke-width="1.15" />
<text x="660.60" y="1492.46" font-size="9.3" text-anchor="middle" fill="#1a1a1a">0.14</text>
<text x="440.00" y="1516.38" font-size="14.6" textLength="139.4" lengthAdjust="spacing" font-family='"Liberation Mono", monospace' stroke="#111" stroke-width="0.08">GGGAGACC<tspan fill="#f2161e" stroke="#f2161e" stroke-width="0.4">t</tspan>G<tspan fill="#f2161e" stroke="#f2161e" stroke-width="0.4">a</tspan>GTAGA</text>
<text x="589.30" y="1516.38" font-size="14.6" fill="#1f7ac4" textLength="25.7" lengthAdjust="spacing" font-family='"Liberation Mono", monospace' stroke="#1f7ac4" stroke-width="0.32">AAC</text>
<rect x="621.00" y="1499.78" width="26.30" height="21.44" fill="#ffffff" stroke="#1a1a1a" stroke-width="1.15" />
<text x="634.30" y="1513.90" font-size="9.3" text-anchor="middle" fill="#1a1a1a">0.04</text>
<rect x="647.30" y="1499.78" width="26.80" height="21.44" fill="#fffefe" stroke="#1a1a1a" stroke-width="1.15" />
<text x="660.60" y="1513.90" font-size="9.3" text-anchor="middle" fill="#1a1a1a">0.18</text>
<text x="440.00" y="1537.82" font-size="14.6" textLength="139.4" lengthAdjust="spacing" font-family='"Liberation Mono", monospace' stroke="#111" stroke-width="0.08">GGGAGA<tspan fill="#f2161e" stroke="#f2161e" stroke-width="0.4">g</tspan>CAG<tspan fill="#f2161e" stroke="#f2161e" stroke-width="0.4">t</tspan>GTAGA</text>
<text x="589.30" y="1537.82" font-size="14.6" fill="#1f7ac4" textLength="25.7" lengthAdjust="spacing" font-family='"Liberation Mono", monospace' stroke="#1f7ac4" stroke-width="0.32">AAC</text>
<rect x="621.00" y="1521.22" width="26.30" height="21.44" fill="#fffefe" stroke="#1a1a1a" stroke-width="1.15" />
<text x="634.30" y="1535.34" font-size="9.3" text-anchor="middle" fill="#1a1a1a">0.22</text>
<rect x="647.30" y="1521.22" width="26.80" height="21.44" fill="#fffefe" stroke="#1a1a1a" stroke-width="1.15" />
<text x="660.60" y="1535.34" font-size="9.3" text-anchor="middle" fill="#1a1a1a">0.21</text>
<text x="440.00" y="1559.25" font-size="14.6" textLength="139.4" lengthAdjust="spacing" font-family='"Liberation Mono", monospace' stroke="#111" stroke-width="0.08">GGGAG<tspan fill="#f2161e" stroke="#f2161e" stroke-width="0.4">g</tspan>CCAGGG<tspan fill="#f2161e" stroke="#f2161e" stroke-width="0.4">c</tspan>AGA</text>
<text x="589.30" y="1559.25" font-size="14.6" fill="#1f7ac4" textLength="25.7" lengthAdjust="spacing" font-family='"Liberation Mono", monospace' stroke="#1f7ac4" stroke-width="0.32">AAC</text>
<rect x="621.00" y="1542.65" width="26.30" height="21.44" fill="#ffffff" stroke="#1a1a1a" stroke-width="1.15" />
<text x="634.30" y="1556.77" font-size="9.3" text-anchor="middle" fill="#1a1a1a">0.01</text>
<rect x="647.30" y="1542.65" width="26.80" height="21.44" fill="#ffffff" stroke="#1a1a1a" stroke-width="1.15" />
<text x="660.60" y="1556.77" font-size="9.3" text-anchor="middle" fill="#1a1a1a">0.01</text>
<text x="440.00" y="1580.69" font-size="14.6" textLength="139.4" lengthAdjust="spacing" font-family='"Liberation Mono", monospace' stroke="#111" stroke-width="0.08">GGG<tspan fill="#f2161e" stroke="#f2161e" stroke-width="0.4">g</tspan>GACCAG<tspan fill="#f2161e" stroke="#f2161e" stroke-width="0.4">t</tspan>GTAGA</text>
<text x="589.30" y="1580.69" font-size="14.6" fill="#1f7ac4" textLength="25.7" lengthAdjust="spacing" font-family='"Liberation Mono", monospace' stroke="#1f7ac4" stroke-width="0.32">GAC</text>
<rect x="621.00" y="1564.09" width="26.30" height="21.44" fill="#ff1212" stroke="#1a1a1a" stroke-width="1.15" />
<text x="634.30" y="1578.21" font-size="9.3" text-anchor="middle" fill="#1a1a1a">82.63</text>
<rect x="647.30" y="1564.09" width="26.80" height="21.44" fill="#ff1414" stroke="#1a1a1a" stroke-width="1.15" />
<text x="660.60" y="1578.21" font-size="9.3" text-anchor="middle" fill="#1a1a1a">81.76</text>
<text x="440.00" y="1602.12" font-size="14.6" textLength="139.4" lengthAdjust="spacing" font-family='"Liberation Mono", monospace' stroke="#111" stroke-width="0.08">GG<tspan fill="#f2161e" stroke="#f2161e" stroke-width="0.4">t</tspan>AGACCAGGGTA<tspan fill="#f2161e" stroke="#f2161e" stroke-width="0.4">c</tspan>A</text>
<text x="589.30" y="1602.12" font-size="14.6" fill="#1f7ac4" textLength="25.7" lengthAdjust="spacing" font-family='"Liberation Mono", monospace' stroke="#1f7ac4" stroke-width="0.32">CAC</text>
<rect x="621.00" y="1585.52" width="26.30" height="21.44" fill="#ffffff" stroke="#1a1a1a" stroke-width="1.15" />
<text x="634.30" y="1599.64" font-size="9.3" text-anchor="middle" fill="#1a1a1a">0.02</text>
<rect x="647.30" y="1585.52" width="26.80" height="21.44" fill="#ffffff" stroke="#1a1a1a" stroke-width="1.15" />
<text x="660.60" y="1599.64" font-size="9.3" text-anchor="middle" fill="#1a1a1a">0.02</text>
<text x="440.00" y="1623.56" font-size="14.6" textLength="139.4" lengthAdjust="spacing" font-family='"Liberation Mono", monospace' stroke="#111" stroke-width="0.08">GG<tspan fill="#f2161e" stroke="#f2161e" stroke-width="0.4">t</tspan>AGACCAGGGTAG<tspan fill="#f2161e" stroke="#f2161e" stroke-width="0.4">c</tspan></text>
<text x="589.30" y="1623.56" font-size="14.6" fill="#1f7ac4" textLength="25.7" lengthAdjust="spacing" font-family='"Liberation Mono", monospace' stroke="#1f7ac4" stroke-width="0.32">CAC</text>
<rect x="621.00" y="1606.96" width="26.30" height="21.44" fill="#ffffff" stroke="#1a1a1a" stroke-width="1.15" />
<text x="634.30" y="1621.08" font-size="9.3" text-anchor="middle" fill="#1a1a1a">0.04</text>
<rect x="647.30" y="1606.96" width="26.80" height="21.44" fill="#ffffff" stroke="#1a1a1a" stroke-width="1.15" />
<text x="660.60" y="1621.08" font-size="9.3" text-anchor="middle" fill="#1a1a1a">0.04</text>
<text x="440.00" y="1644.99" font-size="14.6" textLength="139.4" lengthAdjust="spacing" font-family='"Liberation Mono", monospace' stroke="#111" stroke-width="0.08"><tspan fill="#f2161e" stroke="#f2161e" stroke-width="0.4">t</tspan>GGAGACCA<tspan fill="#f2161e" stroke="#f2161e" stroke-width="0.4">t</tspan>GGTAGA</text>
<text x="589.30" y="1644.99" font-size="14.6" fill="#1f7ac4" textLength="25.7" lengthAdjust="spacing" font-family='"Liberation Mono", monospace' stroke="#1f7ac4" stroke-width="0.32">TAC</text>
<rect x="621.00" y="1628.39" width="26.30" height="21.44" fill="#ffffff" stroke="#1a1a1a" stroke-width="1.15" />
<text x="634.30" y="1642.51" font-size="9.3" text-anchor="middle" fill="#1a1a1a">0.03</text>
<rect x="647.30" y="1628.39" width="26.80" height="21.44" fill="#ffffff" stroke="#1a1a1a" stroke-width="1.15" />
<text x="660.60" y="1642.51" font-size="9.3" text-anchor="middle" fill="#1a1a1a">0.09</text>
<text x="440.00" y="1666.43" font-size="14.6" textLength="139.4" lengthAdjust="spacing" font-family='"Liberation Mono", monospace' stroke="#111" stroke-width="0.08">G<tspan fill="#f2161e" stroke="#f2161e" stroke-width="0.4">c</tspan>GAGACCAGGG<tspan fill="#f2161e" stroke="#f2161e" stroke-width="0.4">a</tspan>AGA</text>
<text x="589.30" y="1666.43" font-size="14.6" fill="#1f7ac4" textLength="25.7" lengthAdjust="spacing" font-family='"Liberation Mono", monospace' stroke="#1f7ac4" stroke-width="0.32">AAC</text>
<rect x="621.00" y="1649.83" width="26.30" height="21.44" fill="#ffffff" stroke="#1a1a1a" stroke-width="1.15" />
<text x="634.30" y="1663.95" font-size="9.3" text-anchor="middle" fill="#1a1a1a">0.02</text>
<rect x="647.30" y="1649.83" width="26.80" height="21.44" fill="#ffffff" stroke="#1a1a1a" stroke-width="1.15" />
<text x="660.60" y="1663.95" font-size="9.3" text-anchor="middle" fill="#1a1a1a">0.01</text>
<text x="440.00" y="1687.86" font-size="14.6" textLength="139.4" lengthAdjust="spacing" font-family='"Liberation Mono", monospace' stroke="#111" stroke-width="0.08">GGGAGACCA<tspan fill="#f2161e" stroke="#f2161e" stroke-width="0.4">a</tspan>GGTAG<tspan fill="#f2161e" stroke="#f2161e" stroke-width="0.4">c</tspan></text>
<text x="589.30" y="1687.86" font-size="14.6" fill="#1f7ac4" textLength="25.7" lengthAdjust="spacing" font-family='"Liberation Mono", monospace' stroke="#1f7ac4" stroke-width="0.32">TAC</text>
<rect x="621.00" y="1671.26" width="26.30" height="21.44" fill="#ffffff" stroke="#1a1a1a" stroke-width="1.15" />
<text x="634.30" y="1685.38" font-size="9.3" text-anchor="middle" fill="#1a1a1a">0.08</text>
<rect x="647.30" y="1671.26" width="26.80" height="21.44" fill="#ffffff" stroke="#1a1a1a" stroke-width="1.15" />
<text x="660.60" y="1685.38" font-size="9.3" text-anchor="middle" fill="#1a1a1a">0.07</text>
<line x1="634.00" y1="1320.30" x2="634.00" y2="1328.30" stroke="#222" stroke-width="1" />
<line x1="660.60" y1="1320.30" x2="660.60" y2="1328.30" stroke="#222" stroke-width="1" />
<text x="634.60" y="1320.00" font-size="14.5" transform="rotate(-45 634.60 1320.00)" textLength="82.0" lengthAdjust="spacingAndGlyphs">enDelIscB</text>
<text x="660.30" y="1320.00" font-size="14.5" transform="rotate(-45 660.30 1320.00)" textLength="122.0" lengthAdjust="spacingAndGlyphs">enDelIscB-T5E</text>
<text x="687.10" y="1320.00" font-size="14.5" transform="rotate(-45 687.10 1320.00)" textLength="70.0" lengthAdjust="spacingAndGlyphs">Indel(%)</text>
<rect x="680.30" y="1328.30" width="18.60" height="364.40" fill="url(#cb)" stroke="#1a1a1a" stroke-width="1" />
<line x1="680.30" y1="1361.70" x2="684.90" y2="1361.70" stroke="#401010" stroke-width="1" />
<line x1="694.30" y1="1361.70" x2="698.90" y2="1361.70" stroke="#401010" stroke-width="1" />
<text x="704.00" y="1364.30" font-size="15.3">80</text>
<line x1="680.30" y1="1444.50" x2="684.90" y2="1444.50" stroke="#401010" stroke-width="1" />
<line x1="694.30" y1="1444.50" x2="698.90" y2="1444.50" stroke="#401010" stroke-width="1" />
<text x="704.00" y="1447.10" font-size="15.3">60</text>
<line x1="680.30" y1="1527.20" x2="684.90" y2="1527.20" stroke="#401010" stroke-width="1" />
<line x1="694.30" y1="1527.20" x2="698.90" y2="1527.20" stroke="#401010" stroke-width="1" />
<text x="704.00" y="1529.80" font-size="15.3">40</text>
<line x1="680.30" y1="1610.00" x2="684.90" y2="1610.00" stroke="#401010" stroke-width="1" />
<line x1="694.30" y1="1610.00" x2="698.90" y2="1610.00" stroke="#401010" stroke-width="1" />
<text x="704.00" y="1612.60" font-size="15.3">20</text>
<line x1="680.30" y1="1692.50" x2="684.90" y2="1692.50" stroke="#401010" stroke-width="1" />
<line x1="694.30" y1="1692.50" x2="698.90" y2="1692.50" stroke="#401010" stroke-width="1" />
<text x="704.00" y="1695.10" font-size="15.3">0</text>
<text x="887.90" y="1324.70" font-size="14.6" text-anchor="middle" textLength="80.9" lengthAdjust="spacing" font-family='"Liberation Mono", monospace' stroke="#111" stroke-width="0.08"><tspan font-style="italic">CXCR4</tspan>−sg2</text>
<text x="966.00" y="1324.70" font-size="14.6" fill="#1f7ac4" textLength="25.7" lengthAdjust="spacing" font-family='"Liberation Mono", monospace' stroke="#1f7ac4" stroke-width="0.32">TAM</text>
<text x="816.70" y="1346.60" font-size="14.6" textLength="139.4" lengthAdjust="spacing" font-family='"Liberation Mono", monospace' stroke="#111" stroke-width="0.08">CCACAGGTCCTGCCTA</text>
<text x="966.00" y="1346.60" font-size="14.6" fill="#1f7ac4" textLength="25.7" lengthAdjust="spacing" font-family='"Liberation Mono", monospace' stroke="#1f7ac4" stroke-width="0.32">GAC</text>
<rect x="996.70" y="1330.00" width="26.30" height="21.45" fill="#ff5454" stroke="#1a1a1a" stroke-width="1.15" />
<text x="1010.00" y="1344.13" font-size="9.3" text-anchor="middle" fill="#1a1a1a">53.46</text>
<rect x="1023.00" y="1330.00" width="26.80" height="21.45" fill="#ff0202" stroke="#1a1a1a" stroke-width="1.15" />
<text x="1036.30" y="1344.13" font-size="9.3" text-anchor="middle" fill="#1a1a1a">79.11</text>
<text x="816.70" y="1368.05" font-size="14.6" textLength="139.4" lengthAdjust="spacing" font-family='"Liberation Mono", monospace' stroke="#111" stroke-width="0.08">CCAC<tspan fill="#f2161e" stroke="#f2161e" stroke-width="0.4">t</tspan>GGTCCTGCCTA</text>
<text x="966.00" y="1368.05" font-size="14.6" fill="#1f7ac4" textLength="25.7" lengthAdjust="spacing" font-family='"Liberation Mono", monospace' stroke="#1f7ac4" stroke-width="0.32">GAC</text>
<rect x="996.70" y="1351.45" width="26.30" height="21.45" fill="#ffffff" stroke="#1a1a1a" stroke-width="1.15" />
<text x="1010.00" y="1365.58" font-size="9.3" text-anchor="middle" fill="#1a1a1a">0.02</text>
<rect x="1023.00" y="1351.45" width="26.80" height="21.45" fill="#ffffff" stroke="#1a1a1a" stroke-width="1.15" />
<text x="1036.30" y="1365.58" font-size="9.3" text-anchor="middle" fill="#1a1a1a">0.02</text>
<text x="816.70" y="1389.51" font-size="14.6" textLength="139.4" lengthAdjust="spacing" font-family='"Liberation Mono", monospace' stroke="#111" stroke-width="0.08">CCACAGG<tspan fill="#f2161e" stroke="#f2161e" stroke-width="0.4">a</tspan>CCTGCCTA</text>
<text x="966.00" y="1389.51" font-size="14.6" fill="#1f7ac4" textLength="25.7" lengthAdjust="spacing" font-family='"Liberation Mono", monospace' stroke="#1f7ac4" stroke-width="0.32">TAC</text>
<rect x="996.70" y="1372.91" width="26.30" height="21.45" fill="#ffffff" stroke="#1a1a1a" stroke-width="1.15" />
<text x="1010.00" y="1387.03" font-size="9.3" text-anchor="middle" fill="#1a1a1a">0.06</text>
<rect x="1023.00" y="1372.91" width="26.80" height="21.45" fill="#ffffff" stroke="#1a1a1a" stroke-width="1.15" />
<text x="1036.30" y="1387.03" font-size="9.3" text-anchor="middle" fill="#1a1a1a">0.06</text>
<text x="816.70" y="1410.96" font-size="14.6" textLength="139.4" lengthAdjust="spacing" font-family='"Liberation Mono", monospace' stroke="#111" stroke-width="0.08">CCACAGGT<tspan fill="#f2161e" stroke="#f2161e" stroke-width="0.4">g</tspan>CTGCCTA</text>
<text x="966.00" y="1410.96" font-size="14.6" fill="#1f7ac4" textLength="25.7" lengthAdjust="spacing" font-family='"Liberation Mono", monospace' stroke="#1f7ac4" stroke-width="0.32">AAC</text>
<rect x="996.70" y="1394.36" width="26.30" height="21.45" fill="#ffffff" stroke="#1a1a1a" stroke-width="1.15" />
<text x="1010.00" y="1408.49" font-size="9.3" text-anchor="middle" fill="#1a1a1a">0.03</text>
<rect x="1023.00" y="1394.36" width="26.80" height="21.45" fill="#ffffff" stroke="#1a1a1a" stroke-width="1.15" />
<text x="1036.30" y="1408.49" font-size="9.3" text-anchor="middle" fill="#1a1a1a">0.03</text>
<text x="816.70" y="1432.41" font-size="14.6" textLength="139.4" lengthAdjust="spacing" font-family='"Liberation Mono", monospace' stroke="#111" stroke-width="0.08"><tspan fill="#f2161e" stroke="#f2161e" stroke-width="0.4">a</tspan>CACAGG<tspan fill="#f2161e" stroke="#f2161e" stroke-width="0.4">c</tspan>CCTGCCTA</text>
<text x="966.00" y="1432.41" font-size="14.6" fill="#1f7ac4" textLength="25.7" lengthAdjust="spacing" font-family='"Liberation Mono", monospace' stroke="#1f7ac4" stroke-width="0.32">TAC</text>
<rect x="996.70" y="1415.81" width="26.30" height="21.45" fill="#ffffff" stroke="#1a1a1a" stroke-width="1.15" />
<text x="1010.00" y="1429.94" font-size="9.3" text-anchor="middle" fill="#1a1a1a">0.01</text>
<rect x="1023.00" y="1415.81" width="26.80" height="21.45" fill="#ffffff" stroke="#1a1a1a" stroke-width="1.15" />
<text x="1036.30" y="1429.94" font-size="9.3" text-anchor="middle" fill="#1a1a1a">0.02</text>
<text x="816.70" y="1453.86" font-size="14.6" textLength="139.4" lengthAdjust="spacing" font-family='"Liberation Mono", monospace' stroke="#111" stroke-width="0.08">C<tspan fill="#f2161e" stroke="#f2161e" stroke-width="0.4">a</tspan>ACAGGTCCT<tspan fill="#f2161e" stroke="#f2161e" stroke-width="0.4">t</tspan>CCTA</text>
<text x="966.00" y="1453.86" font-size="14.6" fill="#1f7ac4" textLength="25.7" lengthAdjust="spacing" font-family='"Liberation Mono", monospace' stroke="#1f7ac4" stroke-width="0.32">AAC</text>
<rect x="996.70" y="1437.26" width="26.30" height="21.45" fill="#ffffff" stroke="#1a1a1a" stroke-width="1.15" />
<text x="1010.00" y="1451.39" font-size="9.3" text-anchor="middle" fill="#1a1a1a">0.02</text>
<rect x="1023.00" y="1437.26" width="26.80" height="21.45" fill="#ffffff" stroke="#1a1a1a" stroke-width="1.15" />
<text x="1036.30" y="1451.39" font-size="9.3" text-anchor="middle" fill="#1a1a1a">0.02</text>
<text x="816.70" y="1475.32" font-size="14.6" textLength="139.4" lengthAdjust="spacing" font-family='"Liberation Mono", monospace' stroke="#111" stroke-width="0.08">CC<tspan fill="#f2161e" stroke="#f2161e" stroke-width="0.4">c</tspan>CAGGT<tspan fill="#f2161e" stroke="#f2161e" stroke-width="0.4">g</tspan>CTGCCTA</text>
<text x="966.00" y="1475.32" font-size="14.6" fill="#1f7ac4" textLength="25.7" lengthAdjust="spacing" font-family='"Liberation Mono", monospace' stroke="#1f7ac4" stroke-width="0.32">CAC</text>
<rect x="996.70" y="1458.72" width="26.30" height="21.45" fill="#ffffff" stroke="#1a1a1a" stroke-width="1.15" />
<text x="1010.00" y="1472.84" font-size="9.3" text-anchor="middle" fill="#1a1a1a">0.01</text>
<rect x="1023.00" y="1458.72" width="26.80" height="21.45" fill="#ffffff" stroke="#1a1a1a" stroke-width="1.15" />
<text x="1036.30" y="1472.84" font-size="9.3" text-anchor="middle" fill="#1a1a1a">0.02</text>
<text x="816.70" y="1496.77" font-size="14.6" textLength="139.4" lengthAdjust="spacing" font-family='"Liberation Mono", monospace' stroke="#111" stroke-width="0.08">CCA<tspan fill="#f2161e" stroke="#f2161e" stroke-width="0.4">t</tspan>AG<tspan fill="#f2161e" stroke="#f2161e" stroke-width="0.4">a</tspan>TCCTGCCTA</text>
<text x="966.00" y="1496.77" font-size="14.6" fill="#1f7ac4" textLength="25.7" lengthAdjust="spacing" font-family='"Liberation Mono", monospace' stroke="#1f7ac4" stroke-width="0.32">TAC</text>
<rect x="996.70" y="1480.17" width="26.30" height="21.45" fill="#ffffff" stroke="#1a1a1a" stroke-width="1.15" />
<text x="1010.00" y="1494.30" font-size="9.3" text-anchor="middle" fill="#1a1a1a">0.02</text>
<rect x="1023.00" y="1480.17" width="26.80" height="21.45" fill="#ffffff" stroke="#1a1a1a" stroke-width="1.15" />
<text x="1036.30" y="1494.30" font-size="9.3" text-anchor="middle" fill="#1a1a1a">0.02</text>
<text x="816.70" y="1518.22" font-size="14.6" textLength="139.4" lengthAdjust="spacing" font-family='"Liberation Mono", monospace' stroke="#111" stroke-width="0.08">CCACA<tspan fill="#f2161e" stroke="#f2161e" stroke-width="0.4">t</tspan>GTCCTGCCT<tspan fill="#f2161e" stroke="#f2161e" stroke-width="0.4">c</tspan></text>
<text x="966.00" y="1518.22" font-size="14.6" fill="#1f7ac4" textLength="25.7" lengthAdjust="spacing" font-family='"Liberation Mono", monospace' stroke="#1f7ac4" stroke-width="0.32">CAC</text>
<rect x="996.70" y="1501.62" width="26.30" height="21.45" fill="#ffffff" stroke="#1a1a1a" stroke-width="1.15" />
<text x="1010.00" y="1515.75" font-size="9.3" text-anchor="middle" fill="#1a1a1a">0.01</text>
<rect x="1023.00" y="1501.62" width="26.80" height="21.45" fill="#ffffff" stroke="#1a1a1a" stroke-width="1.15" />
<text x="1036.30" y="1515.75" font-size="9.3" text-anchor="middle" fill="#1a1a1a">0.01</text>
<text x="816.70" y="1539.68" font-size="14.6" textLength="139.4" lengthAdjust="spacing" font-family='"Liberation Mono", monospace' stroke="#111" stroke-width="0.08">CCACAGGT<tspan fill="#f2161e" stroke="#f2161e" stroke-width="0.4">t</tspan>CTGCCT<tspan fill="#f2161e" stroke="#f2161e" stroke-width="0.4">t</tspan></text>
<text x="966.00" y="1539.68" font-size="14.6" fill="#1f7ac4" textLength="25.7" lengthAdjust="spacing" font-family='"Liberation Mono", monospace' stroke="#1f7ac4" stroke-width="0.32">GAC</text>
<rect x="996.70" y="1523.08" width="26.30" height="21.45" fill="#ffffff" stroke="#1a1a1a" stroke-width="1.15" />
<text x="1010.00" y="1537.20" font-size="9.3" text-anchor="middle" fill="#1a1a1a">0.02</text>
<rect x="1023.00" y="1523.08" width="26.80" height="21.45" fill="#ffffff" stroke="#1a1a1a" stroke-width="1.15" />
<text x="1036.30" y="1537.20" font-size="9.3" text-anchor="middle" fill="#1a1a1a">0.02</text>
<text x="816.70" y="1561.13" font-size="14.6" textLength="139.4" lengthAdjust="spacing" font-family='"Liberation Mono", monospace' stroke="#111" stroke-width="0.08">CCACAGGTC<tspan fill="#f2161e" stroke="#f2161e" stroke-width="0.4">t</tspan>TGC<tspan fill="#f2161e" stroke="#f2161e" stroke-width="0.4">a</tspan>TA</text>
<text x="966.00" y="1561.13" font-size="14.6" fill="#1f7ac4" textLength="25.7" lengthAdjust="spacing" font-family='"Liberation Mono", monospace' stroke="#1f7ac4" stroke-width="0.32">CAC</text>
<rect x="996.70" y="1544.53" width="26.30" height="21.45" fill="#ffffff" stroke="#1a1a1a" stroke-width="1.15" />
<text x="1010.00" y="1558.66" font-size="9.3" text-anchor="middle" fill="#1a1a1a">0.07</text>
<rect x="1023.00" y="1544.53" width="26.80" height="21.45" fill="#ffffff" stroke="#1a1a1a" stroke-width="1.15" />
<text x="1036.30" y="1558.66" font-size="9.3" text-anchor="middle" fill="#1a1a1a">0.06</text>
<text x="816.70" y="1582.58" font-size="14.6" textLength="139.4" lengthAdjust="spacing" font-family='"Liberation Mono", monospace' stroke="#111" stroke-width="0.08">CCACAGGTCC<tspan fill="#f2161e" stroke="#f2161e" stroke-width="0.4">a</tspan><tspan fill="#f2161e" stroke="#f2161e" stroke-width="0.4">a</tspan>CCTA</text>
<text x="966.00" y="1582.58" font-size="14.6" fill="#1f7ac4" textLength="25.7" lengthAdjust="spacing" font-family='"Liberation Mono", monospace' stroke="#1f7ac4" stroke-width="0.32">CAC</text>
<rect x="996.70" y="1565.98" width="26.30" height="21.45" fill="#ffffff" stroke="#1a1a1a" stroke-width="1.15" />
<text x="1010.00" y="1580.11" font-size="9.3" text-anchor="middle" fill="#1a1a1a">0.01</text>
<rect x="1023.00" y="1565.98" width="26.80" height="21.45" fill="#fffdfd" stroke="#1a1a1a" stroke-width="1.15" />
<text x="1036.30" y="1580.11" font-size="9.3" text-anchor="middle" fill="#1a1a1a">0.50</text>
<text x="816.70" y="1604.04" font-size="14.6" textLength="139.4" lengthAdjust="spacing" font-family='"Liberation Mono", monospace' stroke="#111" stroke-width="0.08">CCACAGGTCCT<tspan fill="#f2161e" stroke="#f2161e" stroke-width="0.4">t</tspan>CC<tspan fill="#f2161e" stroke="#f2161e" stroke-width="0.4">a</tspan>A</text>
<text x="966.00" y="1604.04" font-size="14.6" fill="#1f7ac4" textLength="25.7" lengthAdjust="spacing" font-family='"Liberation Mono", monospace' stroke="#1f7ac4" stroke-width="0.32">GAC</text>
<rect x="996.70" y="1587.44" width="26.30" height="21.45" fill="#ffffff" stroke="#1a1a1a" stroke-width="1.15" />
<text x="1010.00" y="1601.56" font-size="9.3" text-anchor="middle" fill="#1a1a1a">0.04</text>
<rect x="1023.00" y="1587.44" width="26.80" height="21.45" fill="#ffffff" stroke="#1a1a1a" stroke-width="1.15" />
<text x="1036.30" y="1601.56" font-size="9.3" text-anchor="middle" fill="#1a1a1a">0.05</text>
<text x="816.70" y="1625.49" font-size="14.6" textLength="139.4" lengthAdjust="spacing" font-family='"Liberation Mono", monospace' stroke="#111" stroke-width="0.08">CCACA<tspan fill="#f2161e" stroke="#f2161e" stroke-width="0.4">t</tspan>GTCCTG<tspan fill="#f2161e" stroke="#f2161e" stroke-width="0.4">t</tspan>CTA</text>
<text x="966.00" y="1625.49" font-size="14.6" fill="#1f7ac4" textLength="25.7" lengthAdjust="spacing" font-family='"Liberation Mono", monospace' stroke="#1f7ac4" stroke-width="0.32">TAC</text>
<rect x="996.70" y="1608.89" width="26.30" height="21.45" fill="#ffffff" stroke="#1a1a1a" stroke-width="1.15" />
<text x="1010.00" y="1623.01" font-size="9.3" text-anchor="middle" fill="#1a1a1a">0.02</text>
<rect x="1023.00" y="1608.89" width="26.80" height="21.45" fill="#ffffff" stroke="#1a1a1a" stroke-width="1.15" />
<text x="1036.30" y="1623.01" font-size="9.3" text-anchor="middle" fill="#1a1a1a">0.02</text>
<text x="816.70" y="1646.94" font-size="14.6" textLength="139.4" lengthAdjust="spacing" font-family='"Liberation Mono", monospace' stroke="#111" stroke-width="0.08">CCA<tspan fill="#f2161e" stroke="#f2161e" stroke-width="0.4">t</tspan>AGGTCCTGC<tspan fill="#f2161e" stroke="#f2161e" stroke-width="0.4">a</tspan>TA</text>
<text x="966.00" y="1646.94" font-size="14.6" fill="#1f7ac4" textLength="25.7" lengthAdjust="spacing" font-family='"Liberation Mono", monospace' stroke="#1f7ac4" stroke-width="0.32">TAC</text>
<rect x="996.70" y="1630.34" width="26.30" height="21.45" fill="#ffffff" stroke="#1a1a1a" stroke-width="1.15" />
<text x="1010.00" y="1644.47" font-size="9.3" text-anchor="middle" fill="#1a1a1a">0</text>
<rect x="1023.00" y="1630.34" width="26.80" height="21.45" fill="#ffffff" stroke="#1a1a1a" stroke-width="1.15" />
<text x="1036.30" y="1644.47" font-size="9.3" text-anchor="middle" fill="#1a1a1a">0</text>
<text x="816.70" y="1668.39" font-size="14.6" textLength="139.4" lengthAdjust="spacing" font-family='"Liberation Mono", monospace' stroke="#111" stroke-width="0.08">CC<tspan fill="#f2161e" stroke="#f2161e" stroke-width="0.4">g</tspan>CA<tspan fill="#f2161e" stroke="#f2161e" stroke-width="0.4">c</tspan>GTCCTGCCTA</text>
<text x="966.00" y="1668.39" font-size="14.6" fill="#1f7ac4" textLength="25.7" lengthAdjust="spacing" font-family='"Liberation Mono", monospace' stroke="#1f7ac4" stroke-width="0.32">GAC</text>
<rect x="996.70" y="1651.79" width="26.30" height="21.45" fill="#ffffff" stroke="#1a1a1a" stroke-width="1.15" />
<text x="1010.00" y="1665.92" font-size="9.3" text-anchor="middle" fill="#1a1a1a">0.02</text>
<rect x="1023.00" y="1651.79" width="26.80" height="21.45" fill="#ffffff" stroke="#1a1a1a" stroke-width="1.15" />
<text x="1036.30" y="1665.92" font-size="9.3" text-anchor="middle" fill="#1a1a1a">0.02</text>
<text x="816.70" y="1689.85" font-size="14.6" textLength="139.4" lengthAdjust="spacing" font-family='"Liberation Mono", monospace' stroke="#111" stroke-width="0.08">CCACAGG<tspan fill="#f2161e" stroke="#f2161e" stroke-width="0.4">g</tspan>CCTGCC<tspan fill="#f2161e" stroke="#f2161e" stroke-width="0.4">c</tspan>A</text>
<text x="966.00" y="1689.85" font-size="14.6" fill="#1f7ac4" textLength="25.7" lengthAdjust="spacing" font-family='"Liberation Mono", monospace' stroke="#1f7ac4" stroke-width="0.32">GAC</text>
<rect x="996.70" y="1673.25" width="26.30" height="21.45" fill="#ffffff" stroke="#1a1a1a" stroke-width="1.15" />
<text x="1010.00" y="1687.37" font-size="9.3" text-anchor="middle" fill="#1a1a1a">0.01</text>
<rect x="1023.00" y="1673.25" width="26.80" height="21.45" fill="#ffffff" stroke="#1a1a1a" stroke-width="1.15" />
<text x="1036.30" y="1687.37" font-size="9.3" text-anchor="middle" fill="#1a1a1a">0.01</text>
<line x1="1009.70" y1="1322.00" x2="1009.70" y2="1330.00" stroke="#222" stroke-width="1" />
<line x1="1036.30" y1="1322.00" x2="1036.30" y2="1330.00" stroke="#222" stroke-width="1" />
<text x="1008.50" y="1321.70" font-size="14.5" transform="rotate(-45 1008.50 1321.70)" textLength="82.0" lengthAdjust="spacingAndGlyphs">enDelIscB</text>
<text x="1034.20" y="1321.70" font-size="14.5" transform="rotate(-45 1034.20 1321.70)" textLength="122.0" lengthAdjust="spacingAndGlyphs">enDelIscB-T5E</text>
<text x="1061.70" y="1321.70" font-size="14.5" transform="rotate(-45 1061.70 1321.70)" textLength="70.0" lengthAdjust="spacingAndGlyphs">Indel(%)</text>
<rect x="1056.70" y="1330.00" width="18.60" height="364.70" fill="url(#cb)" stroke="#1a1a1a" stroke-width="1" />
<line x1="1056.70" y1="1418.00" x2="1061.30" y2="1418.00" stroke="#401010" stroke-width="1" />
<line x1="1070.70" y1="1418.00" x2="1075.30" y2="1418.00" stroke="#401010" stroke-width="1" />
<text x="1080.00" y="1420.60" font-size="15.3">60</text>
<line x1="1056.70" y1="1510.20" x2="1061.30" y2="1510.20" stroke="#401010" stroke-width="1" />
<line x1="1070.70" y1="1510.20" x2="1075.30" y2="1510.20" stroke="#401010" stroke-width="1" />
<text x="1080.00" y="1512.80" font-size="15.3">40</text>
<line x1="1056.70" y1="1602.40" x2="1061.30" y2="1602.40" stroke="#401010" stroke-width="1" />
<line x1="1070.70" y1="1602.40" x2="1075.30" y2="1602.40" stroke="#401010" stroke-width="1" />
<text x="1080.00" y="1605.00" font-size="15.3">20</text>
<line x1="1056.70" y1="1694.50" x2="1061.30" y2="1694.50" stroke="#401010" stroke-width="1" />
<line x1="1070.70" y1="1694.50" x2="1075.30" y2="1694.50" stroke="#401010" stroke-width="1" />
<text x="1080.00" y="1697.10" font-size="15.3">0</text>
</g>
</svg>
</body></html>
